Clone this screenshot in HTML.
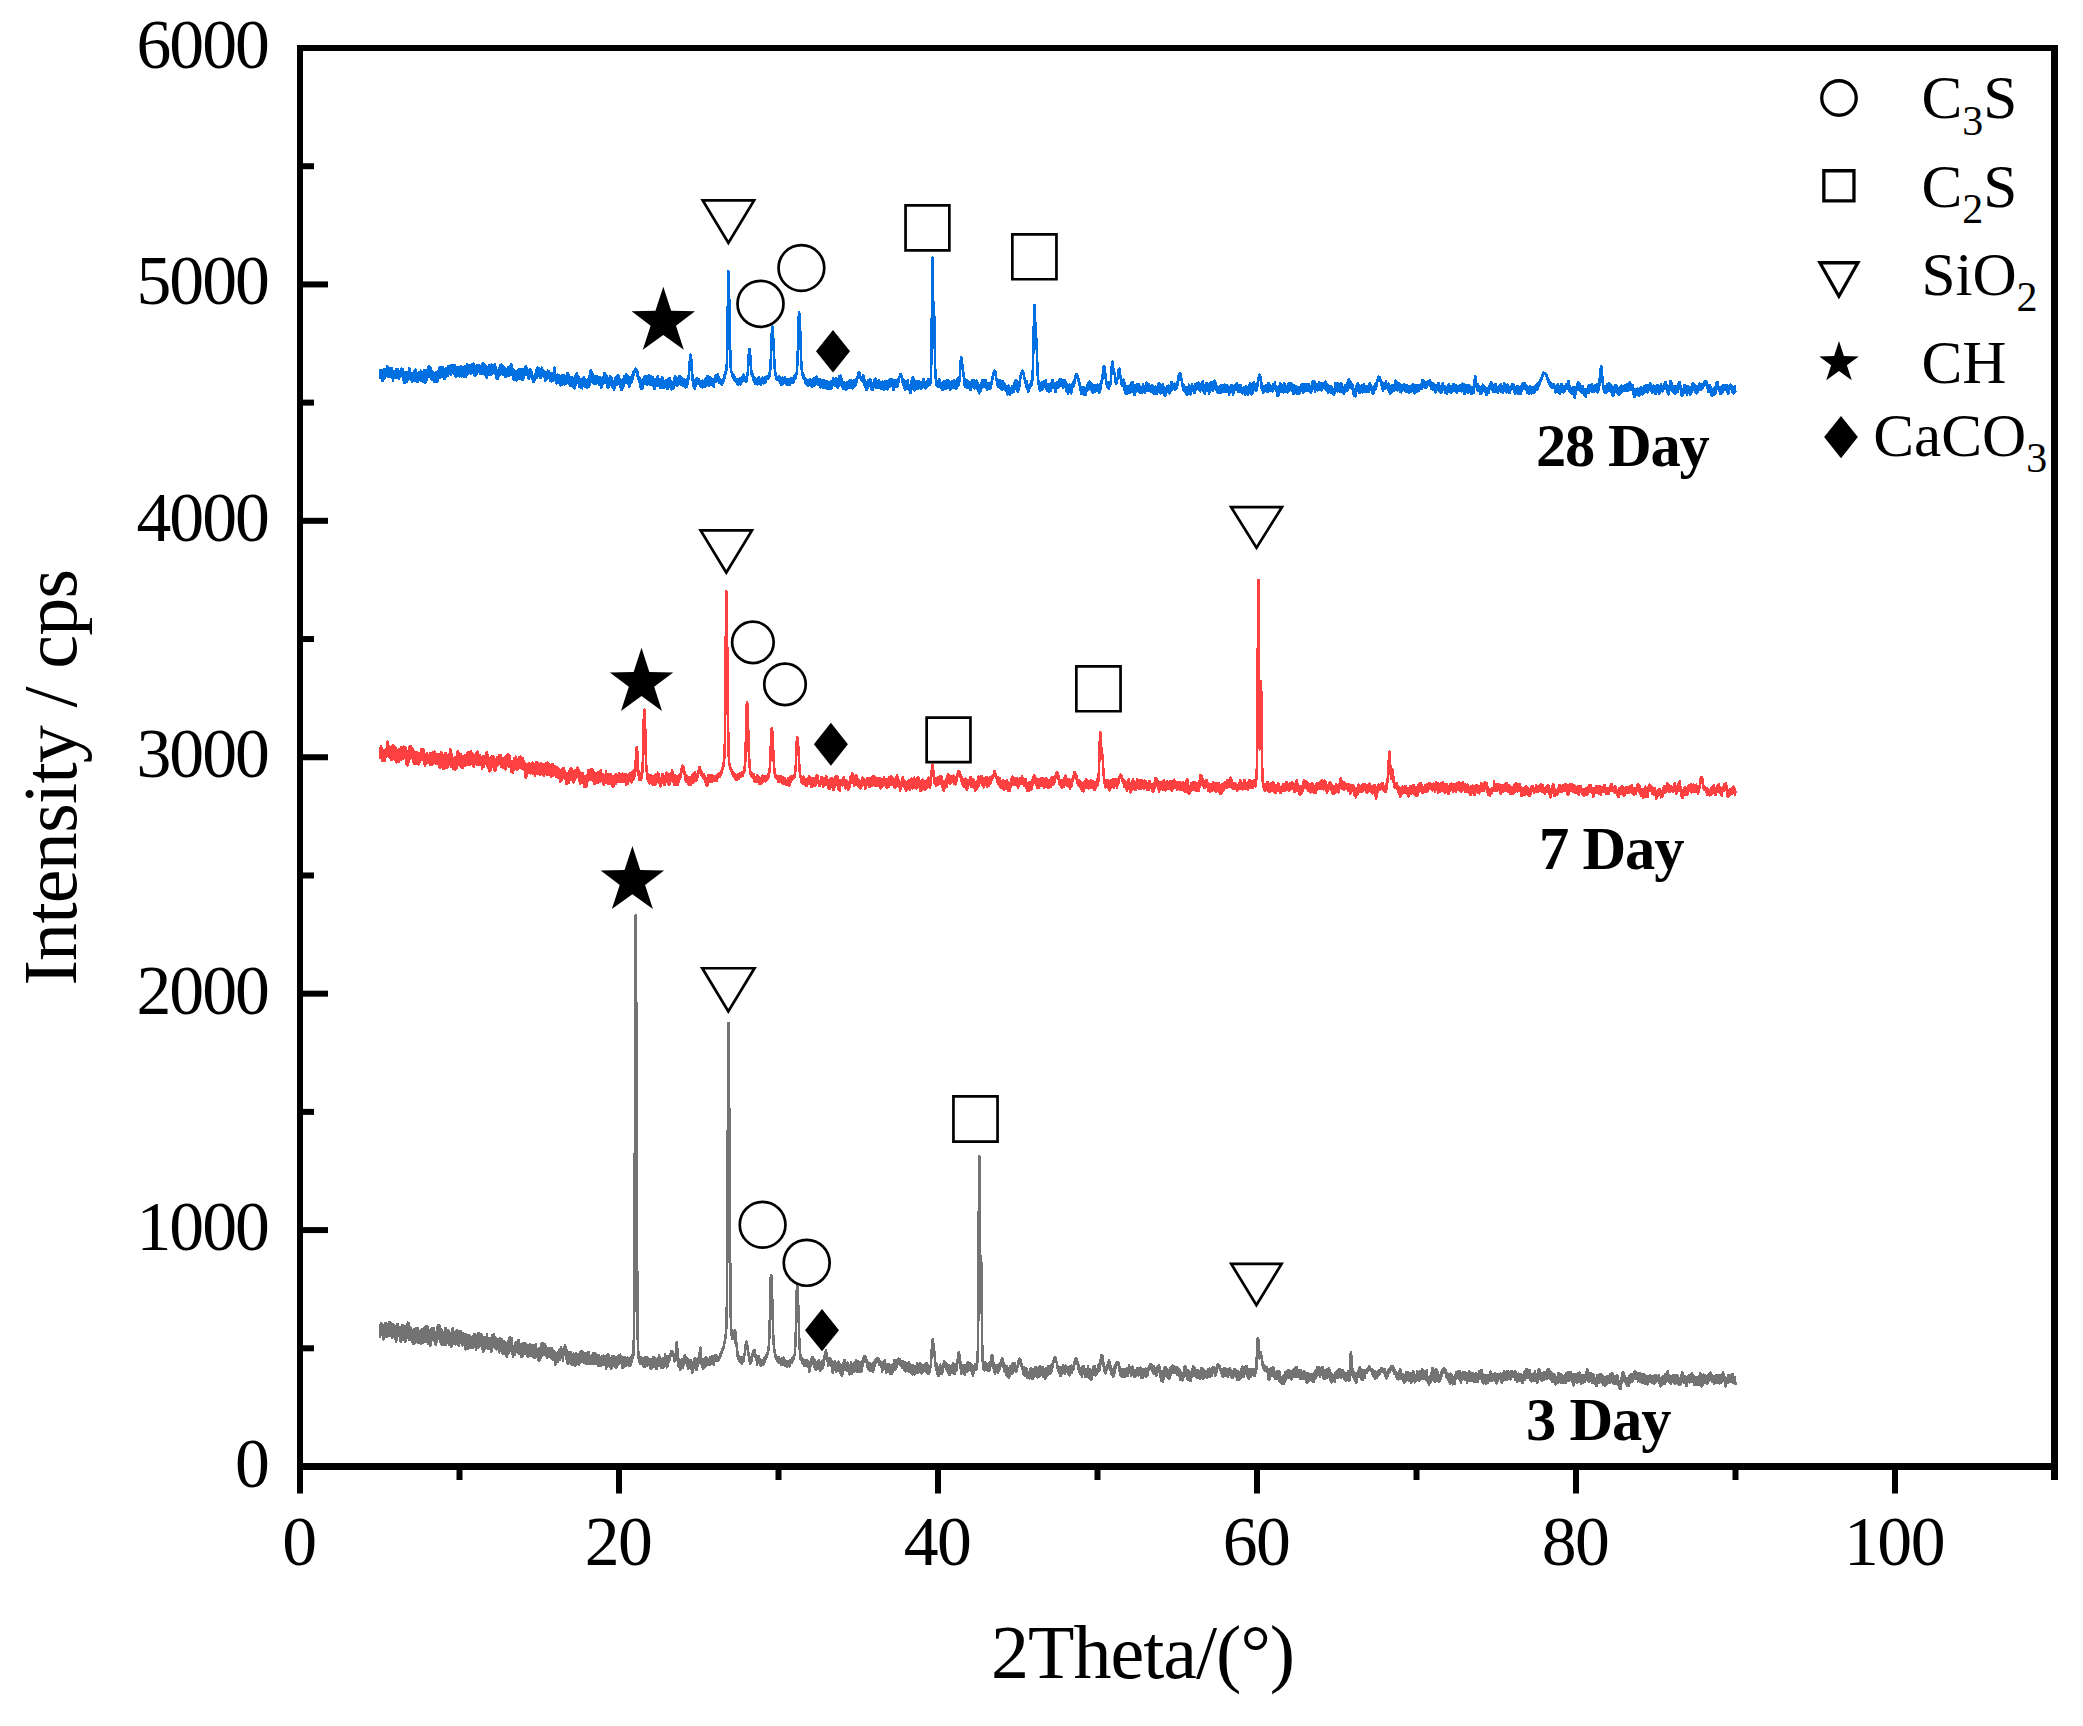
<!DOCTYPE html>
<html><head><meta charset="utf-8"><title>XRD patterns</title>
<style>html,body{margin:0;padding:0;background:#fff;}svg{display:block;}text{font-family:"Liberation Serif","Times New Roman",serif;fill:#000;}</style>
</head><body>
<svg width="2083" height="1726" viewBox="0 0 2083 1726">
<rect width="2083" height="1726" fill="#fff"/>
<g><path fill="none" stroke="#737373" stroke-width="2.6" stroke-linejoin="round" shape-rendering="crispEdges" d="M379.8 1330.4l.1 6.4.2-11.6.1 11.7.2-9.2.1 1.6.2 5.8.2-6.2.1 1.9.2-7.8.1 10.4.2-3.3.2-3.1.1 6.6.2-7 .1 2.3.2-4.3.2 4.3.1-2.5.2 1.4.1 7.5.2-6.4.2 3.2.1 7.4.2-.3.1-3.6.2-2.9.2-4.3.1-2.1.2 11.4.1-7.1.2-6.2.2 7.2.1 2.1.2-2.5.1 4.5.2-12.7.2 7.3.1-.8.2-5.6.1 8.7.2 3.4.1-3.7.2-4.7.2 8.7.1-4.7.2.1.1 3.7.2-8.9.2 9.9.1-2 .2 1.4.1-9 .2 8.8.2-9.3.1-1.9.2 11.3.1-.2.2 0 .2-6.2.1-3.1.2-4.1.1 9.3.2 1 .2 1.6.1-8.4.2-1.1.1 6.2.2 2.4.2 2.4.1-12 .2 5.2.1 6.5.2-6.6.2 3 .1-8 .2 10.2.1 4.1.2-1.1.2 1 .1-3.4.2-6.3.1 7.7.2-8.6.1 9.1.2-11.8.2 11.4.1-9.9.2 3.3.1-.6.2 5.9.2-7.3.1 3.8.2-5.4.1 4.4.2 2.9.2-4.3.1 8.4.2-3.4.1 5.6.2-.9.2-3.3.1 6.6.2-3.8.1 2.3.2-7.7.2 2.4.1-6 .2 11.4.1-12.1.2-.4.2-3.4.1 2.4.2 7.4.1-1.3.2-8.9.2 3.7.1.6.2 3.9.1-3.1.2 2.3.1 4.3.2-1.3.2-5 .1 1.9.2-.7.1-3.4.2 2 .2 1.6.1.8.2.2.1 4.2.2 6 .2-3.1.1 0 .2-.8.1-2.9.2 4.5.2-4 .1-3.4.2-7 .1 5.9.2-4.6.2-1.5.1 5.7.2 4.2.1-7.5.2 7.6.2-3.5.1-5.4.2 13.1.1-8.2.2-1.1.2 9.1.1-10.7.2 9.9.1-8.2.2 3.3.2-2.5.1 9.3.2-7.3.1 8.7.2-6 .1.4.2-3.2.2-3.9.1.9.2 8.1.1-11.9.2 12.1.2-3.7.1-6.4.2 4.4.1-4.1.2.1.2 1.9.1-7.6.2 7.5.1 7.6.2-10.7.2 7.3.1-4.7.2-3.6.1 11.2.2-13.8.2 4.8.1 11.3.2-11.3.1 9.8.2-3.4.2 3.8.1-2.2.2-3.6.1 6.9.2-11.1.2 7.1.1-.9.2 1.9.1-5.4.2 1.5.1 5.3.2-2.9.2 6.2.1-3.1.2 4 .1-2.2.2-2.1.2-5 .1 8 .2-8.4.1-2.7.2 14.3.2-6.7.1 3.7.2-4 .1 1.1.2-9.4.2 2.2.1 7.6.2-1.9.1-6.8.2 12.7.2-12.9.1 5.7.2-5.8.1 9.2.2-7.1.2-2.4.1-1.5.2 1.9.1.1.2 5.4.2-1.5.1 8.1.2 0 .1-2.4.2-1.8.2 3.1.1 2 .2-14.4.1 2.1.2 4.4.1-3.9.2 8.6.2-5.2.1.3.2.5.1-3 .2 10.4.2-1.5.1-.8.2-9.3.1 6.3.2 4.2.2-8.7.1 3.7.2-6 .1 1 .2 2.1.2 3.1.1.6.2 6.7.1-9.6.2-5.2.2 12.8.1-12.8.2.1.1 14 .2-3.7.2-7 .1-3.5.2 4.2.1-.8.2 8.9.2-7.4.1-5.5.2 14 .1-5 .2-8.3.2-.1.1 5.8.2-6.2.1 8.8.2-.3.1-9.7.2 12.7.2-.4.1 2.1.2-4.2.1.3.2-8.8.2-2.5.1.6.2 14.8.1-5.4.2 4.9.2-10 .1 6.6.2-11.5.1 1.8.2 1.9.2 4.8.1.4.2-.6.1-.8.2 3.1.2 7 .1-7.9.2 6.8.1-12.6.2 5.9.2 3.1.1 1.1.2-6.2.1 2.4.2 8.9.2-5.2.1-1.3.2-8.9.1-.4.2 2.5.1-1.3.2 14.2.2-16.6.1 6.1.2-5.3.1 9.5.2-10.2.2 0 .1-.2.2 2.8.1 4.8.2 3.6.2-9.3.1.1.2 9.2.1-1.2.2-10.3.2 11.7.1.7.2-10.7.1 7.9.2-7 .2 1.1.1 4.4.2.8.1-.6.2 1.3.2-5.4.1 9.8.2-8.4.1 11 .2-6.7.2-3.4.1-2.2.2 5.2.1-2.1.2 3.9.2-2.6.1-8.4.2 12.8.1-14.1.2 12.3.1-1.2.2 1 .2-5.2.1-9.3.2 4.2.1-.5.2 3 .2-4.3.1 5.1.2-7.6.1 3 .2 3.8.2-1.4.1-4.4.2 14.8.1-4 .2 3 .2-7.6.1 10.3.2-1.9.1 3 .2-12.9.2 4.8.1-1.4.2 4 .1-5.9.2-2.4.2 6.5.1 2.9.2-4.1.1 10.3.2-9.6.2-1.6.1 8.7.2-5.8.1-3.2.2.2.1 11 .2.2.2-5.4.1-6.4.2 7 .1-8.6.2 1.3.2 3.3.1-2.6.2-1.1.1 10.2.2-13.3.2 7.6.1-9.3.2 1.3.1 2.4.2 13.5.2-4 .1 2.7.2-13.4.1 10.6.2-4 .2-.6.1 4.7.2-6.9.1 3.1.2-4.5.2 1.9.1 2.1.2-6.4.1 2 .2 2.5.2 1.2.1 5.8.2-2.1.1-.7.2 5.7.2-10.4.1-.9.2 5.3.1-3.9.2 7.2.1.5.2-7.3.2 9.5.1-2.8.2-2.5.1 7.8.2-1.4.2-10.8.1-1.3.2 11.9.1-12.8.2 9.5.2-7.7.1.4.2 2.9.1 5.8.2-15.5.2 2.5.1 9 .2-5.4.1-1.8.2 11.1.2-11.5.1 7.5.2 4.2.1-3.1.2-.6.2.4.1 1.6.2-8.5.1 6 .2 3 .2 1.4.1.3.2-.2.1-13.2.2 4.4.2 1.3.1 7.1.2-7.6.1-2.4.2-3.7.1 4.7.2 8.3.2-12.2.1 2.6.2 2.5.1 3.7.2-2.7.2 8.4.1-11.1.2 5.7.1 3.5.2 2.4.2-.8.1-11.9.2 10.7.1-1.7.2-4.1.2-6.4.1 2.3.2 9.2.1-11 .2 3.4.2-1.3.1 7.7.2-6.5.1-4.5.2 4.5.2-.5.1 6.5.2-6.1.1 6.4.2-2.2.2 5.9.1-2.3.2-5.1.1 1.3.2-.3.1 6.4.2-12 .2 4.5.1 1.7.2-1.5.1 2.7.2-1.3.2-1.1.1 4.8.2-5.3.1 4.9.2 2.3.2-9.4.1 3.2.2 9.9.1.2.2.3.2-15.5.1 12.5.2 1.6.1-.6.2-3 .2-.6.1.8.2-2.1.1 3.6.2-4.4.2-4.2.1-1.9.2 13.3.1-2.2.2-9.1.2 10.5.1-8.3.2 5.4.1-4.5.2-2.4.2-.7.1-1.8.2-.1.1-.2.2.3.1 11.9.2-5.1.2-6.1.1 6.3.2.3.1-.8.2-4.7.2 3.4.1 6.8.2-7.9.1 1.7.2 6.7.2-11.1.1 7.9.2-3.8.1 5 .2-6.7.2 2.9.1-2.8.2 7.7.1.5.2-4.8.2 5.2.1-4.3.2 1.2.1.6.2-10 .2 11.1.1-9.5.2 1.8.1-4.9.2 10.4.2-7.3.1 5.9.2-7 .1 2.5.2 1 .1-2 .2-2.9.2 11.7.1 3 .2-11.4.1-1 .2 2.8.2-4.3.1 8.8.2-4.7.1 2.9.2 5.1.2-.9.1.8.2 0 .1-5.5.2-1.4.2-7.2.1 1.1.2 6.7.1 5.3.2-6.4.2-6.6.1 3.3.2 8.6.1-9.4.2.6.2 1.2.1 5 .2 3.4.1-9.8.2 5.8.2-1.2.1-1.4.2 2 .1 3.6.2-9.2.2 4.4.1-6.1.2 6.5.1 4.5.2 3.4.1-8 .2-2.5.2 4.7.1-2.8.2-3.6.1 6.8.2 4.7.2 1.9.1 1.7.2-9.1.1-1.7.2-2.1.2 4.8.1 5.4.2-9.1.1 9.1.2-2.5.2-8.1.1 6.3.2 2.7.1 1.6.2-12 .2 9.9.1-.9.2-8.4.1.5.2 9.7.2-9.4.1-1.3.2 6.4.1-9 .2 5.4.2-1.7.1 3.1.2 1.3.1.9.2-2.8.2 7.2.1-.6.2 1.5.1-7.4.2 4.3.1-4.7.2-2.4.2 5.6.1 4.4.2-2 .1-7.7.2-.6.2 8.5.1-.7.2 2.7.1-10.4.2 11 .2-6.2.1-2.2.2 1.1.1 9.7.2-.7.2-13.4.1 3.2.2 5.6.1-10.7.2-.5.2-.4.1 11.9.2-8.5.1-.6.2 6.8.2-7.4.1 6.1.2-5.6.1-1 .2 1.5.2-3 .1-1.1.2 12.3.1.4.2-5.6.1 3.8.2 3 .2-6.7.1 5 .2.9.1-9.8.2 1.1.2 9.2.1-.5.2-7.5.1 9.7.2-.1.2-6.7.1.2.2-3.2.1 5 .2-4.9.2 6.4.1 1.2.2-.7.1-7.6.2 8 .2 1.9.1-8.9.2 6.7.1 3.3.2-9 .2 10.6.1.9.2-3.7.1 2.3.2-8.9.2 5.6.1 3.6.2-13 .1 11.1.2-8.6.2 8.2.1-2.3.2 2.4.1-5.7.2.9.1 7 .2-12.2.2 1.5.1 12 .2-.6.1-10.8.2 12.3.2-9.9.1 9.5.2.4.1-12.5.2-.1.2 4.6.1 8.6.2-2.2.1-6.2.2 6.5.2-8.2.1.3.2-2.5.1 11 .2-2.1.2-4.7.1-2.6.2 10.5.1-7.7.2-2.3.2 3.6.1 4.6.2 1.1.1-9.2.2 12.2.2-3.6.1-8.6.2 11.1.1 1.8.2-2 .1-12 .2 6.3.2 1.3.1 3.8.2-6 .1-6.5.2 11.6.2-.2.1-7 .2-6.5.1 10.8.2-1.6.2 3.1.1-13.8.2 5.9.1-2.3.2-2.7.2 8.6.1-5.8.2-4.5.1 1.1.2 9.3.2-2.9.1-5.6.2 6.8.1-7.7.2 7.9.2.1.1-8.5.2 7.7.1 3.8.2 1.4.2.2.1 3.5.2-.8.1 3.2.2-6.3.2-4.7.1 2.4.2 1.8.1-3.4.2.8.1 5.4.2-4.2.2-.1.1 5.7.2.9.1-.6.2-7.4.2 4.1.1 1.6.2-10 .1.6.2 6.2.2-5.1.1-.8.2 2.7.1-4.6.2 5.9.2-5.3.1 2.7.2-.6.1 1.3.2-3.1.2 4.4.1 2.6.2-5 .1 7.8.2-1.1.2-7.7.1-3.7.2 10 .1-7.2.2 1.4.2 3.5.1 5.9.2-9.4.1 2.6.2 2.4.2 1.1.1-6.1.2 5.5.1-.5.2 1.8.1-7.1.2.4.2 11.7.1-1.8.2.4.1 1.8.2.7.2-7.3.1 5.2.2-1.4.1-1 .2 1.5.2-5.1.1 6.9.2-6.6.1-4 .2-2.4.2 7.9.1-6 .2 9.3.1-10.5.2 1.4.2 8.9.1-6.2.2 5.4.1-1.7.2-8.6.2 1.5.1 2.5.2 6.8.1-7.1.2 1.9.2.5.1-1.8.2 6.4.1-9.6.2 2.5.1 8.1.2-2.7.2-1.3.1-1.9.2-3.3.1 4.3.2 6.9.2-5.3.1-.3.2 5.5.1-1.4.2 1.5.2-.6.1-3.8.2-4.8.1 4.3.2-3.8.2 6.1.1-8.9.2 4.2.1 5 .2-5.2.2 1.9.1-6.7.2 2.5.1 8.9.2-3.9.2-3.8.1 2.2.2 3.5.1.2.2.5.2-7.1.1-.8.2 5.2.1-1.6.2.4.2-4.7.1 1.5.2 5.8.1-4.9.2 5.6.1-9 .2 12.2.2-9.5.1 3.8.2 5.9.1-8.8.2-.4.2 9.8.1-1.3.2-5.1.1-6.4.2 7 .2-4.8.1-.6.2 9.4.1-4.2.2-2.3.2-4.9.1 4.2.2 6.6.1-7 .2.7.2 4.2.1-4.1.2 4.6.1 3.3.2-5.9.2 2.8.1 1.5.2-2.7.1-1.8.2-1.6.2 5.8.1 4.8.2-12.1.1 11.2.2 1.3.1-5.3.2 5.8.2-3.2.1-1.9.2-1 .1 0 .2 2.6.2-6.2.1 5.8.2-3.6.1 1.7.2 2.7.2-10 .1 1.5.2-2.2.1-3.4.2 7.2.2-.1.1 4.8.2-5.1.1-2.5.2 6.8.2-11.3.1 4 .2 6.1.1-7.5.2 2.7.2 6.4.1-6.7.2-1.5.1 8.2.2-10.9.2 9.6.1-7.5.2-1.9.1 3.1.2-.4.2 6 .1-2.8.2-3.6.1 1.7.2-2.7.1 9.3.2-7.1.2 7.1.1-2.4.2 3.8.1-6.9.2 1 .2-.6.1 6 .2 1.6.1-1.7.2-4.9.2 4.9.1-1.2.2-2.7.1-4.2.2.9.2 6.2.1-6.3.2 4.9.1 3.5.2-1.7.2-.2.1-4.3.2-1.4.1-.8.2.4.2 2.6.1 4.2.2-1.7.1-2.8.2 1.1.2 1.8.1 4.2.2-2.1.1-8.1.2 5.5.2-4 .1 8.5.2.3.1-4.3.2 2.4.1-.7.2 1.8.2-6.8.1-.5.2 6.8.1 3 .2-9.1.2 4.7.1.1.2-1.7.1 5.3.2-7.5.2 3.6.1 1.1.2 7.1.1-3.2.2.6.2 3.7.1-9.8.2 4.7.1-6.5.2.5.2 6.5.1 1.4.2-2.8.1-1 .2 2.4.2 1.8.1-.7.2-1.7.1-5 .2 4.1.2-6.8.1 8.5.2-7.9.1 9 .2-8.5.1-.4.2.9.2 1.8.1-3.8.2.6.1 7.5.2.1.2-10.3.1 3 .2-.8.1 4.6.2-2.6.2-3.5.1 4.6.2-2.4.1-4.9.2 7.6.2-3.6.1 5.8.2-2.2.1-5.9.2 8.2.2-1.7.1 0 .2-1.2.1 3.3.2-7.3.2 5.5.1 5.2.2-9.1.1-.9.2 3 .2.9.1-2 .2.5.1.5.2-.9.2-6 .1-.2.2-.8.1-.9.2.9.1.3.2 1.3.2 1.8.1-.4.2.1.1 6.1.2 3.4.2-.7.1-8.5.2.5.1 6 .2 1.2.2.8.1 3.6.2.6.1 1.3.2-7.9.2 1.7.1 6.6.2-3.6.1-7.9.2 10.6.2-3.6.1-5.3.2 1.8.1 2.8.2.7.2-3.2.1 3.9.2-2.8.1 5.3.2-1.5.2-8.7.1-.4.2 9.6.1-2.6.2 5 .1-6.3.2-2.7.2-1.5.1 9.4.2-8.5.1 7 .2-1.1.2 2 .1 2.3.2-9 .1 2.9.2 3.2.2-6.8.1-1.3.2.7.1 10.1.2-1.5.2-7 .1-2 .2 8 .1-3.7.2-1 .2-.3.1 3.5.2-1.7.1 7.4.2-4.8.2 4 .1.1.2-.5.1-5.2.2.8.2-.9.1-6.6.2 11.3.1-10.1.2 4.8.2 1.5.1 1.1.2-3 .1 1.2.2 2.5.1-2.1.2.6.2 2.6.1-9.3.2 5.8.1-5.8.2 1.7.2-1.4.1 10.2.2-6.9.1 1.9.2 2.7.2-1.8.1 2.3.2-5.9.1 2.1.2 1.7.2-9.6.1 4.5.2-4.6.1 5.9.2-2.7.2 6.7.1-4.4.2-3.6.1 8.8.2-5.4.2-5 .1 3.1.2 1.4.1-4.3.2 1.5.2 2.1.1.7.2 1.5.1-1.5.2.6.2 1.9.1-1.2.2 5 .1.3.2-9.5.1 1.6.2-.9.2 2.8.1-.2.2 4.6.1-.3.2 1.8.2-2.3.1-1 .2 5.1.1-4.1.2-3 .2-.9.1-3.3.2 11.1.1-2.5.2-4.7.2 5.9.1-1.6.2-3.8.1 5.8.2-.9.2-5.5.1-.4.2-3.4.1-.6.2 3.2.2-1.7.1-1.6.2 8.3.1 3 .2-3 .2 3 .1-.1.2-2.5.1-1.1.2-1.7.1 1.9.2-1.9.2-1.5.1 4.1.2 2.2.1-.7.2 2 .2-4.8.1-4.1.2 2.6.1.8.2 3 .2-2.2.1 2.9.2-5.7.1 2.5.2-6 .2 7.9.1 1.8.2-.4.1 0 .2-8.4.2 9.5.1-5.1.2-4.2.1-.9.2 0 .2 7.2.1.3.2 2.2.1-1.3.2-1.5.2-4.3.1 6.9.2-9 .1 7.7.2-6.2.2-.3.1 8.9.2.1.1-2.5.2-5.8.1 3.1.2-1.3.2-2.5.1 1.8.2-1.9.1 11.2.2-8.7.2 2 .1-1.6.2 4.9.1-1 .2 2.6.2-9 .1 2.4.2 4.9.1-.1.2 3.2.2-8.8.1 3.7.2.5.1 1.5.2-1.8.2 4.7.1-7.6.2-.5.1 3.1.2-2.7.2 3.5.1 2.2.2-6 .1 4.3.2 1 .2-.1.1-6.6.2 8.5.1-1 .2-5.5.1 1.5.2 2.7.2.6.1-7.5.2 5.9.1-4.4.2 6.2.2-.9.1-6 .2.3.1 2 .2 6.2.2-9.1.1 5.4.2 1.8.1 1.5.2-7.3.2 6.7.1-1.5.2-1.3.1 7.5.2-10.5.2 6.8.1-6.5.2 8.3.1-5.9.2-1 .2-2.9.1 3 .2 3.7.1-9.5.2 7 .2-5.9.1 1.1.2 7.8.1-8.9.2 8.1.2-7.6.1 5.7.2 1.7.1-5.2.2 8.1.1-6.6.2 3.4.2-2.5.1 6.5.2-5.8.1.3.2-2.8.2 10.6.1-10.2.2 3.3.1 3.7.2-3.9.2 2.9.1-3.1.2 5.7.1-8.9.2-2 .2.5.1 4.6.2.5.1 2.6.2 1.2.2-6.6.1 4.9.2-4.9.1-.4.2-2.8.2 8.7.1-6.2.2 3.7.1-1.4.2 5.7.2-8.5.1 3.6.2 3 .1-6.7.2 7.6.2-2.9.1-5.1.2 10.2.1-6.5.2.7.1 3.3.2 1.8.2-8.7.1-1.7.2 6.5.1-1.2.2-3 .2 2.1.1 3.2.2-1.2.1-3.1.2 4 .2.2.1-1.5.2-7.4.1 5.2.2.6.2 3.1.1-4.2.2 1 .1 1.2.2-7.2.2-.2.1-.1.2 1.1.1 2 .2-2 .2 6.6.1.2.2-1 .1-4.7.2 6.1.2-4.2.1-1.3.2 9 .1 1.2.2-9.5.1 6.5.2-6.8.2 5.9.1.4.2-.4.1 4.5.2-4.3.2-5.1.1 8.4.2-7.2.1 2.4.2-1.4.2 3.9.1-8.2.2 2.9.1.8.2 1.6.2 3.5.1-6.5.2.7.1 3.8.2-4.6.2 3.6.1-1.7.2 3.6.1-.2.2 1.2.2-2.6.1-2.1.2-2.4.1 5.9.2-4.2.2-2.6.1 3.5.2-1.3.1 3.9.2-4.1.2.6.1 3.4.2-.6.1-5 .2 4.2.1 3.4.2-.2.2-.5.1-5.2.2 6.5.1-6.9.2 1.8.2-2.6.1 3.9.2 1.1.1-.6.2-6 .2 7.6.1-5.8.2 2.9.1.9.2-1.6.2-2.3.1-.3.2-3 .1 1.2.2 2.3.2-1.3.1-.6.2-.6.1-2.3.2 1.6.2-3.9.1-2.6.2-2.3.1-6.8.2-8.7.2-15.6.1-23.2.2-32.8.1-43.5.2-53.7.1-61 .2-63 .2-57.2.1-43.1.2-22.4.1-.5.2 17.2.2 30.1.1 39.3.2 45.8.1 50 .2 50.3.2 47.3.1 41.4.2 34.3.1 26.6.2 19.7.2 13.8.1 8.9.2 6.4.1 2.7.2 2.7.2 1.1.1 2.9.2 3.3.1-3.2.2 4.7.2-2.7.1 3.1.2 1 .1-1.2.2 1 .2-.5.1 2.3.2-1.1.1-2.9.2-1.1.2-1.3.1 2.9.2-2.5.1.1.2 5.8.1-1.5.2-1.2.2 3.1.1-2.7.2-.9.1 3 .2-.5.2-3.7.1 1.2.2 2.5.1-3.3.2 7 .2-8.6.1 8.4.2 1 .1-3.7.2-4.1.2 6 .1-3.9.2 2.7.1-4.2.2-1.1.2 7.5.1-9.2.2-.2.1 7.6.2-.1.2-4.8.1.6.2 3.3.1-1 .2.5.2-2.4.1 5.6.2-9 .1 5 .2-4.7.2 1.3.1-.4.2 5.8.1-2.4.2-2.4.1 2.7.2-.4.2 1.4.1-2.8.2 1.9.1 1.3.2-3.9.2-.5.1 6.5.2-4.1.1 6.6.2-8.6.2 2.2.1 4.3.2-5.6.1 3 .2-1.5.2-.6.1-.5.2 8 .1-7.4.2-2.4.2 8.7.1-8.5.2 6.3.1-1 .2.5.2.5.1-6.8.2-1.7.1 4.2.2 0 .2-2.3.1 6.4.2-7.7.1 4.6.2.6.1-5.5.2 9.2.2-4.7.1 1.3.2-3 .1 2.8.2.6.2 1.7.1-6.3.2 4.3.1.6.2 5.1.2-4.1.1.9.2-2.9.1.4.2 5.3.2-6.6.1 6.2.2-4.6.1 3 .2-4.1.2 2.3.1-.4.2-5.2.1-1 .2 6.5.2-7.1.1 4.9.2-6.9.1 3.5.2-1.2.2-.9.1-.2.2 8.4.1-2.8.2-1.8.2 1.7.1 3.6.2-1.4.1-5.6.2 1.2.1 7.8.2-3.5.2.4.1-4.8.2-.4.1.8.2 1.1.2 2.4.1-2.2.2 3.3.1-2.8.2.9.2 4.8.1-10 .2 6.5.1 1 .2-6.2.2 7.3.1-8.3.2 7.2.1-7.1.2 2.1.2-.8.1 1.5.2.2.1-6.8.2 8.1.2-3.2.1 4.1.2-7.9.1 3.1.2 5.8.2-3 .1-1 .2.1.1 5.2.2-9.1.1 10.7.2-5.2.2 3.8.1-3.4.2 3.3.1-7.4.2 2.8.2 2.9.1 1.5.2-5 .1-4.2.2 5.2.2-1.2.1-4.2.2.3.1 1.8.2-2.4.2 4.3.1 0 .2-1.9.1-.1.2-2.9.2-1.5.1 2.1.2-.4.1-.9.2-2.3.2-.9.1 1.3.2-1.6.1.2.2.3.2-.4.1 1.6.2-1.7.1.9.2 1.5.2-.5.1-.5.2 1.8.1-1.4.2.3.1.3.2 3.3.2.7.1.7.2.7.1 0 .2 2.6.2-2.5.1-2 .2.9.1 1.2.2 1.3.2-2.1.1-.1.2-2 .1.1.2-2.6.2-4.7.1-2.4.2-3.8.1-.2.2-.7.2 2.5.1 3.2.2 2.3.1 4.9.2.5.2 4.4.1 2 .2 4.5.1-6 .2-1 .2 5.8.1-2.8.2 2.7.1-2.7.2 4.7.2-5.5.1 4.1.2 2.8.1 1.3.2-6 .1 2.1.2 4 .2-8.8.1 6.9.2-1.3.1 2.2.2-5.2.2-.5.1.9.2-2 .1-3.2.2 5.5.2-1.9.1 1.3.2 2 .1-3.4.2-2.6.2 6.9.1 1 .2-7.8.1 3.7.2-2.9.2 3.1.1-7.3.2 8.8.1-1.2.2-8 .2 4.9.1-3.7.2-1.6.1 6.5.2-1.1.2-1.8.1.6.2 2.9.1-5.2.2 2 .1-2.3.2 2.9.2-2.5.1 2.4.2 3.6.1-3.4.2 4.4.2 1.8.1-1.5.2-1.4.1-.7.2-3.3.2 7.4.1 2 .2-7.6.1 4.8.2-1 .2 2.3.1-1.4.2-5 .1-.6.2 2.2.2-1.5.1 4.5.2-5.3.1 6.2.2 1.2.2-7.7.1 8.9.2-.5.1-7.9.2 5.4.2-5 .1 5 .2-3.7.1 5.6.2-4.7.2.6.1 9.3.2-1.5.1-1.4.2 1 .1-6.3.2-1.7.2 1.6.1 3.8.2-.8.1-1.1.2-3.7.2.3.1 1.9.2-1.9.1-3.9.2 2.4.2 4.7.1.4.2-8.6.1.8.2-.1.2 5 .1 4.5.2-3.3.1-1.4.2 5.8.2-6.2.1 3.1.2 3.2.1-.3.2-7.7.2 1.3.1.5.2 3 .1-1.4.2-2 .2-2 .1-1.4.2 2.5.1 1.7.2-4.6.1-.8.2-2.6.2.7.1-.2.2.9.1-.1.2-3.8.2-3.1.1-2.1.2.2.1.1.2-.7.2 3.4.1 3.1.2 1.4.1 1.8.2 1.3.2 1.2.1 4.8.2-.4.1 2.4.2-7.3.2 1.2.1 3.9.2.8.1-1.3.2.9.2 3.5.1-3.1.2-2.9.1 2 .2-2.1.2 2.8.1-.6.2.9.1 2.2.2-4.5.2-4.4.1 4 .2 0 .1 2.4.2 1.1.1-7 .2 6.5.2-6.5.1 3.7.2-5.3.1 7.4.2-4 .2-1.9.1 6.3.2-7.7.1 2.2.2.9.2-1.8.1.8.2 4.3.1-5.4.2 3.4.2-2.7.1 3.7.2-2.9.1.8.2 1.9.2-2.3.1 3.9.2-4.4.1 4.9.2-1.4.2-5 .1 2.9.2-4 .1.6.2.9.2 2.9.1-.9.2-.8.1-2.8.2.9.2 3 .1-1.5.2-1.3.1-1.8.2-.1.1 6.9.2-3.7.2 3.8.1-4.6.2 2.8.1-2.3.2 4.8.2-4.7.1 2.3.2 2.8.1-1.9.2-1.6.2-1.7.1.7.2-4 .1.5.2.7.2-1.8.1 1.1.2 1 .1 2.8.2.3.2-5.7.1 2.8.2 1.4.1.4.2-3.5.2-.8.1 1.5.2.5.1-.7.2.3.2 2.6.1-2.4.2-.2.1.5.2 1 .1-1.4.2 1.5.2 2.1.1-.7.2-.5.1.7.2-.3.2-2 .1.3.2-1.8.1.5.2 1.2.2-2.1.1-.7.2.6.1-1 .2-1.7.2.8.1-1.1.2 2.5.1-.9.2-1.3.2-1.5.1-.2.2.1.1.4.2-1.6.2.2.1-.9.2-.6.1-.5.2-.4.2 1.1.1-2 .2-.6.1.8.2-.4.2-1 .1-1.9.2-.6.1-.7.2-.9.1-.3.2-1.4.2-.1.1-1.5.2-1.4.1-1.3.2-1 .2-1.4.1-2.1.2-2.5.1-2.6.2-4.2.2-5.9.1-8.5.2-12.9.1-18.3.2-24.9.2-32.3.1-39 .2-43.4.1-43.8.2-37.9.2-25 .1-7.3.2 7.3.1 17.1.2 20.3.2 20.2.1 19.9.2 21.8.1 25.3.2 28.3.2 28.8.1 27 .2 23.8.1 19.5.2 15.4.1 11.4.2 8.5.2 5.6.1 4 .2 2.7.1 2.7.2 1.1.2 1.9.1.7.2 1.3.1 1 .2-.3.2.5.1.1.2-.6.1.2.2-.5.2-.7.1-1.4.2-1 .1-.7.2-1.2.2-.8.1-1 .2-.4.1-.5.2-.2.2 13.2.1-12.7.2 1.1.1 1.4.2 1.1.2 1.9.1 2 .2 1.5.1 2.4.2 1.7.2 1.5.1.8.2 2.3.1.5.2 3.5.1-1.1.2 1.5.2.8.1 3 .2 1 .1 0 .2 1.1.2-2 .1 3 .2-3.2.1 1.1.2 2.6.2-.6.1 1.3.2-.2.1-3 .2 1.1.2 3 .1-1.4.2.6.1-3.6.2 4.7.2-2.1.1-2 .2 2.5.1 2 .2-1.8.2 2.7.1-.1.2-2.3.1 2.8.2-1.1.2-3 .1-1.1.2-.6.1 2.5.2 1 .2-3.9.1 0 .2 3.6.1-1.4.2-2.9.1 2.2.2-2.7.2-1.6.1-.5.2-1.2.1 0 .2-2.1.2-.9.1-1.4.2-1.7.1-1.4.2-1.5.2-1.2.1-1.1.2.3.1 2.6.2-2.8.2.5.1.8.2.7.1 1.7.2.5.2 1.5.1 1.1.2.7.1 2.3.2 1.4.2.9.1-.6.2 1.1.1 1.1.2 1.3.2-.5.1 1.3.2 0 .1-.7.2 5.2.1-1.4.2 2.8.2-2.3.1.3.2-1.6.1 2.9.2-2.3.2 2.2.1-2.4.2 1.3.1-.9.2-2 .2-2.1.1.1.2.2.1-.6.2-1.9.2-.7.1-.7.2-.2.1-2.1.2.2.2 0 .1-.1.2-1 .1 3 .2-2.4.2.5.1-1 .2 1.6.1-.4.2 2.6.2 0 .1 2.7.2-1.6.1.6.2 2.1.2-.4.1 2.5.2.1.1-1.8.2 1.5.1-.3.2.3.2 5.3.1-2.7.2 1.3.1-2.9.2-1.7.2.8.1 2.2.2-2.3.1-3.1.2 3.7.2-.5.1 1.2.2-4.7.1 6.2.2-2.8.2-.5.1-.2.2 4.4.1-3.6.2.7.2 4.6.1-2.5.2-2.6.1.8.2 4.5.2-2.9.1-.3.2-.2.1 4.2.2-3.5.2 2.4.1-.8.2-.2.1-.1.2-2.9.1 3.2.2-1.9.2-1.8.1.5.2 1.6.1-.3.2 2.7.2-2.3.1-.3.2-3.4.1-.1.2.9.2.4.1 2.1.2-4.7.1 2.9.2-.8.2-2.1.1 2.6.2-2.7.1 1.6.2-2.7.2.8.1.5.2 0 .1-2.2.2-.8.2 1.2.1-.5.2-2.2.1 1.2.2.5.2-2.5.1.4.2 0 .1-2 .2.1.2-.9.1-2.9.2-1 .1-2 .2-1.5.1-3.6.2-4.4.2-4.5.1-5.7.2-6.2.1-7.3.2-7.7.2-8 .1-7.2.2-6.2.1-4.5.2-2.3.2.3.1.7.2 2.6.1 3.5.2 4.1.2 4.9.1 5.3.2 5.6.1 6.3.2 5.9.2 6 .1 5.8.2 4.6.1 4.3.2 3.7.2 3.4.1 2.5.2 1.9.1 2.6.2.6.2 2 .1 0 .2.7.1.2.2.4.2 2 .1 0 .2-.1.1 1.8.2 1.2.1.2.2-1.8.2 1.7.1 1.5.2-.8.1.4.2 1.7.2-2.6.1.2.2 2.8.1.8.2-3.6.2-.6.1 3.8.2-1.3.1-1.8.2-1.1.2 2.7.1-2.1.2 4.3.1.2.2-.7.2 1.7.1-3.7.2-.8.1 3.4.2-2.2.2 3 .1-3.7.2 1.7.1 2.1.2 1.9.2-5.5.1 2.4.2 3.3.1-6 .2 2.6.1 1.9.2-1.9.2 2.4.1-3.2.2-.8.1-2 .2 3.2.2 3.3.1-.5.2-6.4.1.3.2.2.2 5.8.1-3.4.2-.6.1 3.5.2-2.7.2.5.1 2.4.2 1.6.1-5 .2.3.2.1.1 5.5.2-2.8.1 2 .2-4.6.2 4.9.1-4.1.2 2.3.1-2.8.2 2.1.2 1.8.1-4 .2 5.7.1-.7.2-.9.2.4.1-3.2.2-1.2.1 1.6.2-1.3.1 1.4.2 3 .2-4.1.1-.7.2 4.8.1.7.2-3.7.2-1.4.1 4 .2-5.5.1 1.5.2 2.6.2-.7.1-.1.2-1.9.1 1.2.2-2.5.2 3.1.1-.7.2.7.1-1.2.2-.3.2-3 .1 1.8.2-2.6.1 4 .2-.8.2-1.4.1 1.1.2-.1.1-2.5.2 1 .2-2.5.1-.7.2 2.2.1-2.5.2 0 .1-.5.2.4.2-1.6.1-2.1.2-1.4.1-3.4.2-3.3.2-3.6.1-4.4.2-5.8.1-5.9.2-7.2.2-7.2.1-7.1.2-6.5.1-5.2.2-3.4.2-.7.1-.3.2 1.9.1 2.8.2 3.5.2 3.8.1 4.1.2 4.7.1 5 .2 5.4.2 5.6.1 5.2.2 5.1.1 4.2.2 4.5.2 3.4.1 3.5.2 2.3.1.5.2 2.6.2.7.1 0 .2 2.4.1 2.1.2-2.5.1-.2.2 1 .2 1.3.1-.5.2 2.2.1-1.7.2 3.1.2-3.4.1.3.2 4.5.1-4.5.2 3.9.2-3.6.1.6.2 2.8.1 1.3.2-1.1.2 2.4.1 0 .2-5.3.1 2.1.2 0 .2-1.8.1 3.3.2 1.6.1-.8.2.5.2-3.7.1 2.2.2-2.9.1 4.3.2 1.2.2-3.3.1.1.2 1.7.1 1.2.2-6.2.2 5.2.1 1.3.2-5.3.1.9.2 1.7.1 1.4.2-.7.2 1.4.1-1 .2.7.1-.5.2 3.3.2 2.7.1.6.2-5 .1-2.8.2 4.9.2 2.7.1-.3.2-2.6.1-3.1.2-3 .2 2.8.1 1.2.2.1.1-1.1.2.6.2-6.4.1 3.3.2-.9.1.2.2-.4.2 1.1.1-4.5.2-1 .1 3.8.2 1.3.2-1.5.1.8.2-1 .1 3.9.2.2.1-5.8.2 4.8.2-.5.1-3.8.2.7.1 7.2.2-.5.2-4.9.1 4.3.2 3.1.1-3.4.2.8.2.8.1-1.3.2 3.3.1-5.8.2-.3.2-1.1.1 3.2.2-1.1.1 1.6.2-3.2.2 2.8.1-.1.2-1.9.1 4.5.2-3 .2.8.1 3.3.2-.7.1-2.1.2-6 .2 6.3.1-3.1.2-.3.1 3.6.2-3.9.2 5.5.1.5.2-5.9.1.3.2 7.4.1-8.4.2 7.2.2-.5.1-.6.2-6.4.1 8.2.2-7.1.2 6 .1-3.6.2-1.8.1-1.4.2-1.6.2 1.9.1-1.1.2-1 .1 5 .2 1.9.2-3.9.1 1.5.2.2.1-5.9.2 1.3.2-.8.1-1.6.2.9.1-1.6.2-2.2.2 1.2.1-3.3.2-1 .1.8.2-1.4.2.1.1 0 .2-1.4.1.8.2.6.1 1.2.2.4.2.7.1 3.2.2-1.6.1 2.3.2-.2.2 3.5.1-.1.2.7.1-.6.2.4.2 4.1.1-4 .2 1.9.1-4.6.2 3.6.2 2.1.1-2.6.2 2.4.1-.5.2-5.1.2 3.5.1-4.1.2.7.1 5.8.2-4.2.2-1.4.1 4.3.2 2.6.1-3.8.2-.5.2.8.1-1.6.2.7.1 4.7.2-2 .2 2.5.1 5.2.2-.9.1.4.2.9.1-2.8.2-2.6.2-4 .1 6 .2-6.5.1 1.5.2-.5.2 6.3.1-.9.2-6.2.1 1.2.2 1.2.2-4.2.1 0 .2 5.8.1-.3.2 1.6.2 2.8.1-7.2.2 7.8.1-6.9.2 7.2.2-7.8.1 2.3.2 3.2.1-5.6.2-1.1.2 1.4.1.5.2 5.5.1-6.5.2 4.4.2 1.6.1-8.2.2 2.8.1 6.5.2-3.1.2-4.1.1 3.4.2-.8.1 4.6.2-.3.1-4.6.2 6.9.2-9.2.1 9 .2-7.8.1 5 .2-.9.2 4.7.1-3 .2-1.5.1 4.8.2-3 .2.6.1 4.1.2-4.7.1 1.5.2 2.5.2-.4.1-2.1.2-.5.1-7 .2 3.7.2-.2.1-5.4.2 6.9.1-2.8.2-6.3.2-.2.1-.5.2.3.1 4.5.2-5 .2 3.3.1-.9.2 4 .1.9.2-.3.1 0 .2 0 .2 2.5.1-2.4.2-2.6.1-1 .2 5.1.2 2.1.1-.9.2-.2.1.6.2-7.1.2 7.9.1-8.3.2 5.7.1-1.2.2-2.5.2 4.9.1-4.3.2-.3.1 7 .2 2.1.2-4.6.1 3.7.2 1.2.1-2.6.2-3.5.2 4.8.1-7.6.2-.5.1 4 .2 1.3.2-5.8.1.6.2-2.7.1 1 .2 2.8.2-1.9.1-.2.2 8.1.1 1.5.2-7.3.1 2.2.2-3.3.2 4 .1-3.3.2 4.3.1.7.2 0 .2-6.7.1 6.7.2 0 .1-6.1.2 6.7.2-6.7.1-1.1.2-1.3.1 7.9.2 0 .2-2.2.1-5 .2-1.3.1 6.4.2.1.2-1.2.1-6.6.2 1 .1 5.2.2-5 .2 8.2.1 1.9.2.2.1-1.4.2-7.9.2.7.1 8.4.2-4.6.1-4.7.2-1.4.1.8.2 7.3.2-6 .1 4.3.2 1.8.1-5.8.2 5.8.2-.4.1-7.2.2.3.1 7.9.2-.3.2.3.1-1.2.2 3 .1-4.8.2 3.8.2-.4.1-3 .2-1.4.1-1.8.2 6.5.2-1.7.1-1.3.2-4.3.1 3.3.2-5 .2 2.1.1-3.5.2 1.1.1.2.2 0 .2.4.1-.4.2-1.4.1-3.3.2 1 .2 1 .1.2.2-3.2.1 1.2.2 1.7.1-.5.2.5.2-2.2.1.8.2 2.4.1.5.2.7.2-.5.1.7.2-1.4.1 2.6.2-1.5.2 3.5.1-.6.2-1.3.1-.4.2.1.2.4.1 5.5.2-3.7.1 1.6.2-3.2.2 6 .1.9.2-3.9.1 3.8.2.3.2-2.4.1-4.7.2 5 .1-4.1.2 7 .2.4.1-6.4.2 1.8.1 3.3.2-4.2.2 5.7.1-3.4.2 1.2.1-2.1.2 3.2.1-.4.2.1.2-4.2.1 0 .2-.9.1 6.2.2-7 .2 2.3.1-2.8.2 5.5.1 2.5.2-3.8.2-4.2.1 2.3.2 2.1.1-4 .2 2.2.2-1.5.1-2.2.2 4.1.1-3.3.2-1 .2 1.9.1-1.6.2-1 .1-1.5.2 3.1.2-2 .1-1 .2.1.1-.8.2.9.2 0 .1-1.9.2-.1.1.1.2 1.2.1 1.2.2-.7.2-2 .1 2.3.2 1.2.1-3 .2.9.2 1.3.1.2.2 3.4.1-4.4.2.7.2 3.1.1-3.1.2 3.5.1.3.2-.4.2-.9.1.5.2-.7.1.3.2-.1.2 0 .1-.7.2 4 .1 1 .2-.1.2.1.1 3.3.2 1.2.1-8.1.2 3.4.2.5.1-3.9.2 2 .1.5.2-4.1.2 3.4.1-3.7.2 2.7.1-2.4.2-1.1.1-.5.2 4.5.2-4.9.1 4.2.2-3 .1 6.7.2 0 .2-4.5.1 2.4.2 3.9.1-5.8.2 7 .2-1.4.1 2.8.2-3.3.1-5.5.2 3.7.2 2.8.1-2.2.2-.9.1-1.3.2 4.4.2-5.5.1 5.9.2-4.9.1 2.9.2 3.4.2-3.3.1 2.9.2-7.6.1 4.4.2 1.7.2-4.6.1 5.6.2-.1.1-1.9.2 3.5.1-7.9.2 9.3.2-8.4.1 6.8.2-6.1.1-1.4.2 5.9.2-.4.1 2 .2 1.2.1-3.8.2.5.2.6.1-2.7.2 4.3.1-.8.2-6.4.2 4.8.1-5.2.2.1.1 2.3.2-1.9.2.9.1-3.8.2 4.7.1-6.4.2-1.1.2 1.9.1 2.9.2 3.4.1-4.3.2-1.9.2 8.2.1-2.3.2-3.1.1-.3.2-.5.2-.2.1 4.3.2-4.6.1 3.4.2-2.3.1.9.2-2.1.2-1.8.1-1 .2 3.7.1-.5.2-3.6.2.4.1.5.2 1.7.1-2.4.2.6.2-2.2.1 1.7.2 1.1.1-.8.2-1.6.2 2.7.1-1.8.2 3.1.1.8.2.3.2-3.1.1 2.4.2 2 .1-.8.2-2.7.2 1.4.1 2.8.2-1.6.1-1.5.2 2.9.2 2.1.1-1.4.2-3.5.1-.9.2-.9.2 1.2.1 2.7.2 2.8.1-5.9.2 4.4.1 2 .2-5.3.2 4 .1 2.3.2-7 .1 3.2.2 3.4.2-6.9.1-.3.2 5.8.1-.2.2 3.4.2-2.2.1 2.7.2-3.6.1 1.1.2 2 .2-4 .1 0 .2 2.9.1-6.4.2 4 .2-3.1.1 3.2.2-4.4.1.4.2 4.9.2-2.3.1 4 .2-1.6.1-.8.2 3.5.2-8.3.1 8.6.2-8.7.1-.5.2 8.9.1-8.1.2 3 .2-1 .1-.9.2 2.5.1 3.8.2-4.5.2 2.2.1 3.5.2-4.9.1-1 .2 1.8.2 3.4.1-.8.2 3 .1-5.9.2 6.2.2-5.3.1-3.4.2 6.4.1 3.1.2-6.9.2 6.7.1-.5.2-5.1.1 4.7.2-4.5.2 3.1.1-1.2.2-2.9.1 2.3.2-.3.2-3.3.1 7.9.2-6 .1 0 .2 6 .2-5.9.1-.4.2 4.1.1-5.3.2 5.8.1-5 .2-1.1.2-.7.1-.1.2 6.7.1-4.8.2-4.2.2.2.1 7.1.2 1.3.1.7.2-8.9.2 1.8.1 5.7.2-.1.1-.1.2-6.7.2 5.8.1-.4.2 1.6.1-4.6.2 2.1.2-4.4.1 5.7.2-7 .1 8.6.2-1.5.2-3.4.1-1 .2 2.8.1 2.7.2 1.7.2.2.1-4.4.2-2.5.1-1.8.2 6 .1-1.2.2-3.5.2 3.3.1-1.1.2 4.2.1-6.8.2 1.2.2 0 .1 2.9.2-1.5.1 2.4.2-1.2.2-1.7.1 3.1.2-1.4.1-4.7.2 2.2.2 2 .1 0 .2-1.7.1-2.7.2 6.3.2-2.9.1 1.2.2 2.3.1-7.9.2.9.2 6 .1-6 .2-.9.1 9.5.2-9 .2 8 .1 1.2.2-5.6.1 2.3.2-4.7.2 8.5.1-.8.2-5.6.1-2 .2 6.7.1 2.2.2-7.8.2 7.1.1-.2.2-5.8.1-.3.2.1.2.5.1.7.2-2.4.1.1.2.7.2-1.3.1.5.2-5.9.1 1 .2-4.4.2-2.5.1-1.4.2-3.5.1-2.8.2-2.4.2-2.4.1-1.4.2-.7.1-.2.2.9.2 1.2.1 1.2.2 2.1.1 1.5.2 1.5.2 1 .1 1 .2 1.1.1 1.5.2 2.4.2 1.6.1 0 .2 3 .1 2.7.2 1.3.1-1.1.2 3.4.2 1 .1-.8.2 2.5.1-5.3.2 7 .2-.2.1-3.3.2 4.1.1-2.1.2 3.3.2-3.8.1 3.6.2-5.1.1 8.8.2-2.3.2 1.9.1-2.4.2.2.1 1.9.2.8.2-6.2.1-.9.2 4.1.1-2.8.2 4.7.2-4.4.1-4.5.2-.8.1 6.7.2-3.9.2-.7.1 3.9.2-4.1.1 1.4.2.1.1 3.9.2-.5.2 1.9.1-6 .2 6.4.1-4.3.2-1.8.2 4.7.1-6.8.2 5.9.1-7.8.2.6.2 2.3.1-2.2.2 2.5.1-1.3.2-2.3.2.8.1-2.6.2 4.2.1-4.4.2 1.2.2 2.6.1-1.8.2.3.1.8.2.5.2-1.4.1-.8.2 3.1.1-.5.2 1.1.2 2.5.1-2.3.2-2.5.1 1.1.2 4.3.2-4.7.1.6.2 5.7.1-3.6.2 2.3.1 2.7.2-.2.2-7.4.1 4.7.2 1.9.1-5 .2.4.2 5.8.1-.4.2 2.4.1-8.9.2-.1.2 9 .1-2.9.2-6 .1 5.2.2-.3.2.1.1 1.2.2-1.1.1-1.9.2-1.8.2-1.8.1 7.5.2-5.3.1-1.8.2 3.5.2 0 .1-1 .2 2.6.1-2.8.2-2.3.2-2.7.1.3.2 3.8.1-2 .2-.8.1 7 .2-3.2.2 3 .1 1.5.2-7.2.1 8.7.2-3.6.2-2.1.1 1.5.2-2.5.1.8.2 2.3.2-3.9.1 2 .2-1.7.1 3.4.2-4.6.2 2.8.1-5.3.2 1.8.1-.8.2-1.5.2-.8.1-.3.2-2.5.1-.8.2-1.6.2-2.5.1-.8.2-1 .1.5.2-1 .2 1.8.1.2.2.7.1 1.5.2 1.3.2 1.7.1 1.2.2.6.1 3.9.2.2.1 3.5.2-3.9.2 6.3.1-1.1.2 1.1.1 2.8.2-7 .2 1.2.1 3.4.2-2.5.1-2.7.2 2.3.2 3.4.1-.3.2-6.4.1 2.5.2 4.8.2-2.1.1-.4.2 3.4.1-5.9.2-2.1.2 5.3.1.5.2-.6.1 4.1.2-2.4.2-5.8.1 5.5.2-5.6.1 4.5.2-.9.2-5.1.1 1.4.2 1.7.1-1.3.2-2.1.2 4.3.1 2.9.2-8.9.1 6.8.2-4.1.1-.9.2 4.9.2 1.2.1.5.2-.5.1-7.7.2-1 .2 7 .1.2.2-5.7.1 4.2.2.8.2-2.3.1-1.8.2 1.7.1-.4.2-2.5.2 2.6.1-.3.2 3.9.1-.5.2.2.2-3.7.1 2.7.2-4.4.1 6 .2 1.7.2-1.2.1.1.2-.9.1 2.4.2-2 .2-1.2.1 5.2.2-1.9.1 3.8.2-2.9.1-.6.2-4.6.2 1.2.1 3.8.2-2.9.1 3.5.2-3.2.2-3.4.1-.7.2 0 .1-.9.2 2.3.2-3.6.1 3.8.2-1.1.1 3.4.2.1.2-4.2.1-.7.2 1.5.1.3.2.8.2.9.1-1.2.2-3.5.1-.4.2-1.6.2-1.7.1-6.1.2-5.4.1-11.1.2-15.4.2-20.7.1-26.5.2-30.5.1-31.7.2-28.5.2-20.3.1-7.6.2 6.3.1 17.8.2 23.8.1 24.1.2 19.7.2 12.8.1 5.2.2-1.2.1-4.4.2-4 .2-.1.1 5.7.2 11.4.1 15 .2 16.3.2 15.7.1 13.4.2 10.9.1 8.5.2 5.6.2 1.7.1 1.6.2 5.6.1-2.6.2 3.9.2-4 .1 4.6.2-2.9.1-3 .2 6.6.2-6.5.1-.9.2 5.6.1-3.8.2-2.5.2-.4.1 3 .2-2.5.1 1.9.2 2.7.1 2.3.2-5.4.2 2.6.1 1.3.2 1.1.1-2.3.2 2.8.2-2.5.1 2.6.2-.8.1-1.3.2 3.4.2-4.8.1.4.2.9.1-3.5.2 4.4.2-4.6.1 7 .2-4 .1 4.2.2-5.4.2 4.1.1-1.1.2-.4.1 1.5.2-5 .2 3.3.1-3.8.2-1 .1.5.2-2.1.2-1.9.1.1.2-.2.1-3 .2.2.2-1 .1.8.2-.6.1-.4.2 2 .1-.4.2 1.9.2-.5.1 2.1.2 1.9.1.8.2 2.1.2 1.8.1 2 .2-.1.1-1.7.2 4.3.2-1.6.1 2.3.2.3.1 1.6.2-2.3.2-3.1.1 1.1.2 1.5.1-.8.2-3.8.2 5.1.1-2.5.2-.4.1-3.6.2 2.5.2-2.1.1.7.2.1.1 2.6.2-1.9.2 5 .1-1.2.2 2.1.1-3.4.2-1.7.2-.4.1-3.3.2 5.5.1-3.5.2-2.5.1 6.9.2-5.4.2-1.1.1 4.2.2-.2.1-.5.2-1.4.2-3.6.1 1.9.2 1.1.1-2.8.2-1.4.2.2.1-.5.2-1.6.1.8.2-.2.2-1 .1-1.3.2 1.3.1-1 .2.8.2 2.8.1 1.2.2.3.1-1.8.2 3.4.2-.1.1 2.9.2-3.1.1 4.4.2-5 .2 1.8.1 5.4.2-2.4.1-2 .2 4.4.1-2.8.2 2.6.2-1.3.1-2.8.2-.1.1 7.8.2-.4.2-3.7.1-2.1.2-1 .1 7.7.2-3.9.2-4.9.1 5.9.2 1.4.1-4 .2 6.6.2-8.4.1.9.2 5 .1-.9.2-.5.2 3.4.1 2.4.2-.5.1-1.4.2-4.3.2-.3.1-1.7.2 6.1.1-2.5.2-1.6.2-5.5.1 7 .2-7.2.1 3.2.2 3.9.2-5.5.1.9.2 4.7.1-6.2.2 1.5.1-.7.2.2.2 0 .1 5.1.2-2.1.1-7.6.2 5 .2-6 .1.3.2 4.5.1.2.2-4.4.2 2.1.1-.3.2 3.3.1-2.6.2-.1.2 4.2.1-1.3.2-5 .1 4.2.2-2.7.2.7.1 3.4.2 2.5.1-4.1.2 1.6.2-3.4.1 5.7.2-4.7.1 1.6.2-1.1.2 1.4.1-1.8.2.6.1-.7.2.4.1-.3.2-1.5.2.3.1-.1.2-2.5.1-2.3.2 2.1.2-1.7.1.5.2-.3.1-2.8.2.6.2.7.1-.9.2.8.1-.6.2 1.8.2-1.7.1.3.2 2.5.1 1.1.2-1.8.2 2.8.1 1.8.2.5.1-1.6.2.8.2 1.9.1.2.2-.7.1 2.4.2-1.7.2-.5.1 2.9.2 3.4.1-5.6.2.4.2 2.5.1 3.6.2-4 .1-2 .2 3.2.1-2.2.2-1.8.2 4.6.1-1.7.2 4.8.1-5.3.2-2.1.2 1.6.1 1.5.2-1.7.1 1.4.2 2.8.2.7.1-1.5.2-.8.1-3.3.2 5.5.2-3.8.1 5.1.2 2.5.1-.6.2-5.2.2 2.1.1.1.2 3.3.1-3.3.2-.7.2 2.2.1-.4.2 2.3.1.5.2-1.1.2.8.1-4.4.2-2 .1 2.5.2 1.3.2-1.7.1-1.4.2-3.9.1 5.5.2 2 .1-4.1.2 4.3.2-2.4.1-2.9.2 7.2.1-2.1.2 2.5.2-3.5.1 1.4.2-4.5.1 2.6.2-1.4.2 3 .1 2.5.2-3.7.1-5.4.2 2.9.2 2 .1 2.3.2-2.3.1-4 .2 3.7.2 2.3.1-3.7.2 2.8.1-3.2.2-4.8.2 8.6.1-9.2.2 2.2.1 3.6.2 1.6.2-5.7.1 6.5.2-1.4.1-5.7.2 3.7.1 4.7.2-4 .2 4.4.1-6.1.2 6.7.1-1.5.2-6.4.2.7.1 6.1.2.7.1-4.8.2-1.4.2 6.4.1-1.7.2.9.1-8.4.2 2.8.2-4.3.1 5.4.2-2.7.1-3.1.2.7.2 7.5.1-.1.2.9.1-.3.2-3.3.2 0 .1.8.2 1.7.1-5.5.2 2.4.2-.5.1 3.8.2-7.1.1 5.8.2-5.1.2 4.5.1-2.9.2 7.5.1-7.9.2 2 .1-.8.2.7.2 4.2.1-5.6.2 5.5.1-.7.2-4.3.2 8.9.1-4.2.2-3.9.1 4.8.2-1.5.2-2.7.1 6.3.2.7.1-2.2.2-2.8.2 3 .1-8.3.2 1.3.1 2.9.2-4.1.2 4.1.1-1.9.2 3 .1 1.5.2-8.7.2 6.5.1-6.3.2 4.5.1-1.6.2 1.1.2 2.4.1-6.9.2 5.7.1 2.1.2 0 .1-3.6.2 1.2.2-4.5.1.4.2 6.8.1-8.3.2 7.5.2-5.5.1 2 .2-2.5.1-1.2.2 5.6.2-2.1.1 1.2.2-2.1.1 0 .2-4 .2-.9.1.1.2 3.1.1-4.2.2-.1.2-.5.1-.6.2.3.1.2.2.2.2-2.7.1-.8.2 1.7.1-2.4.2 1 .2.1.1-1.3.2.1.1-.1.2-.1.2 2 .1 0 .2-.3.1-.1.2 1.3.1 1.6.2.5.2-.4.1 1 .2.2.1-.6.2 2.9.2 0 .1 2.3.2.2.1-1.9.2 2.8.2-.5.1 2.6.2-4.6.1.9.2 1.7.2-2.5.1 3.9.2-1.3.1 3.2.2.8.2-6 .1 8.2.2-1.6.1-.1.2-4.4.2.3.1 5.9.2-7.5.1.7.2 4.4.2-3.6.1 2.4.2-.2.1-1.7.2 3.3.2-6 .1 4.7.2-3.6.1 4.2.2-7.3.1.4.2.8.2-1.3.1.9.2.7.1 3.8.2-.6.2 1.1.1-2 .2-2.1.1-1.1.2 7.9.2-2.8.1-3.7.2 1 .1 2.5.2-1.1.2-4.1.1 2.2.2 2.3.1 2 .2-6 .2.3.1 1.7.2-1.2.1 5.3.2-2.4.2-2.9.1 2.9.2.6.1-2.1.2 3.4.2 1.9.1-5 .2.9.1-1.2.2 1.6.1 4.3.2-.5.2 1.5.1-5.2.2-2.9.1.3.2 2.9.2-4 .1 5.2.2-3.8.1 1.5.2-.5.2-.3.1 4.2.2-7 .1 7.4.2-6.8.2.3.1.5.2 5.2.1.6.2-6.4.2 2.8.1.2.2-2.7.1 3.3.2-1.7.2-1.3.1-.1.2 1.6.1-3.2.2 2.9.2-.9.1-1.7.2-2.6.1 1.3.2-1.9.2-1.6.1-.2.2-.5.1-1.3.2 1.3.1-1.6.2.6.2-1.3.1.2.2.4.1.3.2.1.2-.2.1 2.3.2-.3.1.7.2.5.2.6.1 2.3.2.8.1.1.2-2.3.2 2.1.1 2.1.2 0 .1 2.1.2-2.5.2 4.2.1-3.1.2 1.6.1-1.1.2 4 .2-4.2.1 5.4.2-.6.1-4 .2 5 .2-5.8.1 3.2.2 3.5.1-4.9.2 3.2.1-1 .2-4.5.2 3.8.1 5.1.2-8.8.1.8.2-1.8.2 4.3.1-2.8.2-2.5.1.1.2-.5.2 5.4.1-5.2.2 7.8.1-4.1.2-1.6.2 5.9.1-.8.2-3.7.1 2.6.2.7.2 3.2.1.5.2-1.9.1-5.1.2 4.3.2-4.6.1 3.5.2 3.2.1.7.2-4.4.2-.8.1 4 .2 1.5.1-1.1.2-1.7.2-3.4.1-.8.2 3.7.1-1.2.2-6.3.1 4.6.2 4.4.2-6.4.1 6.6.2-1.1.1-2 .2-3.2.2 3.8.1 5 .2-8.4.1 3.9.2.4.2 4.7.1-7 .2 2 .1 6.2.2-1.5.2-4.7.1 4.5.2 1.2.1.3.2-.1.2-4.2.1-4.2.2 3.8.1-3.6.2 3.4.2-4.8.1 5.5.2-6.6.1 1.5.2 4.9.2-7.6.1.6.2 1.1.1-.4.2 4.3.2-7 .1 3.3.2 3.8.1-.1.2 1.3.1-8.1.2 9 .2-5.4.1 4.6.2.8.1-5.2.2.7.2-.4.1 5 .2-4.5.1 1.7.2-2.1.2 2.8.1-.2.2.2.1-1.6.2-1.3.2-1.7.1 1.6.2-.5.1.2.2-5.2.2.2.1 5.2.2-.2.1-4.9.2 4.7.2 1 .1-.5.2-2.9.1-2.8.2 2.8.2-2.1.1.7.2-2.5.1-2.1.2-1.3.1-1.3.2 1.1.2-1.1.1-2.7.2.4.1-1.3.2.7.2-.1.1-.6.2.4.1 1.6.2-.2.2 2.4.1 1.4.2-.5.1 1.7.2 2.4.2-.5.1 2.7.2-.2.1 3.4.2.2.2 1.2.1-1.7.2 1.4.1-3.1.2 3.4.2-4.1.1 1.4.2 3.1.1 1.8.2-5.3.2.8.1-1.2.2-.5.1 1.8.2 1 .2-2.9.1.2.2 2.6.1.2.2-5 .1 2.7.2-2.8.2-.4.1 1.3.2-2.9.1-1.1.2 1.4.2-2.2.1.9.2.4.1-1.7.2 2.1.2.1.1-1.2.2 2.8.1-.4.2.7.2 2.6.1-2.2.2 4.4.1-.1.2 1.6.2 1.1.1 1.3.2.5.1-3.7.2 2.3.2 0 .1 1.7.2.9.1-3.7.2 1.7.2.5.1-3.9.2 6.7.1-2.7.2-3.7.1 1.1.2-1.8.2 2.3.1-1.5.2 5.5.1-1 .2-4.9.2 1.7.1-3.3.2-2.9.1 2.2.2 1.5.2-1.4.1-.7.2-1.4.1 2 .2.7.2-5.3.1.1.2 2.8.1-.1.2-1.6.2-1.7.1.4.2.2.1.2.2-1.1.2.3.1.7.2-.7.1-.2.2.2.2 1.6.1 1.6.2 1.1.1-2.3.2 3.1.2-1.3.1.7.2 2 .1 3 .2-3 .1-.5.2 1.9.2.4.1 4.8.2-1.3.1.8.2-2.2.2 1.2.1 1.7.2-6.2.1 7.1.2-1.2.2-6.2.1 5.8.2-3.2.1-2.8.2 5.7.2-.2.1-.8.2-2.9.1-1.8.2.7.2 1.9.1-1 .2 1 .1-.5.2 5.9.2-3.9.1 3.6.2-7.2.1 6.4.2-.3.2-1.5.1-2.2.2 4.1.1-2.1.2-2.5.2 4 .1.8.2-3.1.1-3.1.2-1.9.1 1.8.2 5.9.2-3.6.1-2.3.2 4.7.1-4.1.2 2.5.2 2.6.1-3.4.2.3.1-4.5.2 5 .2-4.9.1 3 .2-6.3.1 3.5.2 3 .2-4.4.1 3.5.2.9.1 1.6.2-.5.2-.5.1-.8.2 2.3.1-4 .2 1.4.2 5.6.1-7.7.2 3 .1 3.3.2-1.3.2-5.7.1 1.2.2-1.5.1-.9.2.6.1 5.4.2-.5.2-2.6.1.3.2-.6.1 2.7.2 1.5.2-2.7.1 3.8.2 2.4.1-2.1.2 1.4.2-6 .1 1.8.2.7.1.3.2 3.3.2-5.9.1.2.2 1.7.1 2.9.2-4 .2 2.8.1-4.4.2.6.1.7.2-2.9.2 1.7.1.1.2 2.4.1-4.1.2 6 .2 0 .1-.6.2-3.5.1 5.3.2-4.8.2.1.1-1.4.2-1.1.1 5.8.2-1.6.1-2.3.2 1.4.2.6.1-1.9.2-.1.1-1.7.2 1.1.2-1.7.1 3.5.2-1.7.1 3.4.2 4.5.2-4.1.1-.4.2 5 .1-3.2.2-.1.2-3 .1 5.5.2.9.1-8.9.2 2.1.2 4.7.1-6.4.2 5.3.1.1.2-.6.2-2.6.1 3.2.2-.2.1 1 .2-3.1.2 2 .1-5.9.2.3.1 1.1.2-1.2.1 3.7.2 2.1.2-6.1.1 5.1.2 2.2.1-2.6.2 2 .2 1.2.1-3.7.2-2.8.1 1.1.2-1.5.2 1.6.1 3.8.2-1.9.1.5.2-.4.2-1.3.1-2.7.2.2.1-1 .2-1.1.2 2.2.1-3.3.2 2.6.1-.8.2.8.2-2.6.1 1.9.2-.9.1-1 .2.8.2-1.4.1-1.5.2 2.7.1-1.2.2 2.6.2-3.7.1.8.2 1.1.1 1.1.2 2.2.1 1.4.2-2.7.2 2.8.1-.9.2-3.7.1.2.2 1.2.2 5 .1-7 .2.1.1 7.4.2-.7.2.9.1-1.1.2.9.1-6.3.2 4.3.2-2 .1 1.8.2-1.9.1-.7.2-.1.2-.4.1 2.8.2 4.4.1-2.3.2-2.7.2 5.5.1-5.4.2.2.1 2.6.2-4 .2-2 .1.9.2 1 .1 3.2.2-1.6.2 1.2.1-3.5.2-.3.1-.5.2-2.2.1 6.3.2-6.7.2 1.9.1-.5.2 3.5.1.6.2-2.7.2-.4.1 1.1.2 1.5.1 1.3.2 4.5.2 1.8.1-1.6.2-4.9.1 4.5.2.6.2 4.4.1-5 .2 4 .1.8.2-2.6.2-.3.1-3.7.2-.8.1 8.3.2-4.2.2-3.2.1 4.6.2-7.5.1 8 .2-7.8.2 7.3.1-7 .2 5.3.1-8.6.2.5.1-1.4.2 2.1.2 4.1.1-5.9.2-.3.1 5.4.2-1.4.2-4.7.1 2.3.2 4.6.1-1.8.2 4.1.2-1.3.1 0 .2 1 .1-6.5.2 2.9.2 4.6.1-4.6.2 1.6.1 1.8.2-4.8.2 5.6.1-2.9.2 4.6.1-3.6.2-4.2.2 6.9.1-.5.2 2.4.1-1.3.2-2.4.2 1.8.1-5.8.2 6.3.1-1.8.2-3.1.2-4.9.1 2.9.2-1.1.1 2.4.2 2.7.1-6.7.2 5.7.2-2.5.1-5.1.2 4.8.1-1.2.2-2.6.2-1.4.1.3.2 6.6.1-3.8.2.8.2 1.6.1-4.9.2.4.1 5 .2-4.3.2-1.3.1 6.4.2-4.5.1-1.4.2 5.1.2-3.2.1-.7.2 1.3.1 3.8.2-3 .2-1.8.1 3.9.2-2 .1-1.3.2 3.1.2-1.7.1 2 .2 1.4.1-2.7.2 3.7.1-7.7.2 6.6.2-5.9.1.4.2 5.2.1 2.1.2-5.4.2 2.4.1 2.6.2-5.5.1 2.2.2 1.8.2 1.9.1-1.8.2-3.9.1 6.7.2.1.2-.4.1.4.2-2.2.1 2.2.2 3.7.2.1.1-7.2.2 4.4.1 2.4.2-7.6.2 4.9.1-4.4.2.6.1 1.6.2 1.8.2-.1.1-.4.2 4.2.1-4.3.2 1.9.2-3.9.1 3.5.2-.3.1-1.3.2.3.1-2.4.2 2 .2-.9.1-7.5.2 2.7.1-3.5.2 7.5.2-5 .1-2.1.2 6 .1-6.8.2 1.1.2 5.4.1-1 .2-1.5.1 3.6.2-2.8.2 1.5.1 3.4.2 2.9.1-1.4.2-.4.2 1 .1-3.6.2 5.5.1-3.7.2-3.5.2-2.3.1.6.2.8.1 5.1.2.9.2 1.3.1-2.3.2-2.8.1 5.5.2 1.4.2-2 .1-5.7.2 3.3.1-1.6.2 6.2.1-1.5.2-7.5.2 4.6.1 2.9.2-4.9.1 2.9.2-1.3.2-3.6.1-.6.2-2.9.1 1.6.2-1.8.2 6 .1-2.5.2 2.9.1-5.1.2 2.6.2 1.2.1-7.7.2 3 .1 1.1.2 4.8.2-.4.1-7.2.2 8.4.1-2.9.2-4.9.2 6 .1 1.8.2-5.5.1.8.2-.4.2 3.9.1.1.2.5.1 1.3.2-7 .1 5 .2-.5.2-3.5.1 6.8.2-4.6.1 4.4.2.2.2-.8.1-4.2.2-1.9.1 2.8.2-1.3.2.3.1-1.8.2 5.9.1-.7.2 1.7.2-2.8.1-3.8.2 7.3.1-7.5.2.6.2 7 .1-4 .2.6.1.9.2-1.8.2-2.4.1.8.2-1.3.1 1.8.2-5 .2 5.1.1-4 .2 1.3.1 7.3.2-1.3.2-4.2.1 5.5.2-2.5.1-3.3.2 7.3.1-7.8.2-1.1.2 1.9.1-1.8.2-.8.1 5.7.2-5 .2 3.9.1-3.1.2 6.4.1-6.8.2 2.8.2 2 .1-3.9.2 5 .1-4.6.2 1 .2.6.1.2.2 1.9.1-3.5.2.9.2-1 .1.2.2 4.2.1-1.5.2 2.7.2-.4.1-7.1.2-.1.1 6.3.2-7.1.2 5.7.1-5.2.2-.5.1 2.7.2 2.1.1 1.4.2-5.9.2-1 .1 6.3.2-3.1.1 1.5.2-.1.2 1.7.1 2.1.2-3 .1-2.6.2-1.7.2-.7.1 5.2.2-4.1.1.1.2 1.3.2.6.1-1.1.2 4.7.1-6 .2 2.6.2-5.2.1.4.2 1.2.1.8.2 1.5.2.9.1-3.5.2 3.3.1-4.2.2 2.6.2 3.2.1-2.5.2 1.6.1-3.1.2 3.9.2 2.2.1-2.2.2 2.4.1-1 .2-.5.1-2 .2.3.2-2.2.1 2.9.2-5 .1 3.3.2-.1.2-3.4.1 1.4.2-2.1.1 1.2.2-1.3.2-2.5.1.8.2-1.4.1 2.2.2.3.2.4.1-1.5.2-.3.1.2.2.4.2-.2.1 2.4.2-1.3.1 2.1.2-.7.2 1.5.1-.2.2-.3.1 1.4.2.5.2 1.1.1-1.3.2.7.1 1.6.2-.8.2.9.1-1.8.2 4.6.1-1.8.2.3.1.8.2.3.2-4.8.1 1.8.2 1.5.1 2.8.2-3.9.2-4.3.1 7.5.2-3.5.1-4.1.2 2.2.2 5.2.1-5.2.2 2 .1-1.9.2 2.5.2-1 .1-1.5.2-2.2.1 1.5.2 2.8.2-1.2.1-.9.2.9.1-1.9.2 1.2.2.6.1 1.4.2 2.5.1-6.4.2 7.1.2.4.1-1.4.2-.6.1-5.7.2 6.6.1-1.5.2-3.3.2-.1.1.7.2-.2.1.5.2 1.1.2 2.2.1-3.6.2-3.4.1 6 .2-6.2.2 4.4.1 1.8.2-.2.1 2.1.2 1.4.2-5.4.1 3.8.2 1.6.1 0 .2-.3.2-2.3.1 2.5.2-5 .1 2.6.2.2.2-3.7.1 6.6.2-3.9.1-.5.2 1.7.2 0 .1-2.3.2 3.1.1-3.8.2 2 .2-5.1.1.1.2-.2.1 4.6.2-1.2.1-1.6.2 0 .2 4.8.1-1.4.2-4 .1 1 .2 5.8.2-4.9.1 1.5.2 2.4.1-4.4.2 4.1.2-3.5.1 5.9.2-3.8.1 5.4.2-8.2.2 4.6.1-.5.2-1.2.1-1.3.2-.2.2 6.9.1-5.8.2-1.3.1 4.8.2-3.2.2 1.2.1 3.9.2-2.1.1-4.3.2-.4.2 4.2.1 2.1.2-3.6.1 1.6.2.8.1-6.2.2 4 .2 2.4.1-3.3.2-.4.1-6 .2 3.8.2-4.2.1 4.9.2-2.2.1-3.8.2 1.7.2 1.8.1-1.9.2 2 .1 6.4.2-6.9.2 3.5.1-5.1.2 8.7.1-.9.2-7.1.2.6.1 3.6.2-4.2.1 1.1.2 3.9.2-1.2.1-.8.2-5.7.1 1.3.2-.9.2 3.9.1 1.7.2-2.4.1 3.1.2-6.5.2.9.1-.4.2 3.4.1-1.4.2 7 .1-6.5.2 6.4.2-6.2.1 2 .2 1.3.1 5.4.2.6.2-2.8.1-2.6.2 4.1.1-3.2.2-4.5.2 2.1.1-2.3.2 5.7.1-5.4.2 1 .2 2.6.1-.7.2 2 .1-.1.2 1.7.2-3.4.1-1.2.2-2.7.1.8.2.8.2-.7.1-.6.2 4 .1-2.5.2 2 .2.1.1 1 .2 1.1.1-1.9.2-.9.2 3.5.1-4.9.2 1.8.1-1.8.2-1.3.1 6.4.2-.8.2.7.1-2 .2 1.2.1-3.3.2.1.2-.4.1-3.2.2 4.2.1-1.1.2-.9.2-2.5.1-2 .2-2.7.1-4.4.2-4 .2-3.1.1-3.8.2-3.6.1-3.7.2-2.2.2-.7.1 0 .2 1.1.1 2.9.2 2.4.2 3.3.1 3.2.2 2.7.1 2.2.2 1.8.2 1 .1-.9.2-1 .1-.8.2-1.7.1-.3.2-1.5.2-.2.1.5.2.2.1 1 .2 1.4.2 1.7.1.1.2 2.1.1.4.2.4.2 2.2.1 2.7.2-3.1.1 1.4.2 1.9.2-.1.1-.2.2-.1.1 3.2.2-.7.2-.3.1-.3.2 3.6.1-1 .2-3.2.2 3.9.1 1.2.2-1.4.1-2.3.2 2 .2 1.1.1.6.2-3.3.1 1.9.2 1.2.2-2.1.1-1.5.2.2.1 3.7.2-4.1.1 1.2.2 1.7.2 1.1.1.8.2.2.1-2.5.2 7.8.2.1.1-3.5.2 4.8.1.2.2.3.2-5.4.1 2.3.2 4 .1-4.2.2 2.4.2-3 .1 2.7.2-3.8.1 1.9.2-6.3.2 4 .1-5.3.2 5.1.1.1.2 2.6.2-6.9.1 6.8.2-.5.1-3.1.2-4.6.2 7.4.1-3.6.2-2.9.1 2.5.2-.9.1-3.3.2 3.6.2-3.9.1.6.2 6.5.1-2.7.2 5.2.2-1.4.1-4.8.2 4.1.1 2.7.2-4.9.2 2.5.1 4.6.2-4.9.1.1.2-.7.2 4.3.1-2.4.2-1.5.1 4.9.2-.1.2-2.4.1-5 .2 3.5.1-3.5.2 4.1.2-1.4.1 1.2.2-1.6.1 1.1.2 2.5.2-4.1.1 4.3.2-4.8.1-1.1.2 7.6.2-2.6.1-5.1.2 7.7.1-1.2.2-6.1.1 4.8.2 4.9.2-5.1.1 5.3.2-4.2.1 3.6.2.9.2-2.2.1-.5.2 2.6.1-3.9.2 1.4.2-.1.1 3.7.2.7.1-6.6.2 6.3.2-4.5.1.9.2-3.4.1 6.2.2-1.5.2-2 .1.6.2 4.2.1-6.7.2 2 .2.4.1 2.7.2.4.1-6.5.2-1.9.2.5.1-1.5.2 2.5.1-1.6.2-2.6.2 7.5.1-.2.2-6.9.1.8.2 6.4.1-1.9.2-2.4.2-1.8.1 1.9.2 1.8.1-5.9.2 0 .2-.5.1 1.7.2 5.9.1-7.8.2 4.6.2 1.8.1-3.8.2 4.9.1-4.9.2 3.6.2-6.5.1 5.1.2-4.4.1 1.8.2 1.4.2-.2.1 4.3.2-1.2.1-6 .2 6 .2-4.6.1 1.9.2-3 .1.9.2 5.4.2-3.5.1 5.4.2-4.2.1 2.3.2 1.2.1-.4.2-4.7.2.7.1-4.1.2 4.6.1-2.6.2 3.9.2-1.9.1-.2.2 2.1.1.4.2-1.9.2-5 .1 3.4.2 3.4.1-1.5.2-1.5.2-5 .1 8.1.2-8.8.1.8.2-.8.2 4.8.1-1.4.2 4 .1-2.9.2-.6.2-4.8.1 8.7.2-4.2.1-1.3.2 2.6.2 4.6.1-1.3.2-5.7.1 4.4.2-1 .2-2.4.1 4.6.2-4.7.1 4.9.2-.9.1-3.4.2-1.5.2 5.2.1.1.2-2.4.1-.4.2 4.6.2-1.6.1-.9.2 0 .1 4.3.2-8.4.2 7.8.1-4.3.2-3.8.1 5.9.2-5.1.2 2.8.1-.5.2 4.6.1-2.2.2 2 .2 0 .1-1.7.2 2.1.1-6.3.2 5.3.2-1.2.1 2.6.2-2.7.1.2.2-1.6.2 1.2.1-.8.2-3.5.1-.2.2 4 .1.5.2 2.7.2.1.1.3.2-.8.1-2.3.2-2.8.2 8.5.1-1.3.2 2.2.1-1.9.2-6.3.2.9.1.5.2 1.3.1 1.2.2-2.7.2 6.8.1-9 .2 3.7.1-.3.2 3.4.2-2.7.1-3.2.2 2.3.1 3 .2 1.5.2.1.1-6.1.2 5.4.1 0 .2-4.6.2-.5.1-.7.2 2.5.1 2.8.2-2.4.2-1.8.1-1.8.2 6 .1-2.9.2 2.3.1-2.7.2-2.4.2 5 .1 1.7.2-5.4.1 4.1.2-3.4.2 4.1.1-5.3.2 5 .1 1.9.2-5.5.2-2.7.1 8.2.2-3.7.1-3.1.2-2.1.2 2.6.1 1.9.2-.6.1-2.1.2 2.6.2 1.1.1-3.8.2 2.5.1 1.4.2-8.2.2.4.1 3.4.2.3.1.9.2-5.4.2 4.3.1 1.3.2-7.9.1 7.3.2-.7.2-5.3.1 2.7.2 0 .1-4.5.2 2.3.1-.2.2 4.1.2 1.9.1-8.2.2 7.3.1-1.9.2 1.5.2 0 .1.8.2-.2.1-2.9.2 4.9.2-5.8.1 5.3.2-2.2.1-5.1.2 4.2.2-4 .1 5.8.2-1.9.1 0 .2 1.6.2 0 .1-1.8.2 1.5.1.5.2-1 .2-6.6.1 1.8.2 5.6.1-4.2.2 4.2.2-2.7.1 2.7.2 3.8.1-1.6.2-3.6.1-2.7.2 6.1.2-1.8.1 4.3.2-1.3.1-1.7.2-.3.2.8.1-.6.2-3.9.1 5.5.2-5 .2-1.3.1 1.5.2 1.8.1-1.5.2-2.9.2 4.6.1 1.5.2 1.5.1-8.2.2 2.3.2-.9.1 2 .2-3.2.1 2.6.2 1.8.2-4.4.1 5.2.2-6.4.1 3.7.2 1.6.2 2.9.1-4.8.2-2.3.1 7.4.2 1.1.2-3.6.1 3.9.2 1.4.1-6.7.2 7.3.1-7.6.2 3.9.2.5.1 3.5.2 1.4.1.5.2-2.5.2 2.4.1-1 .2-6.6.1 7.1.2-5.1.2 1.7.1-3.9.2 5.9.1-1.1.2.3.2 1.2.1-1.6.2-2.2.1 1.6.2-.7.2-.6.1-.9.2.9.1-.1.2 2.9.2 1.2.1-6.8.2 2.2.1.8.2-4.9.2 1.7.1 3.4.2-1.7.1-3.6.2.6.1-.6.2.7.2 3.5.1-5.3.2 3.7.1-1.6.2 3 .2-.8.1-5.1.2 7 .1-2.2.2-1.7.2-3.7.1-.3.2 7.1.1-2.7.2-1.5.2 4 .1-3.8.2-3.7.1 6.2.2-1 .2 1.3.1-.8.2-2.7.1 2 .2 3.3.2-2 .1 1 .2 1.1.1-.4.2-4.6.2.1.1-.2.2.5.1 3 .2 1.1.2-7 .1 1.5.2 3.3.1-1.2.2 2.3.1-1.7.2 2.9.2-1 .1-2.6.2.3.1-1.9.2 5.9.2 1.7.1-.1.2-2.6.1 3.1.2-7.2.2 2.8.1-2.1.2 4.3.1-3.9.2 4.1.2-3.8.1 6.6.2-.8.1-4.4.2 2.1.2-.4.1-1 .2 2.4.1-2.2.2-2.1.2-.6.1-1.4.2-1.3.1 2.3.2 3.3.2 1.6.1-6.1.2 8.6.1-.2.2-2.3.2 2.7.1-7.8.2.9.1-2 .2 1.8.1-2.4.2-3.8.2-5.2.1-4.7.2-4 .1-1.3.2 0 .2 2.4.1 4.9.2 2.7.1 2.9.2 2.7.2.7.1.4.2.8.1 5.1.2-.7.2-5.3.1 3.6.2.3.1 2.5.2-2.2.2 3.9.1.2.2-2.1.1 1 .2.7.2 2.3.1-3.2.2-3.3.1 2.6.2 1.9.2-2.1.1-.3.2 4.9.1 2.2.2-2.5.1-2 .2 5.3.2-2.5.1 2.1.2-.7.1-4.8.2.6.2-2.3.1.5.2.5.1-3.2.2.9.2 3.4.1-.9.2-4.8.1-.2.2 5.5.2-3.9.1 3.3.2-4.6.1-1.9.2 2.4.2-3.3.1-.4.2-1.6.1.2.2 1.3.2 1.9.1-2.1.2 5.2.1-.4.2-1.1.2 6.3.1-.3.2-3.8.1 4.4.2 1.7.2-4 .1-3.1.2-.4.1-.4.2 7.6.1-4.3.2-4.6.2-.3.1 4.6.2.9.1.7.2-6.4.2 3 .1-1.8.2 5.3.1 0 .2-5.7.2 6.6.1-3.6.2 2.7.1-5.7.2.8.2-1.3.1 1.5.2 1 .1-2.3.2-.9.2 2.8.1-.5.2-.8.1-.4.2 1.6.2-.2.1-1.7.2-1.7.1.4.2.8.2.4.1-2.2.2 1.1.1-.2.2-1 .1 0 .2 1.1.2-2.8.1 2.2.2-.4.1-2.3.2.5.2 0 .1 1.6.2-1 .1.9.2.1.2 1.7.1-1.5.2 1.6.1.3.2-.1.2.1.1.1.2-1.2.1 1.8.2.7.2-1.2.1 1.5.2-1.7.1-.1.2 4.4.2-1.7.1 1.8.2 1 .1-1.2.2.6.2-2.9.1 3 .2 1.2.1-4.1.2-.6.2 4.7.1-5.1.2 1 .1 1.8.2-.9.1 5.8.2-3 .2-1.9.1-2 .2 4.1.1-.2.2-1.6.2 1.2.1-.2.2-2.6.1 5.3.2-3.6.2-.6.1-1.7.2.5.1 2.9.2-2.8.2-.9.1 2 .2 1.4.1-3.6.2.4.2-2.3.1 2.9.2 2.2.1 0 .2-.9.2-3.4.1.5.2-1.4.1 2 .2.2.2-2.3.1 2.6.2-1.8.1-1.6.2.1.2 1.2.1-1.3.2-.8.1 1.1.2-.9.1 1 .2.1.2-.4.1-.3.2.1.1.3.2 1.2.2.2.1 1.8.2-1.8.1-1.3.2 1.1.2-1.1.1 1.3.2.8.1-1.2.2-.9.2 2.9.1 1.6.2.4.1-2.2.2.9.2 2.9.1-1.2.2-1.4.1 4.1.2 1.1.2-.8.1-1.1.2 1.8.1-.2.2-3.5.2 3.1.1-1.6.2-2.8.1 2.8.2-3.5.1-1.5.2.4.2-.8.1 0 .2.5.1-.6.2 1.6.2-1.9.1 2.8.2-1 .1-2.2.2 2.7.2-4.1.1.3.2.1.1 1.8.2-1.7.2.2.1-.3.2.6.1-2.3.2 1.6.2-2.6.1.5.2.6.1 1.1.2-2.4.2 2.9.1-.7.2-1 .1-.4.2-.6.2 2.9.1-1.9.2 2.9.1-2.1.2 3.2.2-.1.1 0 .2 1.7.1-1.7.2-.2.1-.8.2 4.2.2-3.4.1 0 .2 3 .1-2.6.2.7.2 1.1.1.1.2-.8.1 2.9.2-.6.2.7.1 1.9.2-2.8.1 4.6.2-5.8.2 2.1.1 2.2.2-.7.1.6.2 1.8.2-4.5.1.3.2 4.4.1-6.1.2-1.1.2 5.2.1 1.1.2-5.3.1-2 .2 5.1.2 1.4.1-.5.2-7 .1 1.9.2 1.3.1-4 .2 2.2.2.8.1-.6.2 2.6.1 1.1.2 1.3.2 2.3.1-4.2.2 2.5.1-3.4.2 4.1.2-4.1.1 5.2.2-4.4.1 2.2.2 4.3.2-6.3.1-.5.2 5.7.1-1.1.2 2.8.2-6.5.1 7.5.2-3 .1 2.8.2-7 .2 5.9.1-2.3.2-.9.1 2.7.2-.5.2.1.1-.4.2-4.7.1 1.3.2 2.9.2-6.7.1-1.1.2 1.2.1 2.7.2-2.3.1 2.7.2-2.5.2-.5.1 0 .2-.4.1 7.3.2-5.6.2-.3.1-2.2.2 3.7.1 3 .2-4.9.2 6.9.1-2 .2.7.1-2 .2 2.4.2-5.8.1 3 .2-4 .1 5 .2-1.7.2 2.3.1 3.1.2-4.2.1 1.4.2 3.7.2-3.6.1 1.8.2-1.7.1-4.9.2 6 .2-5.5.1 4.2.2-4.1.1-2.2.2 3.7.2-3.9.1 4.7.2-6.1.1 5.6.2 1.2.1-4.3.2-1.1.2 5.5.1 3.1.2.4.1-6.3.2 7.1.2-7.1.1 3 .2-3.3.1 5.6.2.9.2-6 .1 5.2.2-3.3.1.1.2-.3.2 1.1.1-3 .2-.2.1-3.9.2 6.1.2-1.2.1 1.8.2-2.5.1-3.4.2 4.2.2-.4.1-3.1.2 1.5.1 6.4.2.3.2-4 .1-1.4.2 3.1.1-6.3.2 8.1.1-4.6.2-3.5.2 2.8.1 3.1.2-7 .1 7.8.2-5 .2.8.1-1.7.2 2.2.1-2.6.2-.5.2 1.6.1-1.4.2 4.2.1-5 .2-2.1.2 5.3.1.8.2 1.8.1-5 .2.9.2 2.9.1-2.6.2 5.4.1-4.6.2-2.6.2 5.8.1-6.1.2 2.4.1-1.5.2 5.8.2.6.1-.5.2-3.1.1 3.1.2 1.1.2-5.5.1-.1.2 4.4.1-.2.2-5 .1 2.5.2.2.2-5.2.1 5.7.2 3.2.1-.2.2.6.2 1.4.1-2.1.2 2.1.1 1.9.2-.9.2-2 .1-1.5.2 1.9.1 2.6.2 1.4.2-7.6.1 5.1.2-1.3.1-2.3.2-.7.2 5.4.1-6.1.2 6.2.1-2.7.2-5.2.2 5.2.1-2.9.2-.3.1 2 .2.6.2-6.3.1 2.4.2-6.2.1 3.4.2-.3.1-4.6.2 3.3.2 2.9.1-6.4.2 2.7.1 3.6.2-4.8.2 6.6.1-2.1.2 5 .1-2 .2-.6.2 4 .1-2.6.2-1.9.1 3.1.2-3.4.2 1.9.1-.6.2 4.9.1-4.8.2-3 .2-1.2.1 4.6.2-2.1.1-6.1.2 3.7.2-3.3.1 6.5.2 2 .1-.6.2-5 .2.1.1 6.2.2 1.9.1-8.2.2.1.2 7.1.1-1.3.2 3.3.1-3.6.2-.7.1.8.2 1.8.2 1.1.1.1.2-2.1.1-3.2.2-1.3.2 4.6.1-.2.2-4.2.1 2.3.2 1.4.2-1.7.1.8.2-1.2.1-4.9.2 4.8.2-3.6.1 1.1.2-.1.1-3.9.2 3.9.2-1.8.1-2.4.2-.1.1 2 .2 1 .2-.1.1-2.1.2-1 .1.6.2.7.2.9.1-3.1.2 2.2.1.6.2-2.3.2 1.4.1 2.6.2-.1.1.5.2-3 .1 3.6.2-2.2.2.6.1-1.1.2 4.7.1-.8.2 1.9.2.9.1-1.2.2-.3.1.2.2-2.6.2 2.3.1 1.2.2-.8.1 3.7.2-2.9.2-3.1.1 1.6.2 3 .1 1.7.2 1.6.2-4.1.1 2.4.2-5 .1 2.7.2-.7.2 5.8.1-7.7.2 4 .1.7.2-6.8.2 4.2.1 2.9.2-5.3.1 3 .2-.4.1 3.3.2-.5.2-5.4.1.7.2 4.4.1 2.9.2-6.7.2 7.6.1-.8.2-4.5.1 2.8.2-1.6.2-1.2.1 2.2.2-2.5.1-.2.2 3 .2 1 .1-5.6.2 4.4.1 2.5.2-1.5.2-.6.1-5.6.2-1.6.1 2.3.2.5.2-2.4.1-.6.2-.1.1-.7.2-1.6.2-.1.1.2.2 4.8.1-5.2.2.2.2 2.2.1 1.9.2 1.7.1-.8.2-2.4.1-3.3.2 0 .2 7.6.1-6.2.2 1 .1 4 .2-5.5.2-1 .1 5.9.2 3.2.1.4.2-2.2.2-3.1.1-.7.2 5.7.1-3 .2 1.4.2 3.9.1-6.4.2 4.5.1-4.4.2-.1.2 4 .1-6.9.2 6.2.1-5.1.2 3.4.2-1.5.1.6.2-4.6.1.5.2 4.2.2-4.8.1 4.8.2 1.6.1-1.4.2 1.1.1-3.6.2 3.4.2-5.7.1 4.8.2 2.9.1-2 .2-2.9.2 3.3.1-4.7.2-.5.1 3.1.2-2.8.2 5.8.1.4.2-1.6.1-1.9.2-1.1.2 3.8.1 3.7.2-1.6.1-5 .2-.3.2 3.1.1 1.3.2-5.7.1 5.6.2.1.2-1.5.1-6.5.2 8 .1-8.3.2 6.5.2-6.8.1 6.1.2-5.2.1 7.7.2-7.7.2 4.5.1 1.8.2 2.3.1-3.6.2-4.2.1 2.3.2 4.9.2-6.2.1.6.2 2.2.1-1 .2 4 .2 1.2.1-3.3.2 0 .1-1.1.2-3.2.2 5.5.1-5.7.2 2 .1-.7.2 3.7.2 3.5.1-2.1.2 2.1.1-6.6.2 5.6.2-3.1.1.3.2-3.5.1 7 .2-7.6.2-.2.1 1.6.2 3.3.1.3.2 2.5.2-7.9.1 2 .2.3.1-.1.2 2.1.2 4.2.1-.7.2-1 .1-1.5.2 3.1.1-2.6.2-4.2.2-.2.1 5.8.2-2.4.1-4.6.2 4.9.2-3.5.1-4.1.2 4.3.1-2.8.2 4.5.2-3.3.1-1.5.2-.7.1 6.9.2-3.7.2.2.1 2.7.2-2.8.1-3 .2 3.2.2-3.7.1 3.8.2-5.2.1 8.8.2-7.9.2 4.8.1-1.3.2 2.9.1-.4.2 5.3.2.4.1-2.1.2-6 .1 3.4.2 5.5.1-.2.2-4.5.2 4.7.1-2 .2-2.8.1.6.2 2.4.2-4.5.1 2.5.2 2.3.1-6.8.2 6.2.2-3.1.1-1.3.2 5.4.1-3.8.2-3.8.2 9 .1-1.3.2-3.4.1.6.2 3.2.2.1.1-7.7.2 7.8.1-4.6.2 2.8.2-2.2.1 2.4.2-2.4.1 2.4.2.2.2-.1.1-1.6.2-3.3.1-.4.2.1.2 2.7.1-1.2.2-4 .1 7.1.2-4.1.1-.9.2-4.3.2 8.1.1-7.8.2.2.1 5.1.2-3.5.2 2.8.1.7.2-3.1.1 0 .2 4.8.2-4.8.1 6.7.2-2.2.1-.5.2 2.2.2-.5.1-5.9.2 4.5.1-1.4.2 1.6.2.3.1-1.2.2-3.9.1 5.1.2-.7.2-3.3.1-1.9.2 7.8.1-2.1.2-1.4.2.1.1-3 .2.6.1 6 .2-6.7.1 3.4.2 5.7.2-6.9.1-.4.2.5.1-.3.2 3.8.2-4.1.1 1.8.2 3.5.1-7.4.2.5.2 0 .1 3.4.2-.5.1-2.3.2 3.9.2 0 .1-4 .2 3 .1.9.2.1.2-3.1.1.3.2-1.7.1 1.7.2-2.5.2 2.1.1-1.2.2 5.4.1-4.5.2-1 .2 3.2.1-.8.2-2 .1 6.2.2 2.2.2-5.2.1-2.6.2.9.1 5 .2-.5.1-1.4.2-5.5.2 3.2.1-1.6.2-2.9.1 4.9.2-.9.2 2.8.1-8.5.2 9.2.1-2.5.2-4.5.2 6.1.1.4.2-4.1.1 4 .2-2.7.2 3 .1.3.2-7.2.1 2.4.2 4.6.2-6.2.1-1.3.2 6.7.1-8.1.2 8.4.2-6.6.1 2.2.2 4.2.1-8 .2 7.2.2-6.5.1 5 .2-2.5.1.5.2 4.1.2-2.2.1-4 .2-.1.1 2.2.2.4.1-1 .2 1.6.2-1.7.1-2 .2 6.2.1-1.4.2 2.4.2-2.5.1-5 .2 1.9.1-1.8.2 5.6.2-6.2.1 2.9.2-2.9.1 5.9.2-4.7.2 3.1.1-2.3.2 1 .1 1.9.2.2.2-4.3.1 4.6.2-1.8.1-1 .2-1.8.2 4.9.1-2.2.2 1.4.1-3.2.2-.7.2-1.4.1 2.1.2-.5.1 3 .2-4.1.1 8.2.2.2.2-1.7.1 1.9.2-.4.1-2.7.2 1.6.2-3.6.1 4.6.2-2.5.1 1.8.2-4 .2 6.6.1-4.9.2 4.8.1-5.9.2 2.9.2 1.7.1-3.8.2 2.8.1-5.4.2 5.4.2.2.1-4.5.2.5.1 3.8.2-1.7.2.6.1 2.6.2-5.6.1 2.8.2-.7.2 4.1.1-.9.2-6 .1 5.2.2-2.6.2.4.1-2.2.2 3.7.1.3.2-3.1.1 7 .2-2.7.2 1.6.1-3.9.2 4.7.1-6.8.2 1.9.2-.8.1 3 .2-1.1.1-1.5.2 2.1.2-.4.1.2.2.5.1.1.2-8.7.2 7.1.1.6.2-5.3.1 3 .2-3.9.2-2.1.1 3.1.2-4.1.1.8.2 7 .2-.3.1-1.6.2-6.4.1 2 .2 5.7.2-1.9.1 2.8.2-1.7.1-5.9.2 5.5.1.5.2 1.5.2-2.7.1 1.9.2-.3.1-3.5.2 4.2.2-5.1.1.6.2-2.6.1 8.4.2-.7.2-5.9.1 6.2.2-2.2.1.5.2 3.5.2-5.3.1 2.2.2 4.3.1-3.5.2-2.9.2 4.1.1 2.6.2-3.7.1 1.2.2-2.8.2 1.3.1 3.1.2.2.1-1.7.2-.5.2 1.5.1-.5.2-2 .1-4 .2 2.4.2 4.5.1-1 .2-4.5.1-.8.2 6.4.1-3 .2-3.9.2-2.6.1 3.1.2 2.4.1 2.6.2-4.7.2 2.8.1 3.3.2.5.1 0 .2-1.4.2 0 .1 1.3.2-2.6.1 3.1.2-6.8.2 8.1.1-2.3.2-7.1.1 5.9.2-1.9.2-.3.1-.4.2-5.5.1-1.3.2 1.2.2-1.5.1 1 .2 4.6.1-3.6.2 2.4.2-2.8.1 6 .2-7 .1 4.9.2.4.2 2.8.1 1.5.2-.7.1-5.4.2 6.4.1-2.3.2-1.9.2 4.7.1.3.2-3 .1 3.1.2-.4.2-.7.1-1 .2-1.3.1-.8.2-.5.2-1 .1-.8.2-1.3.1-.9.2.1.2 7.1.1-.1.2-4.1.1 4 .2-1.1.2-3.3.1 4.2.2-5.8.1 2.2.2 3.3.2-6.8.1 5.5.2-4.3.1-.1.2 4.4.2-4.9.1.9.2.4.1-1.6.2-2.4.1 8.8.2-9 .2 4.1.1.9.2-.9.1-1 .2-3.8.2 5.6.1-5.7.2 2.5.1-2.5.2 3.5.2 4.8.1-6.7.2 2.7.1.5.2 4.6.2-1.2.1-2.3.2-.4.1 4.8.2.4.2-.9.1-.6.2.5.1 1.7.2-1.4.2-6.2.1.2.2 8.1.1-.2.2-2.2.2 2.4.1 1.1.2-3.6.1 2.4.2-3.3.2-1.1.1.1.2-1.6.1-.9.2 7.7.1-6.8.2 6.6.2-6.2.1.1.2 2.7.1 3.7.2-5 .2-1.3.1 8.3.2.4.1-4.8.2.8.2 2.2.1.5.2-.7.1 0 .2-1 .2-2.3.1-.9.2 4.9.1-2 .2.2.2-4.4.1 6.3.2-3.7.1-6.1.2 5.5.2-4.2.1 1.2.2.7.1-3.4.2 0 .2 3.9.1 2.4.2-1.7.1-3 .2-1 .1 5.4.2.1.2-3.8.1 3.5.2 1.7.1 2.4.2-1.1.2-7.1.1-.3.2 2 .1 4.8.2.8.2.4.1-6.9.2 2.9.1-3.1.2 2.1.2 2.8.1.9.2-3.7.1 1.4.2.4.2 3.4.1-5.8.2 4.5.1-.1.2-1.9.2-3.3.1 5.9.2 1.3.1-2.7.2-2.1.2 4.6.1-5.9.2 6 .1-1.1.2-4.6.2-3.9.1 4.7.2-4.8.1 4.3.2 1.4.1 1.9.2-7.8.2 3.1.1.1.2 1.9.1-2.9.2 3.8.2-1.1.1-1.8.2.2.1-4.2.2 1.5.2 7.1.1-6.1.2.1.1 1.4.2 1.8.2 2.1.1-7.5.2 4.1.1-2.4.2-2.4.2 2.2.1 2.5.2-4.5.1 3.5.2 2.8.2-5.1.1 3.1.2.9.1-2.3.2 4.7.2-6.1.1 5.6.2 2.8.1-6.2.2 4.5.2-.4.1-.6.2 1.6.1-.3.2 2.2.1 2.4.2-5.4.2-3.9.1 7.1.2-2 .1-3.1.2-3.9.2 7.7.1-3.3.2-1 .1 1.7.2-1.7.2 3.5.1-.9.2-5.7.1-.4.2 7.3.2.6.1-3.2.2-1.6.1 3.6.2 0 .2 1.3.1.7.2-2.3.1-1.7.2-1.2.2 2.6.1-2 .2-3.2.1 7.2.2-8.9.2 8.5.1-.5.2-3.6.1-1.6.2-3.1.1 6.4.2-.3.2-6.5.1 6.5.2-5.6.1 4.7.2-.8.2.7.1 4 .2-3.7.1-.9.2-.3.2 7 .1-.4.2-4.3.1.6.2 2.6.2-5.9.1 6.6.2-2.8.1-1.2.2-4.2.2 7.9.1-7.2.2 6.4.1-.8.2-.2.2-2.8.1.6.2 2.1.1.5.2-6.3.2 6.8.1-4.1.2 1.1.1.5.2-1.5.2-2.6.1 2.4.2-1.5.1-.2.2 1.3.1 2.4.2-7.2.2-1 .1 2.6.2-.3.1 2.1.2-3.2.2.7.1-.9.2-3.2.1 4.2.2 4.4.2-3.7.1 2.8.2-2.9.1-2.4.2 9.1.2-1.7.1-4.8.2 7.8.1-.7.2-6.3.2 4.3.1 1 .2-4 .1.2.2 4.4.2-3.1.1 1.6.2 1.1.1-1.7.2-1.8.2-1.1.1 4 .2-5.1.1-1.8.2 8.4.1-7.4.2 8.7.2-8 .1-.4.2 1.4.1 5.8.2-.7.2-6.3.1 5.8.2-4.8.1 5.2.2-5.7.2 1.4.1-2.1.2 8.4.1-7.5.2 6 .2 1.2.1-2.5.2 3.1.1.3.2.4.2-3 .1.9.2-2 .1.8.2-.1.2-1.1.1 4.7.2-2.5.1 4.2.2-4.6.2 2.3.1-1.3.2-3.4.1-.3.2-3.5.2 5.1.1-2 .2-2.5.1-.9.2 7.9.1-7.8.2.7.2 7.3.1-.4.2-.5.1-4.7.2-1.6.2-.5.1 6.6.2-3.8.1-2.3.2 3.6.2.5.1-6 .2 4.8.1 3.6.2-4.3.2-4.1.1 6.3.2-1 .1-3 .2 0 .2 2.1.1-1.2.2 5.5.1-6.9.2 3.2.2.9.1 2 .2 2.9.1-1.1.2-6.2.2 6.9.1-1.6.2 2.7.1-3.7.2-3.3.2.3.1 6.6.2-8.1.1.8.2 5.6.1 2.3.2-8.7.2 5.8.1 1.9.2-1.9.1-.5.2 1.9.2-4.7.1.6.2 4.1.1-3.4.2-2.2.2 4.5.1-7 .2 3.2.1-1.7.2 4.7.2-3.4.1 2.7.2-2.2.1-.8.2 4.2.2-5.4.1 3.7.2-1.1.1-.3.2-1.9.2-1.1.1 0 .2-2.4.1 7 .2-6.4.2 5.9.1 1.8.2-8.8.1 3.1.2-1.8.1 2 .2-1.1.2-1.4.1-.5.2.4.1 5.3.2-.1.2 1.5.1-8.1.2 5.8.1-1 .2-1.2.2 4.1.1-1.5.2-2.6.1 3.7.2 1.2.2 2.4.1-5 .2 2.2.1 1.6.2.3.2-4.9.1-.7.2-1 .1 4.1.2 2.1.2-5.1.1-1.7.2 1.7.1 1 .2 1.7.2-4.6.1 6.5.2-5.4.1 7.3.2-8.5.2 6.8.1.6.2-7.7.1 2 .2 4.5.1 2.7.2-3.2.2 2.8.1-1.5.2-1 .1 2.3.2.1.2-3.2.1 1.4.2 5.2.1-5.2.2.1.2 3.1.1 2.6.2-3.9.1-1.8.2 6.8.2-6.5.1-1.8.2 2.9.1-3.1.2-2 .2 4.1.1.2.2-.2.1-5.5.2-2.4.2 6.6.1-1.7.2-2.7.1-4.3.2 1.7.2 5 .1-3.3.2-4.1.1 4.2.2-1.9.1 1.7.2-.8.2-1.3.1.9.2 2.1.1.4.2 4.3.2-2 .1.7.2 1 .1-2.8.2 1.5.2-1.2.1.9.2.5.1-1 .2 2.7.2 2 .1-3.8.2-2.1.1.9.2 6.5.2.2.1-3.8.2-3 .1 5.9.2-1.6.2.7.1-1 .2-1.4.1 2.3.2 2.1.2-.4.1-8 .2-1.2.1.7.2 0 .2 5.9.1-5.6.2 1.5.1 3 .2-3.9.1-2.4.2 4.2.2-3.7.1-2.2.2 5.3.1.2.2-2.6.2 1.2.1 1.9.2 1 .1-4.2.2 5.6.2-.3.1-1.6.2-4.3.1-1.8.2 2.6.2 2.6.1-5.7.2 5.9.1-2.5.2 1.2.2-1.6.1-2.6.2 4.2.1-6 .2-.4.2 6.3.1-1 .2 1.3.1-1.5.2-5.9.2 5.3.1-4.4.2 2 .1-1.6.2 4.6.2 1.1.1-4.6.2-.1.1 1.4.2 2.8.1.9.2-4.3.2-.7.1 1.7.2.3.1 5.9.2-3 .2-3.1.1 4.8.2-1.2.1-.6.2-.2.2-.3.1-4.9.2 3.5.1-.8.2-2.3.2 5.7.1 2.9.2-1.9.1-.6.2 1.8.2-6.1.1 2.9.2-3 .1 1.2.2.3.2-1.8.1 2.3.2-2.6.1 2.3.2 4.1.2 1.8.1-.1.2-3.5.1 2.8.2-3.6.1.9.2 3.3.2-6.7.1-.8.2 3.4.1 3 .2-3.2.2-3.5.1 1.1.2 3.2.1-2.8.2-1 .2 3.1.1-1.3.2 7 .1-5 .2 0 .2-1.2.1-1.7.2 5.8.1-2.2.2 4.3.2-.4.1-6.1.2 6.6.1-1.8.2 1.9.2-6.6.1 6.9.2-7.3.1.9.2-1.4.2 7.6.1-3.4.2-3.1.1 4.5.2-4.1.2-.6.1-1.8.2 5.1.1.8.2-3.5.1-2.9.2 2.8.2 1.8.1 1.8.2.3.1-.7.2-4.8.2 2.7.1.4.2 2.3.1-.9.2-1 .2.8.1-4.5.2 3.6.1 3.3.2-.7.2-4.5.1-.1.2 5.2.1-2.7.2-1.7.2 1.2.1 2.6.2-.2.1-.4.2 1.8.2-1.6.1 1.9.2-1.8.1-5.9.2 3.9.2 2.6.1.2.2-5.7.1-1.7.2 5.8.1-.4.2-5.6.2 6.9.1-4.4.2 1.6.1-3.9.2 4.8.2.4.1-2 .2.8.1.8.2.8.2-1.9.1-2.6.2 4.7.1-.5.2-1.7.2-3 .1-.4.2 3.7.1-3 .2-1.3.2 2.7.1 1.3.2 3.8.1-2.8.2-1.3.2.4.1.6.2 5 .1 1.5.2-2.9.2-.8.1-2.7.2 5.1.1-2.6.2-4.6.2 3.9.1-1.9.2.2.1-1.1.2-1.5.1 4.7.2 2.6.2-8.3.1 5.3.2-1.3.1 1.6.2.6.2-6 .1 7.3.2-5.9.1 5.4.2.5.2-.4.1-2 .2-.2.1 2.3.2-8.9.2 6.9.1-2.2.2 2.7.1-.4.2-7.3.2 4.4.1-1.3.2-1.5.1-.9.2-.9.2 0 .1 3 .2-2.5.1-.7.2 4.7.2-6.7.1 7.8.2-6 .1-2.3.2 1.5.2 3.8.1 2.3.2-2.4.1 2.8.2 2.4.1-2.7.2 1.5.2-1.1.1-4.1.2 7.3.1-2.6.2-2.8.2 5.8.1-6 .2 4.3.1.5.2-1.2.2-4.8.1 7.9.2-6.8.1 3.1.2 2.2.2-4.7.1.8.2 1.3.1.4.2-2.8.2 3.1.1-3.2.2-.3.1 2.9.2-3.7.2 4.9.1-5.7.2-.3.1 1.4.2 4.6.2-1.1.1-1.2.2-2.4.1 7.3.2-6.3.1 2.1.2-2.3.2 2.2.1-1 .2-.4.1.8.2-3.3.2.6.1-1.1.2.6.1 2.7.2-2.1.2 6.1.1-7 .2 3.6.1 3.5.2-2.1.2-3.8.1 7.2.2-7.3.1 3.7.2 3.3.2-3.1.1 4.1.2-1.2.1-1.1.2-.1.2 2.5.1-4.8.2.2.1-.7.2 4.9.2-5.6.1 6.7.2-1.5.1-5.5.2 1.3.2 2.2.1-5.9.2.3.1.8.2 3.4.1-5.5.2 3.8.2.1.1-.1.2-6.2.1 4.1.2-1.2.2-.1.1 5.1.2-1.7.1-3.1.2 4.7.2.2.1 2.1.2.5.1-4.1.2 3.7.2-.6.1 0 .2-5.6.1 3.5.2.7.2 2.5.1-3.8.2-.1.1-.4.2 4.5.2-1 .1 2.4.2-6.4.1 7.8.2-3.3.2-4.1.1 6.7.2 0 .1-2.8.2-6 .1 6.1.2-.5.2-3.7.1 1.7.2-3.8.1 2.8.2 3 .2-3.3.1.7.2-4.9.1 5.1.2-2.4.2 2.6.1-1.9.2 3.4.1.9.2-4.1.2 3.1.1-3.5.2 4.2.1-6.2.2-1.3.2 6.9.1-4 .2 0 .1 1.3.2-5.6.2 6.4.1 1.7.2.2.1-1.1.2-5.4.2.6.1 6.5.2-.2.1-5.9.2 3 .2-1.1.1.5.2 4 .1-5.9.2 8.1.1-4.5.2.2.2 2.1.1 2.7.2-4.1.1 2.2.2-.6.2 2.1.1-1 .2-2.3.1.7.2 1.2.2 1.8.1-3.1.2-4.9.1 1.2.2-.6.2 6.6.1.3.2-5.8.1-1.2.2 6.7.2-2.9.1 3.1.2-2.9.1.6.2.2.2 2.5.1-4.8.2.9.1-1.2.2-.8.2 2.2.1-5.1.2 4.6.1-5.7.2 3.4.2-.1.1-1 .2-4 .1 2.6.2-.9.1 1.6.2.7.2 1.3.1 6.1.2-3.9.1 5.7.2-6 .2.4.1 4.7.2-5.1.1 4.9.2-7.3.2 6.8.1-6 .2 2.1.1-3.4.2 1.6.2 1 .1-5.6.2 5.6.1-2.6.2-.4.2 3.9.1.7.2-6.5.1 5.1.2 2.3.2-6.7.1 6.4.2-.7.1.8.2-2 .2-4.3.1 2.4.2.6.1.6.2-3.9.1.5.2 7.8.2-7.8.1 1.3.2 5.7.1-.5.2-3.4.2-3.7.1 2.5.2 1.4.1-4.9.2 5.9.2-2.1.1.8.2 1.7.1-5.2.2 1.5.2 1.5.1-5.8.2 6.6.1-2.3.2 0 .2-2.8.1-1.8.2 2.2.1 2 .2 2.7.2-1.3.1-3.3.2-.2.1.9.2 3.2.2-3.3.1 2.7.2 3.5.1-5.6.2 2.2.2-.7.1 4 .2-3.3.1-1.1.2-1.2.1 5.5.2-2.3.2-1 .1 3.7.2 1.6.1.3.2-7.7.2 6.7.1-2.7.2-.8.1 2 .2.3.2-.2.1-2.5.2-.8.1-3 .2 3.6.2-1.3.1 3 .2-3.6.1 4.2.2 1.3.2-5 .1.2.2-.3.1-2.4.2 6.4.2-6.1.1 2.5.2-.8.1 3.5.2-2.3.2-2 .1.6.2 1.3.1-.3.2 1 .1-3.6.2 8 .2-8.2.1 4.8.2 1.9.1-2.1.2.6.2-4.5.1 4 .2 2.9.1-.4.2-3.7.2 3.7.1-7.6.2 6.9.1-3.7.2 3.1.2.8.1-2.9.2.4.1-5.2.2 5.2.2-7 .1 4.7.2-1.1.1-.3.2-1.3.2 1.2.1-.2.2 1.6.1-1.5.2 3.2.2-1.2.1 3.4.2 1.6.1-3 .2 1 .2 6.1.1-1.7.2.3.1-2.4.2 3.8.1-5.1.2-.2.2 1.2.1-1.5.2 1.7.1-2 .2.9.2 1.3.1-1.6.2-3.2.1 3.6.2-1.9.2-4.1.1 7.6.2-7.2.1 6.2.2-6 .2-.6.1 4.2.2-1.9.1 3.4.2-3.4.2-1.9.1 5.2.2-1.3.1-1.3.2 3 .2-.3.1-4.3.2 4.2.1-4.6.2 1.1.2 1.3.1-3 .2-1.3.1 4.1.2 2.1.2-2.3.1-2.8.2 6.3.1-7.9.2 5.3.1-1.5.2.4.2 4.4.1-2.2.2-1.8.1 3 .2-3.3.2 1.1.1-2.1.2 5 .1.3.2-4.1.2-1.5.1 6.5.2-4.7.1 1.1.2 4.9"/><path fill="none" stroke="#ff4040" stroke-width="2.6" stroke-linejoin="round" shape-rendering="crispEdges" d="M379.8 750.1l.1.6.2 7 .1-9.9.2 6.7.1 1.6.2-7.6.2-2 .1 2.9.2 5.2.1-1.3.2-5.4.2 4.1.1 3.5.2-3.1.1 3.3.2 4.8.2-3.6.1-3.7.2-2.6.1 2.3.2 2.4.2 5.2.1-1.5.2-6.2.1 8.3.2-6.2.2 3.1.1-8 .2 0 .1 1.3.2 9.3.2-2.9.1 2 .2-3.2.1-3.7.2.9.2.4.1 3 .2-6.6.1 5.5.2-4.6.1 2.3.2-5.1.2 2.3.1-5.2.2 2.4.1-4.3.2-1.4.2-.6.1 9.4.2-3 .1 6.4.2-.5.2-5.9.1 8.3.2-5 .1 2.7.2-4.7.2-2.5.1 0 .2.6.1 6.2.2-6.2.2-.9.1 11.5.2-9.8.1 5 .2.6.2 1.8.1-1.7.2 5.8.1-2.7.2-2.5.2.4.1-1.6.2 6.1.1-10.3.2 6.2.2-2 .1-7.2.2 3.3.1 8.5.2-2 .1-10.7.2 3.9.2-3.8.1 11.3.2-9.7.1-.5.2 12.8.2-7.1.1-1.6.2-3.5.1 4.9.2-.2.2 2.4.1-7 .2 2.1.1 1.1.2 3.3.2-1.7.1 4.5.2-4.2.1 8.8.2 1 .2-12 .1 2.3.2 5.1.1 3.1.2-9.6.2 1.7.1 3.7.2 2.8.1 3 .2-.8.2-1.3.1-10.5.2 12.4.1-5.2.2-7.4.1 2.1.2 4.9.2-3.3.1.7.2 4.8.1.1.2-4 .2 3.1.1-5.5.2 7.7.1-5.2.2 5 .2-12.7.1 11.7.2-4.3.1 2.3.2-7 .2 5 .1-3.6.2-2.7.1-1.6.2 12 .2-3.6.1-6.7.2.4.1 2.5.2 4.7.2-9.6.1 11.7.2-.2.1-9.5.2 5.6.2-3.7.1 4.7.2-8.3.1 5.2.2 1.6.2.4.1.9.2 2.8.1-8.7.2-.9.1 3.8.2 3 .2 6.2.1-2.7.2 1.2.1 4.1.2-9 .2.4.1 2.6.2-1.5.1 4.9.2 4 .2-11.2.1 4.6.2 1.6.1-3.1.2 5.2.2-3 .1 1.5.2-11.2.1.7.2-2.2.2 10.2.1 1.5.2-13.3.1 10.5.2-.9.2 2.4.1-8.8.2 6.1.1-6.7.2-2.2.2 9.1.1-9.8.2 9 .1-5.9.2 2.7.1 5.5.2-9 .2 3.1.1-1.4.2-2 .1 4.3.2-3.6.2 9.1.1-1.9.2-3.9.1 10.1.2-8 .2 5 .1 1.2.2-6.1.1-3.4.2 12.2.2.8.1-10.9.2-.4.1 3.7.2 2.1.2 5.3.1-.4.2.3.1-10.1.2 4.9.2-2.1.1-2.6.2-2.1.1 1.7.2 2.8.2-3.5.1 1 .2-1.4.1 8.1.2-1.8.2-3.5.1 3.9.2-1.5.1 3.1.2 3.7.1-8 .2 4 .2-5.9.1 9.9.2-4.5.1-6.3.2 1.2.2-1.5.1.1.2 1.5.1 6.8.2-5.5.2-2.8.1 1.6.2-2.4.1 6.2.2-9.5.2 3.2.1.5.2-1.9.1 7.9.2-7.6.2 1.8.1-3.2.2 9.7.1-5.5.2 4 .2-6.2.1-2.9.2 4 .1 6.2.2.8.2-6.7.1 7.1.2-10.6.1 6.9.2-3.1.2 3.1.1-2.5.2 9.8.1-7.6.2 9.3.1-11.2.2 4.7.2.4.1 3.8.2-5 .1 2.1.2-5.9.2 3.2.1 5.6.2-8.9.1 4.6.2-3.5.2-1.4.1-1.1.2 9.2.1-2.2.2-4.6.2-.1.1 4.5.2-1.8.1 4.3.2.2.2-6 .1 2.6.2-1.4.1-3.1.2 2.1.2 3.9.1-2.2.2 1.2.1-1.9.2 6.6.2-2.4.1-8.8.2 9.6.1 1.6.2-1.2.1-6.4.2.6.2-1.5.1-2.4.2 5.9.1 5.4.2-1.1.2-1.4.1 2.4.2-2.7.1-6.3.2 7.8.2-6.4.1 6.9.2-8.1.1-3.6.2 8.5.2-8.8.1 10.5.2-6.4.1 5.2.2-9.8.2 7.1.1 2.2.2-7.2.1 7 .2-6.2.2 2.5.1 1 .2 3.6.1-6.7.2.7.2 8.1.1-1 .2-3.8.1-2.6.2 5.4.2-3.3.1-2.3.2 7.6.1-9.5.2 8.2.1-2.6.2.3.2.5.1.9.2 1.9.1.7.2-9.1.2-1 .1 10.4.2-9.2.1.6.2 8.5.2 2.7.1-1.3.2-4.2.1-1.8.2 8.5.2-3.6.1-1.9.2-9 .1 1.9.2-3.1.2 11.8.1-9.8.2-1.2.1 5.6.2-5.2.2 5 .1 6 .2-.7.1-8.1.2 9.9.2-6.7.1 2.2.2-2.3.1 9.7.2-9.4.1 6.1.2-1.6.2 1 .1-8.3.2 5.9.1 6.1.2-6.3.2-5.5.1-2.3.2 3.5.1 5.5.2-10.3.2.1.1 8.4.2 3.2.1-6.1.2 2.8.2-4.8.1.5.2 3.1.1-3.2.2 3.5.2-4 .1 11 .2-3.7.1-7.7.2 1.4.2 8.8.1-6.4.2-1.8.1-3.5.2 8.8.2-1.8.1 3.3.2-9.9.1 7.6.2.5.2-.6.1-1.7.2-4.7.1-6 .2 8.1.1-8.8.2.9.2 4.7.1-3.7.2 5.2.1 6.2.2-8.9.2 9.5.1 3.4.2-12.9.1 5.9.2 4.4.2.7.1-6 .2 7.7.1-5.8.2-2 .2 4.8.1 1.7.2 3.5.1-2.2.2-8 .2 7 .1-3.2.2 5 .1-9.4.2 8.4.2 1.8.1-10.7.2-.4.1 12.2.2 0 .2-10.1.1 10.4.2-7.4.1 1.4.2-.9.2-2.2.1 7.4.2-4.4.1 4.1.2-5 .1 3.8.2-6.4.2-1.1.1 1 .2-8.4.1 10.5.2-9 .2 11.3.1-12.6.2 9.5.1 1 .2-3 .2-6.1.1 10.2.2-6.8.1-.3.2 5.8.2 3.9.1-12.3.2 4.8.1 3.5.2-5.5.2 9.3.1-4.3.2-7.2.1 1.4.2.2.2 4.7.1 6.8.2-11 .1.8.2 1.2.2 5.4.1-1.8.2 0 .1-3.8.2 9.7.1-5 .2 5.3.2-12.1.1 5.7.2-1.6.1 6.3.2-2.5.2-2.7.1-5.4.2 7.1.1 2.8.2-2 .2 2.5.1-5.6.2-4.2.1-1.6.2 8 .2 0 .1-2.7.2 2.1.1-4.2.2 5.3.2-2.1.1-6.2.2 5 .1 1.1.2-6.3.2 10.4.1-1.8.2-9.5.1 1 .2-3.1.2 13.3.1-10.8.2 9.4.1-4.5.2-6.4.2 2.3.1.6.2 7.2.1-5.8.2-3.4.1 11.2.2-6.4.2-6.7.1 12.7.2-4.5.1-3.5.2-4.4.2 7.8.1-8.5.2 12.1.1-2.6.2-.4.2 1 .1 1.6.2-5.4.1 5.1.2-9.8.2 8.7.1 1 .2-7.4.1-1.1.2 11.9.2-.1.1-10.9.2 7 .1-5.7.2.4.2 10.3.1-3.9.2 1.3.1-7 .2 6.8.2-1.7.1-4.8.2 2 .1-3.8.2 4.8.1-6.1.2 3.6.2 5.6.1-3.1.2-1 .1-7.2.2 10.1.2-3 .1 4.7.2-.2.1.1.2-5.6.2 3.4.1-9.5.2-.8.1 10.6.2-1.7.2 3.8.1-9.4.2 2.5.1 3.9.2-2.7.2 3.2.1-6.6.2 6.4.1.3.2.6.2-7.1.1 7.5.2-8.3.1 4.3.2 5.9.2-4.4.1-.4.2-2.9.1 2.7.2.2.2 3.1.1-1.5.2-2.8.1-1.6.2 11.6.1-5.1.2-6.4.2 2.2.1 4.3.2-6.2.1 9.1.2-5.4.2 1.8.1-.3.2-7.2.1 11.1.2-1 .2-9.7.1 6.3.2-.3.1-2.8.2 1.1.2-1.6.1 5.2.2-2.9.1-4.9.2 1.5.2-1.5.1 6.3.2-1.5.1-2.9.2 1.7.2.7.1-6.2.2-2.5.1 12.6.2-10.8.2 1.1.1 7 .2 4.6.1-11.4.2 4.6.2 7.1.1-10.1.2 3 .1 5.6.2 3.4.1-9.8.2 4.6.2 2.6.1-.6.2-.2.1 6.2.2-.2.2-11 .1.5.2 1.8.1-4.3.2.5.2 5.8.1 5.8.2-9.8.1-1.4.2 5.7.2-4.6.1-4.2.2.8.1 10.5.2-11.1.2 6.9.1-3.6.2 4.5.1-3.8.2-4 .2-.1.1.6.2.5.1.8.2 1.4.2 4.8.1-.3.2-5.7.1 5.3.2 7.2.1.3.2-8.5.2-2.4.1 1.7.2-2.4.1 1.5.2 8.9.2-.8.1-6 .2 1.2.1 2 .2-.1.2-.3.1.4.2-2.1.1-6.5.2 7.2.2-.5.1-7.2.2.1.1 5.7.2-3.7.2 5.5.1-7.4.2 5.1.1-.7.2-6.8.2 2.4.1 1.1.2-.4.1-2.7.2 2.2.2 4.2.1-4.1.2 5.6.1-3 .2.5.2-3.5.1 7.7.2-9.7.1 11.5.2-4.8.1 4.8.2-5.2.2-2.5.1.5.2 7.9.1-5.1.2-1.4.2-2.8.1.2.2 3.7.1.6.2 4.7.2-9.2.1 4.4.2-4.4.1 1.6.2 3.1.2 5.1.1-10 .2.6.1 7.1.2-2.4.2-5.7.1 7.9.2 3.7.1-2.9.2 3.3.2-3.5.1-5.8.2 6 .1-3.5.2-6.8.2 3.2.1 7.3.2-4.2.1-4.1.2 4.1.1-.5.2-7.1.2 3.9.1 4.5.2-9 .1 5.9.2-5.3.2 2.4.1 6.9.2-4.9.1 6.5.2-.9.2-.9.1-6.2.2 4.1.1 5.6.2-3.3.2-7.4.1 5.7.2-.4.1.6.2-.6.2 5.8.1-2.9.2 5 .1 2.1.2 0 .2-1 .1-9.2.2.1.1 2.4.2 4.4.2-3.1.1-2.5.2 9.8.1-7.1.2-3.6.2 3.5.1 5.4.2-3.9.1 2 .2-11 .1 7.6.2-5.7.2-.1.1 1 .2-.2.1 4.2.2-6.4.2 2.3.1-.1.2 2.8.1-.5.2-6.2.2 10.8.1-2.4.2-6 .1 4.7.2 5.3.2-.1.1-6.1.2-2.2.1 9.1.2-2.8.2-1.1.1-3.3.2 5.7.1-8.7.2 7.9.2-.5.1-3.8.2-2.3.1 3.9.2-4.1.2.1.1-2 .2 6.4.1-8.1.2 4.3.2-.6.1 7 .2-11.1.1 5.9.2-4.3.1 9.2.2-10.4.2 10 .1-3.4.2-5.7.1 2.9.2-1.7.2 2.7.1 4.5.2-4.3.1 6.5.2-.9.2-8.6.1-1 .2 7.1.1-3.9.2-.9.2 8.6.1-3.9.2-3.4.1 4.1.2.4.2 3.6.1-4.2.2 1.7.1-3.8.2 9.3.2 1.5.1-10.8.2 9.9.1 3.3.2-1 .2-.4.1-7.1.2 9.7.1-7.8.2 5.8.1-1.4.2-2.6.2 4 .1-.6.2-6.9.1-.1.2 5 .2-5.8.1 5 .2-8.1.1.3.2 1.7.2-1 .1 1.8.2-2.9.1-.8.2 2.6.2-2.5.1 2 .2.7.1 6.8.2-6.3.2 2.2.1 4.3.2-5.8.1-2 .2 3.7.2 3.2.1-6.7.2 5.6.1-3.2.2.6.2 1.4.1-2.2.2-3.4.1.5.2-2.2.2 10.2.1-2.9.2 3.5.1-7.7.2 2.9.1.2.2-5.3.2 5.3.1.8.2-1.9.1-.7.2-1.1.2-1.8.1 6.6.2-4.9.1-1.5.2 11 .2-1.4.1-6.8.2 1.1.1-3.6.2 9.4.2-8.6.1 6.4.2-1.1.1-9 .2.3.2 5 .1-5 .2 10.8.1.6.2-4.5.2-3.9.1-1.3.2-1.1.1 5.2.2-5 .2.8.1 6.3.2 2.2.1-2.5.2 4.3.1-1.2.2-4.3.2-.6.1-1.7.2 7.4.1-3.6.2 4.5.2-4.9.1 4.5.2-2 .1-2.1.2 1.9.2-.1.1-8.4.2 9.3.1-8.5.2 5.4.2-.6.1 3.4.2-6.5.1 5.9.2 1.2.2-5.4.1 3 .2-1.9.1 4.3.2 1.7.2-4.3.1-5.8.2 11.1.1-3.9.2-4.9.2 6.6.1-3.6.2-3.6.1 1.7.2 2.9.2-3.6.1-2.6.2-1.2.1 3.8.2 4.2.1-4.6.2.8.2 4.8.1-1.9.2 4.1.1-1.9.2 1.2.2-5.3.1 3.2.2 2.7.1-11.9.2 5.6.2 3.5.1-6 .2-1.8.1 5.4.2-5.2.2 1.2.1-1.1.2 8.3.1-8.1.2 10.6.2-4.2.1-1.7.2-2.9.1 3.1.2-1.6.2 7.3.1-4.3.2-5.9.1 11 .2.5.2 0 .1-8.7.2 2.7.1 2.6.2-7.3.2 3.7.1-1.4.2 6.4.1-10.1.2 10.8.1-10.9.2 10.9.2-5.5.1-3.1.2 1.6.1 7.5.2-8.9.2 7.4.1.8.2-7.2.1 3.3.2-.9.2 4.9.1-9 .2 2.4.1 3.6.2-6.1.2 1.7.1 6.3.2-1.2.1-.7.2 3.8.2-7.3.1 8.1.2-7 .1 7.1.2-2.3.2 0 .1-1.3.2 2.1.1-5.4.2 5.1.2-7.3.1 6.3.2 3.7.1-.2.2-8.7.1 7.7.2-3.7.2-1.9.1-.5.2 1.1.1.4.2 6.5.2-1.6.1-6.4.2 8.1.1-1.5.2 5.2.2-7.9.1 5.6.2-2.6.1-3.7.2-1.6.2 8.8.1-11 .2 2.2.1 2.1.2-2.7.2 2.7.1-4.8.2 6.9.1-2.5.2.7.2 3.9.1-9.6.2 3.5.1-3.7.2 1.6.2 2.2.1 2.8.2-7 .1 7.2.2-1.2.2-3 .1 4.6.2-5.1.1 6.8.2.2.1-6 .2 7 .2-1.5.1-2.1.2 1.8.1 3 .2 2.6.2.1.1 1.2.2-6 .1-4.3.2 1.7.2 2.9.1-3.4.2 5 .1-5.2.2 2 .2-.3.1 6.9.2-5.4.1-4.3.2 7.4.2 2 .1-2.8.2-8.5.1 9.5.2-7.7.2 6.7.1-.5.2-2.1.1-7.5.2 3 .2-3.2.1 7.4.2-8.5.1 4.3.2 3.5.1 1.1.2-4.6.2-3.8.1 9.4.2-6.6.1 2.4.2-5.5.2 3.7.1 7.7.2-2.1.1.2.2-1.4.2-4.6.1 1.4.2 8.7.1-9.6.2 6.5.2-3.5.1 3.9.2-7.2.1-.9.2 4.6.2-3.8.1 5.8.2 2.1.1-10.2.2 1.2.2-1 .1 2.5.2-1.9.1 4.3.2-2.8.2 1.5.1 3.8.2-.2.1-8.1.2.9.2 3.5.1-1.1.2-4.9.1 8.2.2.9.1-3.9.2-3.3.2 6.9.1-7.1.2.3.1 6.2.2-1.3.2 6.7.1-8 .2-.4.1 2.1.2 6.7.2-1.6.1-7.6.2 1.7.1 9.6.2-4.3.2-1.8.1-3.9.2 1.6.1-2.5.2 9.3.2.8.1-4.7.2 2.8.1-7.6.2 1.6.2 3.9.1.7.2-.7.1-5.7.2 9.8.2-7.5.1 5.3.2 2.5.1-7.8.2 4.2.2 2.3.1 4.6.2-2.8.1-2.9.2 3.1.1-2.1.2-4.7.2 1 .1 4.5.2.4.1-2.8.2-2 .2-2.2.1 7.9.2-6.1.1 5.9.2 2.6.2-1.5.1-2.9.2-6.6.1 6.8.2 2.4.2-8.3.1 5.2.2-4.2.1 2 .2-1.2.2-5.4.1 1.6.2-4.6.1.1.2 1.8.2 4.9.1-3.5.2 5.4.1-2.2.2 3 .2-1.4.1-4 .2-3.8.1 4.2.2.1.1-4.6.2.3.2 9.3.1-1.7.2-5.2.1-3.7.2 2.8.2 3.2.1 4.7.2-10.5.1 7.8.2 2.7.2.1.1-3.9.2 2.3.1-.9.2-7 .2 3.2.1 7.9.2-9 .1 1 .2 5.5.2 3.4.1-5.6.2 2.8.1 4.3.2-1.4.2-9.1.1 7.4.2-6.3.1 9.3.2-2.7.2 2 .1-4.7.2-5 .1 1.5.2-1.5.2 7.3.1 1.3.2-4.8.1 4.3.2-6.9.1 2.5.2-.1.2.8.1-5 .2 1.5.1-.7.2 5.9.2-1.9.1 5.5.2-4 .1-4.9.2-1.2.2 6.2.1 1.5.2-7.7.1 4.1.2 4.7.2-.7.1-8.8.2 3.9.1 4 .2-3.2.2-6.6.1 3.5.2-.9.1.6.2 6.9.2-1.7.1 2 .2-2.1.1 2.1.2-5.9.2 6 .1-4 .2 3.4.1-6.2.2 8 .1-4.6.2 6.6.2-6.3.1 1.5.2 1.6.1 4.3.2-1.6.2-5.3.1 2.2.2 3.2.1-.3.2-2.3.2-5.2.1 5.7.2-6.3.1 3.3.2.6.2-1.4.1-6.8.2 1.9.1 6.3.2-1.1.2 2.4.1-1.2.2.1.1 2.4.2.8.2-6.6.1 6.2.2 1.6.1-8.9.2 3.7.2 1.3.1.3.2 3.4.1-9.2.2.6.2 7.6.1-5.5.2 1.8.1-3.5.2 8.6.1-5.1.2-4.6.2 9 .1-3.3.2-3.4.1-1.5.2-.3.2 9.2.1-7.7.2 1.4.1 3.7.2-5 .2 7.2.1-.7.2.2.1-3 .2-.6.2 5.3.1 2.4.2-4 .1 3.4.2-8 .2 6.3.1-5.7.2.3.1-2.9.2 9.4.2-8.7.1.6.2 1 .1.7.2 4 .2-7.8.1-.2.2 1.6.1 6.9.2-.7.2.7.1-4.3.2-5.6.1 6.1.2-3.7.1-1.7.2 1.5.2 4.4.1-1.5.2 1.6.1-1.1.2-.3.2-.3.1 2.5.2-.8.1-.1.2-3.5.2-1.4.1 5.8.2-1.6.1 1.2.2-4.8.2-3.2.1 8 .2-6.3.1 6.2.2-7.2.2.6.1.3.2.4.1 7.1.2-8.2.2 3 .1 2.5.2-.1.1 1.4.2-1.6.2-4.3.1-.8.2 7.1.1-5.3.2-1.7.1 1.2.2-1.8.2 6.5.1-5.8.2 3.9.1-1.7.2 1.8.2 3.9.1-4.5.2-3.5.1 6 .2-3.9.2-.4.1 5.9.2-6 .1.7.2 1.6.2 3.6.1.2.2-3.8.1-3.7.2.2.2 1.4.1 9.4.2-5.5.1.8.2 2.2.2-2.1.1-3.3.2 5.7.1-5.5.2 1.7.2-3.4.1 6.2.2 1.5.1-5.2.2-3.3.2 2.6.1-2.4.2 0 .1 4.2.2-.8.1-.4.2-2 .2 1.7.1-1.4.2-.8.1-2.9.2 8.1.2-5 .1 4.8.2.5.1-4.9.2 2.6.2-1.3.1 2.8.2 1.9.1-9.8.2 8.6.2-6.2.1-.2.2 4.9.1-4.6.2 2.5.2-3.7.1-1.4.2 4.3.1-3.5.2 6.7.2-8.8.1.4.2 7.2.1-6.6.2 3.1.2-5.3.1 5.7.2-1.6.1 2.2.2-1.2.1-.9.2-2 .2-1.2.1-1.6.2-3.9.1-2.7.2-4.4.2-2.6.1-3.5.2-3.1.1-1.6.2 0 .2-.3.1 1.7.2 2.1.1 2.6.2 2.9.2 2.9.1 4.2.2 2.5.1 1.4.2 4.8.2-1.1.1 4.1.2.6.1 3.1.2.4.2-4.2.1 1.6.2-3.9.1 3.1.2-2.1.2.9.1-.4.2 4.5.1-2.7.2 2.3.2-3.2.1-.7.2 4.9.1-5 .2-2 .1 1 .2 2.9.2-2.7.1.4.2-2.3.1-2 .2-5.2.2-2.6.1-6.1.2-5.6.1-6.2.2-7.5.2-7.1.1-6.9.2-5.9.1-4.3.2-2.7.2-.3.1 1 .2 2.9.1 4.5.2 5.4.2 6.2.1 6.5.2 7 .1 6.3.2 5.6.2 4.3.1 4.8.2 2.2.1 2.5.2 2.7.2-.2.1.7.2 3.6.1 2.4.2-3.7.2 5.1.1-5.1.2 2.7.1-.2.2 4 .1-1.5.2.4.2-4.1.1 1.1.2.8.1 4.1.2 1.5.2.5.1-.8.2-.3.1 0 .2-1.9.2-5.7.1.5.2-.4.1 6.2.2 0 .2-5 .1 1.3.2-1 .1 7 .2-.5.2-.7.1-.7.2-1 .1-.4.2-3.1.2 3.7.1.7.2.7.1-5.5.2 8.4.2-2.2.1-.1.2-4 .1 2.6.2 1.4.1-4.2.2 4.6.2-.8.1 1.7.2-2.6.1 1.2.2 2.4.2-3.2.1-6.8.2.4.1 3.1.2.3.2 1.5.1-2.3.2-.3.1-3.9.2 7.3.2-3.6.1 4 .2-.4.1.4.2-3.1.2-5.8.1 3.8.2 1.3.1-2.3.2-1.6.2 7.5.1.9.2-5.7.1-1.3.2 7.5.2-.2.1-5 .2.8.1.9.2 4.6.2 2.5.1 0 .2-6.3.1 1.6.2 2 .1.8.2-4.3.2.7.1 2 .2-.3.1.5.2-2.8.2-5.8.1 1.4.2 2.8.1-2.9.2 6.7.2-7.5.1 6.3.2-6.5.1 6.1.2-.2.2 3.5.1-2.7.2 3.2.1.1.2-4.8.2 2.2.1-4.4.2 1 .1 6.6.2-7.2.2.7.1-2.1.2 5.6.1-7.4.2 3.7.2-5 .1 6.3.2-7.3.1 4.4.2 3.5.1-2.7.2-.8.2 2.2.1-2.6.2-2.6.1 6.8.2 2.2.2-5.6.1 2.6.2 4.1.1-5.3.2.7.2.1.1-1.9.2 7.4.1-2.8.2-.1.2.7.1.6.2-3.8.1 4 .2-10.1.2 1.9.1-1.1.2 3.6.1 1.1.2.4.2 1.1.1-.8.2-4.8.1.3.2.2.2-5 .1 4.8.2 2.7.1-6.2.2 2.7.2-1 .1 0 .2 2.7.1 1.6.2-2.8.1 5.7.2.5.2 3.6.1-2.5.2-6.6.1 1.2.2 7.7.2-7.5.1.5.2 2.3.1 3.2.2-3.4.2-4.3.1 3.3.2 5.8.1-6.9.2 4.6.2-3.5.1-2.2.2 3.1.1 1.5.2 3.7.2-6.4.1 6.6.2-7 .1 1.6.2.8.2 4.6.1-5.6.2-.6.1-2.9.2 1.5.2 3.1.1.4.2-2.6.1 3.6.2-6.8.2 4.1.1-2 .2.6.1-1.4.2-1.3.1-.2.2-.7.2 1.6.1.9.2-4.1.1 1.9.2-1.7.2-2.1.1-1.2.2-.7.1 1.3.2-1.7.2.4.1-2.2.2-.6.1 1.1.2-1.4.2 1 .1.3.2 1.4.1-.1.2-1.3.2.7.1.5.2 2.4.1.9.2.8.2 2.1.1-1.9.2 2.2.1 2.4.2 0 .2-1 .1-1.2.2.5.1 6 .2-5.2.1-.5.2 5.6.2-1.6.1-.8.2 1.6.1-3.5.2 1.1.2-.8.1-1 .2 4.8.1-2.5.2.4.2 2 .1 1 .2 1.5.1-.5.2-3.5.2-1.7.1 5 .2-3.8.1 1.9.2 4.3.2-7.8.1 2.7.2-1.6.1 2.4.2.1.2-2.6.1 6.2.2-3.6.1-4.1.2 6 .2-1.2.1-2.7.2 3.4.1-.2.2-4.1.2 5.1.1-2.6.2-5.5.1 1 .2-1.6.1 5.7.2-4.9.2 3 .1.1.2-4.3.1 8.2.2-.9.2 0 .1-6.2.2-1 .1-1.6.2 7.6.2-2 .1-5.4.2-.7.1 7.4.2-4.2.2 1.2.1 3.7.2.4.1-2 .2 2.4.2-3 .1-.5.2 1 .1-1 .2-1.9.2 2.4.1-.9.2-3.1.1 1.5.2-.9.2-.5.1-.7.2-.3.1-1.7.2-.4.1.4.2-3.1.2 1.5.1-2.3.2-.3.1 2.1.2-1.9.2 2.1.1 0 .2-.9.1.7.2.8.2.3.1 1.2.2-.3.1 1.7.2-1 .2-.3.1 2.9.2 1.2.1-.1.2-3.4.2 2 .1 1.1.2-.3.1 1.6.2 1.2.2-2.1.1 2 .2-3.4.1 1.4.2 3 .2-4.8.1 2.9.2.7.1-2.3.2 3.8.2.4.1-.9.2-2.8.1.8.2 3 .1-2.1.2 4.6.2.8.1-4.8.2 5 .1.9.2.2.2 1.4.1-.8.2-4.2.1.8.2 3.1.2.6.1-5.1.2 1.2.1-3.3.2 4.2.2.2.1-6.9.2 5.8.1-4.9.2.2.2.2.1 3.8.2-4.2.1 3.6.2 1.7.2-2.1.1.1.2.2.1-.8.2-4 .2 2.9.1-.3.2-1.3.1 4 .2-4 .2.1.1-.8.2 1.9.1.7.2 3.7.1-6.3.2 4.8.2-3.9.1 4.4.2-3.3.1 1.7.2.1.2 1 .1.5.2-2.2.1-.3.2-1.3.2.3.1 3.2.2-4.4.1 2.2.2-1.8.2 3.2.1-2.9.2-.8.1 1.7.2 1 .2-2 .1-.4.2 1.7.1-1.3.2 4.3.2-2.8.1 1.8.2.8.1-2.2.2 1.5.2-2.6.1-2.9.2 2 .1-1 .2-.5.1.3.2 1.8.2-.7.1-.2.2-2.9.1 2.7.2 0 .2-2.4.1 3.3.2-2.5.1 2 .2-1.6.2-.2.1.6.2.1.1-2.2.2 1.3.2-2.5.1 0 .2.2.1-1.6.2 2.3.2-1.4.1-1.4.2.9.1-1.4.2-.8.2.1.1-.8.2-.5.1 1 .2-2.6.2.4.1-.7.2-.8.1-.1.2-2.6.2.2.1-2.4.2-1.6.1-1.9.2-3.3.1-5.1.2-7.6.2-10.4.1-14.6.2-18.6.1-22.2.2-24.4.2-24.1.1-20.2.2-12.4.1-2.3.2 4.9.2 10 .1 11.3.2 11.2.1 11.3.2 12.6.2 14.6.1 15.9.2 16.1.1 14.7.2 12.7.2 10.7.1 7.7.2 6.3.1 4 .2 3.6.2 1.9.1 2.3.2.4.1.7.2 1.5.2.2.1 1 .2.6.1.5.2.3.1.6.2 1.2.2-1.4.1 2.2.2-1.7.1 2.2.2.1.2-.4.1.2.2-.9.1 3.3.2-.6.2-1 .1.1.2 3.2.1-.8.2 1.1.2.1.1-2.9.2 3.6.1-.8.2-.7.2.2.1 0 .2 1.7.1-2.6.2-.8.2.6.1 2.7.2-1.2.1.3.2 2.9.2-1.8.1-2 .2 1.6.1.5.2 2.8.2-4.4.1 3 .2.2.1-3.5.2 4.1.1-3.7.2-1.3.2 4.5.1.1.2-2.4.1-1.5.2-1 .2 4.8.1-2.5.2 2.6.1-2.1.2.9.2-1.9.1-.2.2.9.1-2.9.2 1.9.2 1.2.1-2.3.2-.3.1.7.2-.3.2 2.1.1-3.3.2 3.5.1-3.7.2.3.2 1.3.1-1 .2-.2.1-1.2.2 0 .2 3.2.1.5.2-.4.1-2 .2-1.5.2.9.1.3.2-.9.1.4.2-1.1.1.5.2-.3.2-1.1.1-1.2.2-.6.1-2.4.2-3.2.2-1.4.1-3.8.2-5.2.1-5.2.2-5.6.2-7 .1-7 .2-7.3.1-6.7.2-5.8.2-4.1.1-2.1.2 1 .1.1.2 2.7.2 3.4.1 4.3.2 4.8.1 5.3.2 5.7.2 6.2.1 5.4.2 5.9.1 4.4.2 5 .2 2.6.1 3 .2 3.9.1.7.2 1.6.1 1.9.2 1.1.2-.3.1 2.8.2-2.2.1.5.2 3.5.2-1.6.1-1.3.2.2.1 1.1.2.4.2 2.4.1-2.3.2 0 .1.3.2-.6.2.4.1 2.7.2.1.1-1.4.2-2.2.2 3.9.1-1.8.2 3.3.1-.6.2-.5.2-1.3.1 2 .2 2.6.1-1.1.2-2 .2 2 .1-2.1.2.1.1 2.6.2 1.2.2-1.1.1-2.7.2-.8.1 3.5.2-3.8.1 3 .2 0 .2-5.3.1 6.6.2 0 .1-5.4.2 1.1.2 4.1.1-4.3.2 1.2.1-1.8.2 5.4.2-2.9.1 3.9.2.7.1-3 .2-1.1.2-1.8.1 5.1.2 1.3.1-6.3.2 5.4.2-4 .1 1.7.2-.5.1 1.4.2-1.5.2 3.9.1-6.2.2 3.7.1.1.2 1.6.2-2.8.1-1.5.2-1.9.1.6.2 3.2.1-5.3.2 5.8.2-.1.1-2.3.2 2.5.1-3.6.2-.4.2 3.7.1-.3.2-2.5.1 2.2.2-3.8.2-.6.1 4.6.2-2.2.1 1.6.2-1.3.2-.4.1 2.6.2.2.1-2.5.2-.8.2 0 .1 2.5.2-2.7.1.7.2-2.3.2.8.1 2.8.2.1.1 0 .2-3.6.2 1.2.1-.4.2 1 .1-2.2.2 1.5.2-2.9.1 0 .2-1.3.1-.8.2 1 .1-.6.2-2 .2-.4.1-1.9.2-1.4.1-2.8.2-2.8.2-2.6.1-4.1.2-3.6.1-4.5.2-4.9.2-4.1.1-4 .2-3 .1-2.1.2 0 .2-.2.1 1.5.2 1.7.1 2.4.2 2.7.2 3.2.1 3.3.2 3.2.1 3.9.2 4 .2 3 .1 2.8.2 2.6.1 2.8.2 2.5.2 2.5.1 1.3.2 1.3.1-1.2.2.5.2 1.2.1 1.8.2-.4.1 1.9.2-.9.1 2.1.2-1.1.2-.8.1.4.2 1.8.1-1.4.2.1.2-1.3.1 3.3.2-1.4.1-1.5.2 1.9.2 1.4.1 1 .2 1.1.1-4.1.2 2.1.2-1.6.1.5.2 1.2.1.6.2-4.3.2.4.1 4.4.2-2.8.1-2.2.2 3.2.2-.4.1-.8.2 4.2.1-.7.2-2.1.2 2.2.1.6.2-4.4.1-.9.2 1.6.1 1.7.2 2.4.2-1 .1-.3.2-1.4.1 1.9.2-2.3.2-2.2.1 1.2.2 2.3.1-.5.2 3.8.2-1.1.1.1.2-3.8.1 3.2.2-3.7.2 3.8.1-4.4.2.4.1-.6.2 3.2.2.7.1 2.6.2-4.2.1.1.2-.4.2 3.7.1-3.3.2 3.1.1-.9.2-1.4.2-.7.1 3.5.2.7.1-4.6.2 2 .2 2.3.1-4.9.2-.8.1 5.5.2-2.7.1 2.5.2 2.2.2-4.5.1 2.3.2-1.6.1 3.7.2-4.2.2.1.1 1.6.2-3.9.1 3.7.2-4.7.2 2.8.1.4.2-5.9.1 2.6.2.3.2 2.2.1-2.5.2 1.8.1-3.3.2 1.6.2 1.6.1-3.4.2.1.1-.3.2.8.2.2.1.5.2.9.1-2.5.2 1 .2-.8.1 1.7.2-.6.1.5.2-.6.1-2.6.2 1.2.2-1.9.1-.3.2-.1.1-1.9.2-.3.2-3.8.1-.5.2-3.7.1-3.1.2-4.3.2-3.6.1-4.3.2-3.4.1-3.7.2-2.3.2-1.5.1-.1.2-.1.1 1.4.2 1.6.2 2.5.1 1.8.2 2.9.1 2.2.2 3.2.2 2.6.1 3.2.2 2.9.1 2.8.2 2.9.2 2.7.1 1.8.2 0 .1 2.4.2 1 .2 2.2.1-1.7.2 2.2.1-.5.2 3.5.1-1.9.2 1.9.2-2.9.1 4.6.2-.7.1-3.1.2 3.7.2-3.8.1 2.9.2 1.7.1-3.2.2.3.2 1.2.1-4.6.2-.3.1.4.2 5.8.2-.8.1 0 .2-1.4.1 1.5.2-1.1.2 3 .1.1.2-4.6.1 2.1.2 1.6.2 1.9.1-4.8.2 5.2.1-.5.2-5 .2 3.9.1 1.8.2 0 .1-.4.2-5.8.2 6.5.1-4.2.2-2.3.1-.7.2 5.1.1-1.8.2-.4.2-2.8.1 2.9.2.5.1-2.6.2-3.2.2-.5.1 4.5.2-3.3.1-1.1.2 7 .2-6.5.1 3.8.2 3 .1-4.3.2 0 .2 1.7.1.1.2-1.9.1 4.1.2 3.8.2-.7.1-1.7.2-3.8.1 5.2.2-7.5.2 4.3.1 1.4.2 1 .1 1.1.2-2.9.2-.4.1 1.4.2 1 .1-6.9.2 5.7.1-.1.2-2.9.2 3.4.1-.2.2-6.6.1 7.6.2-4.4.2-3.2.1 2.3.2 5.5.1-5.8.2 5.4.2-4 .1-2.1.2 4.7.1-5.4.2 3.7.2-5.9.1 1 .2 3 .1-2.4.2-2.8.2 3.3.1 2.5.2 1 .1 1.2.2-6.7.2 6.7.1-2.3.2 2.7.1-3 .2.6.2 4.8.1-2.1.2-.5.1 1.9.2-4.2.2 4.5.1-1.7.2.8.1.9.2-2.8.1-.2.2.7.2-2 .1 2.1.2-4 .1-1.8.2.4.2 6 .1-5.4.2-1.3.1 3 .2 2.1.2 1.8.1-5.7.2 3.6.1 3.2.2-2.9.2-1.7.1 6.1.2-5.1.1-2.1.2 3.2.2 1.1.1.8.2-.7.1.3.2-2.8.2 1.9.1.6.2 0 .1-.9.2-4.8.2 4 .1.7.2 1.5.1-.7.2-7.8.1 9.2.2-4.8.2 1.6.1-3.4.2 2.9.1-1.7.2 2.7.2-.8.1-.2.2 1.6.1 4.8.2-3.6.2-1.8.1-2.1.2 2.3.1 6.1.2-.2.2-.6.1-.1.2.5.1-8 .2 8.4.2-.3.1-6.5.2 6.6.1-2.8.2-4.6.2 5.6.1-8.1.2 4.6.1-2.1.2.9.2 2.9.1-3.5.2 2.3.1-5.7.2 8 .2-4.5.1-2.6.2 1.5.1 7.4.2-7.9.1 9.3.2-1 .2-3.9.1 5.5.2-7.4.1 6 .2-4.7.2 3.9.1-6.9.2 6.2.1-2.3.2 2.2.2-3.3.1 1.9.2-4.6.1 4.1.2.2.2-8.5.1 5.6.2-4.2.1 5.4.2 0 .2-2.9.1-3.5.2 4.5.1-.5.2-4.6.2 2.1.1-1.6.2 4.5.1-1.1.2 2.2.2 1.7.1 4 .2 1.3.1-4.6.2-.2.2 4.3.1.2.2-1.9.1 3.3.2-5.7.1 5.8.2-3.9.2 1.2.1-5.1.2-2.8.1 5.2.2-3.5.2.4.1 2.6.2-3.3.1 3.4.2-4.6.2 2.5.1-.8.2-1.4.1 3.8.2-.4.2 1.4.1-.9.2-2.6.1-1.1.2 2.5.2-.8.1-3.1.2 1.4.1-3.8.2.4.2.3.1 1.2.2 4.5.1.9.2 1.3.2-2.6.1 2.4.2-.3.1-4 .2 1.5.1 6 .2-8.3.2.3.1 4.5.2-.6.1.9.2-2.3.2 2.8.1-3.3.2 1 .1 2 .2 2.3.2-6.2.1 2.5.2.3.1-2.7.2 8.3.2-1.4.1-3.1.2-.9.1-.6.2 1.7.2-1.7.1 1.6.2-.5.1-.2.2 1.9.2-1 .1-6.5.2-.6.1 4.4.2-1.8.2-5 .1 2.4.2-1.5.1 2.8.2-3.4.2 6.2.1-.9.2-8.8.1 5.9.2 1.9.1-5.7.2 6.1.2-7.3.1.2.2.3.1 2.3.2 3.2.2 2.1.1-6.1.2.2.1 1.2.2 7.3.2 1 .1-2.1.2-6.5.1.3.2 2.2.2 1.9.1 0 .2-.5.1-4.9.2 5.9.2-.7.1-4.2.2-.1.1-2.1.2 1.8.2-.2.1 2.7.2 1.8.1 3.6.2-4.3.2-.6.1 5.9.2-6.3.1 1.5.2 4.6.1.2.2-1.2.2-2 .1-1.6.2-1 .1 5.4.2-.5.2-.8.1.2.2 3 .1.8.2-5.4.2-1.2.1-.2.2.1.1 7.3.2-4.7.2-2.8.1-.1.2 3.7.1-2.2.2 1.8.2 1.8.1-6.5.2 5 .1-6.6.2-.2.2 6.9.1-2.3.2.3.1 2 .2-3.7.2.4.1-2 .2 3.5.1 1.2.2.7.2-2.1.1-1.3.2 1.9.1-2.1.2-.2.1.8.2-1.1.2 7.9.1-7.8.2 1.5.1 5.6.2-6.6.2 3.1.1 2.1.2-4.6.1 2.6.2-.6.2-5.1.1 6.5.2-2.3.1-4.8.2 6.3.2-.6.1.9.2-2.6.1 1.2.2-5.5.2 7.1.1-6.9.2 3.9.1-1.1.2 2.7.2 3.7.1 0 .2-6.3.1 4.9.2.4.2-7.1.1 8 .2-3.1.1-.1.2-2.9.2 2.5.1-1 .2-4.2.1 1 .2 6.7.1-6.3.2 5.7.2-4 .1 1.6.2-6.4.1.2.2-.2.2 5.2.1-2.9.2-2.3.1 6.5.2-4.4.2 2.2.1.7.2-.4.1-.8.2-3.9.2 2.1.1 4.9.2-.3.1 2.7.2-8.9.2 1.9.1-.7.2 6.4.1-1.3.2 1.5.2-5.3.1 6 .2-7.5.1.8.2 1.8.2 4.3.1-.4.2-4.7.1-.1.2 6.4.1-3.2.2-3.5.2-1 .1 1.1.2-.2.1 6.6.2-6.4.2 6.6.1-4.3.2 1.4.1-5.3.2 1.1.2.4.1-1 .2 3.8.1-2.5.2.6.2 1.4.1 3.7.2 2.7.1-6.8.2 7.1.2-3.9.1-4.7.2 1.5.1 5.4.2-7.2.2 1.7.1-.2.2-1.8.1 4.7.2-1.7.2-3.4.1 6.6.2-2.3.1 1.7.2.8.2-5.4.1.4.2 1.8.1-5.1.2 7.3.1.4.2-1.1.2-2.6.1 3.1.2-1.4.1 1.6.2-1.9.2-2.1.1.6.2 2.9.1-5.3.2 7.4.2.8.1 0 .2-3.1.1-4.8.2 8.4.2-6.2.1-2 .2 4.4.1 4.1.2-2.8.2-3.5.1-1.2.2 4.1.1-2 .2-1.8.2 1.1.1 5 .2-2.5.1-2.1.2-2.9.2 1.9.1-3.7.2 5.8.1-.7.2-4 .1 1.3.2.3.2-1.7.1 5.8.2-5.6.1 4.9.2 1 .2-4.9.1-3.3.2 5.8.1-2 .2.6.2 4.1.1-7.9.2 7.7.1-4.3.2-2.2.2.4.1.4.2 2.3.1 4.2.2-2.2.2-1.2.1 3.4.2-3.2.1-2.6.2 1.8.2 6.1.1-1.5.2-2.1.1 4.2.2-7 .2 6.7.1-.1.2-5.8.1.7.2-2.2.2-2.3.1 1.2.2 5.5.1-8.1.2 1.5.1.4.2-3.1.2.6.1.6.2 2.8.1 2.5.2-5.3.2 2.4.1 1.2.2-.5.1 3.9.2 2.5.2-5.4.1 1.5.2-2.1.1.4.2 5.9.2-3.3.1.6.2 6.8.1-5.3.2 1 .2-2.1.1 4.5.2-6.4.1.3.2 1.9.2 3.6.1-5.7.2 3.5.1-3.9.2 1.7.2-5.4.1 6.2.2-2.2.1-2.5.2 3.5.2-6.3.1.8.2 4.7.1 1.3.2.8.1-3.7.2 2.8.2-1.2.1-2.2.2 7 .1-5 .2 4.8.2-6 .1 1.2.2-1.5.1 2.8.2-2.4.2 4.6.1 1.5.2 3 .1-1 .2 1.1.2-2.3.1 1.9.2-4.1.1 3.1.2-3.3.2 2.7.1-2.4.2 1.2.1-.1.2.2.2-5.2.1-.4.2 6.4.1-7.4.2 4.2.2-2.6.1-.1.2 2.6.1-2.8.2-.1.1 5.4.2 2.3.2-1 .1.3.2-4.9.1 3.3.2-7.4.2 1.1.1 1.2.2.8.1-.2.2 3.4.2-1.1.1-6.6.2 8.4.1-4.7.2 4.3.2-6.5.1 8.3.2-4.5.1 2.5.2-.3.2-3.2.1-.8.2-2 .1-.4.2 5.5.2-2 .1.5.2 2.1.1-8 .2 1.3.2 6.3.1 1 .2-3.3.1 4 .2.5.2.6.1-1.4.2 1.5.1-1.7.2-5.1.1 0 .2 2.9.2 1 .1-5.2.2 8.2.1-7.2.2 5.3.2-6.8.1-1.4.2 2.6.1 5.7.2-8 .2-1.8.1 4.2.2 4.1.1-2.4.2-2.5.2-2.1.1 5.2.2-.9.1 5 .2-3 .2-3 .1 6.2.2 1.8.1-.2.2-2.7.2 4.3.1-4.1.2-1.7.1-.6.2-1.2.2 7.6.1-2 .2 1.2.1-3.4.2-3 .1 1.1.2-1.8.2-2.4.1 1.8.2-2.6.1 6.2.2-5.9.2 2.3.1 1.2.2 1.8.1-3.5.2 5 .2-5.1.1 7.3.2.3.1-7.5.2 4.5.2-2.6.1-.3.2 1.2.1 2.9.2 2 .2 0 .1-4.4.2-1.4.1 3.5.2 1.5.2-2 .1 2 .2-8.2.1 1.7.2-1.6.2 7.2.1-5.4.2 2.6.1-1.8.2.1.2-1.9.1-2.4.2 3 .1-3.6.2 1.7.1-2.4.2 3.2.2.5.1 5.9.2-.1.1-2.1.2-.4.2 2.6.1.7.2-1.5.1-.7.2-3.2.2.4.1-3.3.2-1 .1-.6.2-1.4.2-3.4.1-1.5.2-1.8.1-1.5.2-2.7.2-.6.1 0 .2-.4.1.8.2.8.2 2.4.1.9.2 2.7.1 1 .2 1.3.2 3.2.1 1.6.2 2.4.1-3.2.2.5.2 4.9.1-5.6.2 2.5.1.1.2-1.4.1-.5.2 4.6.2-2.9.1 5.5.2-3.8.1-2.7.2.7.2 1.1.1 3.2.2-2.1.1-4.5.2 5.7.2-4.6.1-1 .2 5.3.1-2.8.2.2.2 4 .1-7.6.2 2.7.1-1 .2-1.5.2 6.3.1-.5.2-2.9.1-1.1.2 2 .2-3.2.1 5.4.2-7 .1 5.3.2-1.4.2-2.7.1-1.3.2 2.8.1 2.1.2-1.9.1 3.4.2-5.6.2 4.1.1 3.1.2-4.5.1 2.6.2 3.7.2.6.1.8.2-2.8.1 2.1.2-2.9.2 0 .1-.7.2 7.2.1-9.1.2 7.1.2-4.8.1.1.2 3.9.1-3.7.2 0 .2.7.1-2.1.2 1.9.1 3.2.2-7.1.2 1.7.1-1.5.2-.6.1 6.4.2-2.9.2 2.9.1-2.7.2-6.2.1-.3.2 3.8.2-3 .1-2 .2 1 .1-1.6.2 6 .1-4.4.2-2.9.2 1.1.1 2.6.2 3.7.1.6.2-1.8.2-2.1.1-1.3.2-.6.1 7.1.2-1.6.2-1.7.1-.2.2 1.5.1-1.3.2-4.1.2 4.6.1-.9.2-3.4.1 1.3.2 4.7.2-3.7.1-.2.2-2.7.1-.2.2 4.9.2.5.1-2.3.2.4.1 0 .2-1.5.2-2.1.1 3.3.2-.2.1 2.2.2-1.5.1-3.4.2.7.2 6.8.1-3.6.2 3.4.1-6.1.2 1.6.2 2.9.1-1.2.2 1.3.1 2 .2.3.2-1.5.1-1.8.2.5.1-1.5.2 1.2.2-.4.1-2.9.2.3.1-1.2.2-.1.2-2.7.1 1.4.2-1.9.1.7.2-1.7.2-.2.1-1 .2.7.1-.8.2-.2.2.7.1-.5.2.2.1 1.4.2.8.2-.1.1 1.8.2-1.3.1 1 .2 1.3.1.8.2 1 .2.3.1-.1.2 2.6.1-2.7.2-1.5.2 3.1.1-1.9.2-.3.1 1.6.2 4.7.2-3.9.1 3.1.2 1.1.1-1.9.2 3.4.2.2.1-3.6.2 1.2.1-1.5.2 4.6.2-7.2.1 5.5.2 1.3.1-.6.2-3.4.2 2.4.1.5.2-5.4.1 1.6.2-2.9.2 1.3.1 2.1.2 3.4.1-1.1.2 3.3.2-3 .1 5.2.2.5.1-5.6.2 3 .1 1.4.2-.4.2-2 .1-6.1.2 4 .1 1.8.2-5 .2-1.1.1 3 .2-3 .1 4.8.2-2.1.2-2 .1.7.2-1.6.1 4.4.2-1.8.2.8.1-2 .2-4.3.1 0 .2 4.5.2-3.6.1 8.5.2-4.2.1 1.1.2-2.7.2 4.9.1-1.6.2-3 .1 2.4.2-3.3.2 6.4.1-3.9.2 2.2.1-2.9.2-.5.1-2.6.2 5.9.2-1 .1-2.2.2 6.8.1-3.4.2 2.3.2-4.7.1-.3.2 5.7.1-3.4.2-.4.2 7.2.1-4 .2-.7.1-3.3.2 5.3.2-.9.1-3.9.2 4.3.1-.3.2.8.2-1.9.1-3.4.2 3.8.1-6.3.2 6.5.2-2.5.1-4.6.2 5.4.1-1 .2-7.7.2 3 .1-3.1.2-.2.1 8 .2.9.2-2.8.1.7.2-.7.1.3.2-.7.1-1.7.2-.9.2-2.8.1 1.7.2-.4.1 3.2.2 1.7.2-.3.1-2.7.2 1.3.1-5.3.2.8.2 7.3.1-3.3.2.8.1-.5.2 3.8.2-3.8.1 3.4.2-.2.1-.2.2-1.3.2-.8.1-.9.2 6.1.1-7.1.2 1 .2.8.1-3.5.2 6.6.1-3.4.2-1.2.2-.4.1 1.7.2-1 .1-2.9.2 2.4.1-1.4.2 2.9.2.8.1-5 .2-.7.1 2.9.2 5.4.2-7.5.1 6.5.2 2.3.1-8.3.2.7.2 5.8.1-1.1.2-4.3.1 2.4.2 4.5.2-8.4.1 5.7.2-.6.1 1.5.2-3.9.2-2.5.1 1.6.2.1.1 4.6.2-1.3.2-5.6.1 5.8.2-1.6.1-3 .2-1.6.2 3.1.1-3.1.2-.4.1 1.2.2.8.2-.9.1-.5.2 3 .1-.8.2-2.9.1 1 .2 0 .2.4.1-1.7.2.6.1-.8.2-1.5.2.2.1-.9.2-1.8.1-.8.2-.1.2 1.6.1-1.6.2 1.1.1.4.2.1.2 2 .1.3.2-1.1.1 0 .2 1.4.2.1.1 1.6.2-.8.1 1.5.2 0 .2.7.1.8.2 2.9.1-4.4.2-.5.2 1.9.1 3.1.2.8.1-1.3.2 2.5.2.5.1-5.6.2 5.5.1.2.2-5.9.1 4.2.2-.6.2 1.3.1-4 .2 5.1.1-6.6.2 2.9.2 5.3.1.3.2-5.3.1 6.1.2-4.5.2 2.2.1 1.6.2-2.8.1-2.8.2 3.2.2-1.8.1-.4.2 3.2.1 1 .2-.6.2 2.7.1.1.2-2.3.1 2.1.2-8.1.2 8.5.1-4.3.2 3.6.1 2 .2-4.5.2.9.1-4.2.2 2.9.1-2.2.2 4.6.1-3.8.2 4.3.2-5 .1 6 .2-7.1.1 4.5.2.8.2-5.5.1 6.5.2-7.9.1 6.6.2-2.2.2-4.3.1 3.2.2 4 .1 0 .2-4.5.2-1.5.1 1.9.2 7.2.1-6.4.2 4.3.2 1.6.1-3.3.2.6.1 1.3.2.9.2-.1.1.9.2-5.2.1-1.9.2.7.2.2.1.5.2-2.3.1-.5.2 5.2.2-3.4.1-.2.2 1.9.1-7.1.2 3.8.1-1.4.2 1.2.2-5.5.1 6.8.2-4.4.1 2.8.2-2.8.2 5.2.1-4.6.2-2.4.1 1.3.2 4.4.2 1.4.1-3.8.2-2.1.1 2.8.2 2 .2-1.4.1 2.9.2-3.8.1.1.2 3.3.2-6.3.1-.2.2 1.3.1 6 .2-1.3.2-.4.1-3.5.2 2.1.1-2.3.2-1.3.2 1.4.1-1.1.2 6.4.1-5.6.2 5.8.1 1.1.2-4.6.2 5.7.1-7.4.2 6.5.1-3.5.2 1 .2-1 .1-1.7.2 4.1.1-1.9.2-4.6.2 4.1.1-1.7.2 2.4.1-.5.2-2.8.2.9.1-3.5.2.9.1-.2.2 5 .2-4.1.1-.3.2-.1.1-.5.2-2.7.2 2.7.1-2.2.2 6 .1 1.2.2-4.5.2 1.4.1-2.1.2 5.9.1-3.7.2 3.8.2-1.4.1 0 .2 3 .1-2.5.2 1.8.1.8.2-6.3.2 1.9.1-1.7.2 3.1.1-3.9.2 7 .2-.2.1-4.2.2 3.7.1-6.2.2 8.3.2-2.7.1 2.1.2-1.7.1-1.4.2-.6.2 6.5.1-1.7.2 2.6.1-3.3.2 1.5.2-5.7.1 6.8.2-5.3.1 2.9.2-2 .2 2.4.1-1.2.2-5.1.1 4 .2 4.7.2-5.2.1.4.2 4.1.1 0 .2-7 .2 4.7.1 1.2.2-6.2.1 6.4.2-2.3.1-3.5.2 6.6.2-3.9.1-2.8.2-.4.1 5.5.2-2.1.2-5.6.1 4.8.2-2.4.1.8.2.7.2-7.2.1 5.8.2-4.8.1 4.4.2-.2.2-6.1.1 4 .2-2.3.1-2.6.2 3.8.2-2.9.1 2.5.2-1.8.1 2.9.2 2.7.2-4.5.1 4.3.2-2.5.1 5.3.2-1.2.2-2.2.1 3.7.2-.1.1-4.3.2 4.2.1 1.4.2.6.2.9.1-2.1.2-3.8.1 2 .2-3.4.2 7.5.1-.9.2.6.1-9 .2 1.7.2 5.9.1-5.7.2 4.6.1-6.5.2 5.3.2.3.1-5.6.2.8.1 2 .2-1.2.2 1 .1 2.2.2-5.2.1-.2.2 3.3.2 2.9.1 1.5.2-2.4.1-5.5.2.9.2 3.4.1-3.6.2-.4.1 4.9.2-5.1.2 3.6.1 3.1.2-6 .1 7.5.2-4.4.1-2.6.2 1.1.2.3.1 6.3.2.6.1-3.1.2-2.2.2 3.9.1-2.4.2-.8.1 1.7.2 0 .2.6.1-2.1.2-3.6.1 6 .2-7.3.2 7.7.1-6.2.2 4.2.1 1.9.2-.6.2-3.4.1-2.4.2 7.5.1-6 .2 5.8.2-7.3.1 5.7.2.9.1-5.1.2 7 .2-.6.1-6.2.2-1.3.1 6 .2-5 .1 2.4.2-.5.2-.2.1-.9.2 1.6.1-2.7.2 5.9.2-7 .1-.1.2-.1.1 3 .2-1.7.2-3.1.1 6.8.2-1.2.1 1 .2-.9.2-4.2.1-2 .2 4.1.1 3.3.2-.3.2-4.7.1 1.1.2-.6.1-1.5.2 5.1.2-3.8.1-1.3.2-.5.1 3.1.2.5.2-1 .1-3.1.2.3.1 1.4.2-3.1.2.7.1-1.1.2-1.4.1 1.4.2-.4.1-1.1.2-1.6.2-.4.1 0 .2 1 .1.3.2-1.1.2 1.1.1 1 .2-1.3.1 2 .2.4.2-.6.1 2.1.2-.2.1 1.9.2 1 .2 1.5.1-1.4.2 0 .1 3.7.2-.7.2-1.8.1 3.9.2-.6.1-1.9.2-1 .2 1.2.1-2.8.2 6.8.1-6.5.2 2.7.2-.2.1 3.1.2-.3.1-1 .2 3.7.2-5.1.1-2.8.2 3.5.1-3 .2 4.7.1-5.1.2-.5.2 3.6.1 3.2.2-1.4.1.8.2-6 .2 5 .1-7.6.2 2.3.1 1.4.2-.5.2-4.9.1 7 .2-6 .1-1.3.2 5.4.2-1 .1-.2.2 1.7.1 3.3.2-1.5.2-1.2.1-2.8.2 6.2.1-5.7.2 4.1.2-2.5.1 2.6.2-3.3.1 3 .2-3 .2 4.5.1 0 .2.1.1-4.4.2 3.1.1-5.3.2 5.2.2 2.7.1-4 .2 1.5.1.5.2 1.3.2 3.2.1-.7.2-6.3.1 2.4.2-1.5.2.3.1-2.4.2 3.9.1 2.2.2-6.1.2 1.7.1-3.2.2 4.2.1.1.2-2.8.2-.1.1.1.2-2.5.1-1.6.2.8.2 1.1.1-1.7.2-1.8.1.2.2-1 .2 1 .1-1.8.2-1.3.1-.4.2 1.8.2-1 .1 0 .2.9.1-.5.2 1.4.1-.8.2.1.2.4.1 2.1.2 0 .1-.6.2 2.6.2 1.2.1.2.2 2.2.1-3.2.2 4.2.2-3.3.1 4.1.2-.6.1 1.5.2-1.3.2-3.3.1.6.2 3.2.1 1.6.2-5 .2 4.2.1 1.6.2-1.8.1-.7.2 3.5.2 0 .1-6.2.2 5.1.1-.6.2-2.4.2 1.3.1 2.3.2-3.7.1-.5.2 6.4.1-6 .2 5.4.2.1.1 2 .2-1 .1.8.2-2.4.2 1.3.1-1 .2 2.3.1-4.1.2 4.9.2-6.8.1.4.2 6.5.1-.7.2-2.6.2.2.1.7.2-1.5.1-5.6.2-.3.2 1 .1-.9.2 3.4.1-1.3.2 1.6.2-3.5.1-1.3.2 5.8.1-7.2.2 4.8.2-4.3.1 7.5.2-2.6.1 1.6.2-5.6.2 7.5.1-3.1.2-.2.1-2.8.2 4.6.1-5 .2 1.5.2.1.1 2.5.2 2.8.1-2.8.2 1 .2-1.1.1-4.3.2 5.9.1-.1.2-5.2.2-.6.1 1.7.2 3.4.1-5.8.2 4 .2-1 .1 4.7.2-6.8.1 6 .2-.2.2-.4.1-2 .2.8.1-.3.2-3.3.2 4.7.1-1.8.2-2.8.1.7.2-1.4.2 4.4.1.4.2 2.8.1-1.9.2-4 .2 7 .1-1.2.2-.6.1-2.5.2-.4.1 4.8.2-1.7.2-2.4.1-3.7.2 2.3.1 3 .2-2.1.2 1.1.1-2 .2-.9.1-1.6.2 3.9.2-6.6.1 3.4.2 2.4.1-4.8.2 3.9.2-4.6.1 2.4.2 2.5.1-1.1.2-2.2.2-2 .1-2.6.2-2.3.1-4 .2-5.5.2-4.1.1-5.8.2-5.5.1-5.8.2-4.8.2-3.8.1-2.2.2-.7.1 1.1.2 2.3.1 3.4.2 3.7.2 3.4.1 2.7.2 2.6.1 1.6.2 1.1.2-.3.1.4.2.3.1.8.2 1.8.2 2.1.1 2.3.2 2.4.1 3.5.2 2.7.2 2.9.1 1.5.2 1.8.1.6.2 1.2.2 3.1.1-.9.2 2.7.1.4.2.9.2-1.4.1 3.8.2-3.7.1 4.4.2-.3.2-2.8.1 1.6.2 1.1.1-6.8.2 1.2.2-.6.1-.9.2 2 .1-1.2.2-.8.1.5.2.6.2-.9.1 6.4.2-2.2.1 3.6.2-4.8.2-2.4.1 7.9.2-7.2.1 8 .2-2.9.2.4.1 3.4.2-6.1.1 4.1.2-3.9.2 2.2.1-1.3.2-.4.1.5.2-.3.2 2.6.1-4.4.2 1.1.1-4.4.2 1.8.2 4.7.1-6.9.2.9.1-.6.2 5.4.2-.4.1-2.2.2-3.4.1 5.1.2-3.6.1-.8.2 6 .2-3.7.1 5.2.2-6.1.1 5.4.2-2.2.2-1.8.1-2.6.2 4.6.1-3.6.2-1.3.2 3.2.1-4.2.2 3.2.1 3.8.2-3.1.2 2.8.1-1.7.2-1.2.1 2.7.2-1.2.2 2.8.1.9.2-2.5.1-.3.2-1.8.2 1.7.1-1.5.2-1.2.1 1.7.2-.5.2-3.6.1-1.4.2.1.1.8.2-1.4.2-.9.1.5.2.4.1-.5.2-2.6.1.7.2-.9.2-.4.1.2.2.3.1.4.2.3.2 1.5.1.1.2-.3.1-1.3.2 2 .2-.1.1 1.4.2 1.3.1-.1.2 1.3.2-2.7.1.9.2 3.4.1.4.2-3.4.2-.2.1 2.8.2-2.4.1 0 .2-.1.2 6.6.1-2.9.2.8.1-1.5.2 2.5.2-4 .1 1.2.2.1.1-.1.2 2.6.2-1.7.1 2.7.2-1.2.1.1.2 4 .1.5.2-5.4.2 6.5.1-5.7.2 3.7.1.2.2-5.8.2-.3.1 4 .2-1.3.1-3.3.2-2.8.2-.1.1-.2.2 2.3.1.1.2 2.4.2 1.6.1-2.7.2 2.1.1 5.3.2-5.9.2 3.9.1-2.4.2 6.4.1-6.4.2-1.4.2 3.8.1.7.2.8.1-2.5.2-4.1.2 3.9.1-3.8.2-1.9.1 2.4.2-.3.1-.2.2-4 .2 3.2.1 3.1.2-5.4.1 6.4.2-3.8.2.5.1 4.6.2 1.3.1.1.2-.1.2-4.5.1 1 .2 2.7.1.3.2 1.2.2-4 .1-2.3.2-.7.1 6.5.2-4.2.2-2.2.1-1.5.2 5.8.1.9.2-6.6.2 5.3.1-.9.2-4.8.1-2 .2 7.1.2-1.2.1.8.2.3.1-1.4.2 2.9.2.7.1-5.7.2 2 .1-.8.2-1.5.1 3.2.2-1.2.2 1.9.1 2.4.2-4.8.1-3.6.2 4.8.2 1.9.1-.3.2-2.4.1-3.6.2.2.2-1 .1 8.6.2-5.1.1.6.2 3.3.2-5.6.1 6.4.2-3.9.1-2 .2-1.2.2 7 .1-2.1.2 1.5.1-6.3.2 2.5.2 2.4.1-3.2.2 5.5.1-4.1.2 2.4.2-2.2.1-3.9.2 7 .1-.8.2 0 .1.5.2-5.3.2-1 .1 4.5.2 2.8.1-1.2.2-2.8.2.5.1 1 .2-2.6.1 2.2.2-.5.2 2.8.1 2.4.2-.3.1-5.9.2 4.7.2 1.7.1-5.6.2 2.6.1-1.1.2 3.5.2-4.8.1 4.3.2-8 .1 6.5.2.6.2-4.1.1-1.3.2-1.8.1 5 .2 2.1.2-4.5.1.8.2 3.3.1-3.8.2 3.3.2-1.6.1-1.4.2-.4.1 1 .2 1.1.1 3.5.2-4.5.2 4.1.1-.9.2 2.9.1-4.9.2 2.8.2 1.3.1 1.2.2-3.4.1-2 .2-2.3.2 2.8.1-2.8.2 3.9.1.5.2-5.8.2.9.1-2.4.2 1.9.1-1.2.2-3.1.2 4 .1-1.6.2-.2.1-.8.2-.1.2-1.3.1 6 .2-2.8.1 2.4.2-.4.2 1.7.1-.2.2-4 .1 2.3.2 2.6.2 1.5.1-2.8.2-3.1.1 3.5.2 3.8.1-2.6.2 2.2.2 3 .1-5.5.2-1.7.1 2.3.2-.9.2-.8.1 5.3.2-1.7.1-6.1.2 5.8.2-5.3.1 4.2.2-2.7.1-.7.2.4.2-1.7.1 3.8.2-3.4.1 1.9.2 2.1.2-.4.1-2.1.2 4.3.1.9.2-.9.2-7.7.1 1.2.2 3.1.1 2.5.2-6 .2-1.8.1 3.2.2-2 .1 3.4.2 3.1.1-3.4.2-1.7.2 5.3.1 1.9.2-3.1.1-.6.2 2.5.2-5.6.1 7.4.2-3.5.1-1.6.2 2.4.2-6.3.1 6.3.2-5.3.1 2.9.2-3.6.2 3.5.1-2.8.2 4.5.1-2.8.2 0 .2 1 .1 2.1.2 2 .1-3.1.2 2.8.2-6.9.1 3.8.2 2.2.1-4.3.2 3.9.2-1.7.1.5.2-2.9.1 1.5.2-3.9.2 4.6.1-4.2.2 4.1.1.5.2-4.2.1.9.2-1.4.2.5.1 8.7.2-6.3.1 3.5.2.9.2-.1.1-3.9.2-2.1.1 6.4.2-4.8.2 3.9.1-4.1.2-2.9.1 2.7.2 1 .2.8.1-6 .2 2.9.1 1.5.2-1.5.2-1 .1-.1.2 6.6.1-.6.2-4.3.2 4.5.1-5.9.2 4.3.1 2.1.2-6.1.2 5.5.1-4 .2 1.5.1 3.9.2.9.1.2.2-6.7.2-1.1.1 2.4.2 2 .1-.1.2 2.8.2-6 .1 3.8.2-3.3.1-1.8.2 5.1.2-.6.1.9.2-5.2.1 7 .2-3.9.2-.9.1 5.6.2-2.8.1-3.7.2 2.8.2 1.2.1 1.5.2 1.2.1-2.1.2-4.9.2 1.9.1 2.7.2-1.6.1 3.2.2-2.2.2-3.9.1 2.6.2-.6.1-2.7.2 4.6.2-3.9.1-1 .2 6.7.1-5.4.2.2.1 7.2.2-4.5.2-.5.1 2 .2-3.3.1 2.2.2 3.3.2.7.1-5.4.2.7.1 5.8.2-1.2.2-5.2.1 2.6.2-1.4.1.2.2-6.3.2 3.4.1.9.2-2.3.1-.7.2-3.1.2 7 .1-1.8.2 1.1.1.3.2 2 .2-1.8.1 5.9.2-4.7.1 6.9.2-3.9.2-1.5.1-.9.2-1.1.1-.1.2 7 .2-5.4.1 4.9.2-3.2.1 1.3.2.3.1-1.8.2-1 .2-2.1.1-.9.2 5.5.1-7.6.2 5.1.2-2.4.1 3.3.2-.8.1-.5.2-3.3.2-2.3.1 3.5.2-2.8.1 6.4.2.5.2-2.8.1-1.4.2 1.6.1-5.2.2 5 .2-.6.1-3.5.2 3.6.1 2.6.2-7.5.2 4.4.1.2.2-3.3.1 5.5.2-1.3.2-3.7.1 7 .2-6.5.1 3.7.2-1.6.1-2 .2-.9.2 5.5.1-6 .2 6.4.1-2.6.2 1.4.2-4 .1 3.6.2 3 .1-5.9.2 4.1.2 1.6.1-7.5.2.1.1 7.6.2-4.2.2-4.9.1 5.6.2-4.9.1 3.5.2-1.6.2-1.2.1-.2.2.3.1-8.1.2 6.9.2-5.5.1 4 .2-.1.1-1.5.2 2.3.2-.6.1-4.2.2 6.5.1-.2.2.3.2-3.7.1.4.2 6.1.1-5.6.2 3.3.1.8.2.5.2.9.1 1.5.2-2.5.1-3.3.2 1.2.2 5.3.1-4.5.2 1.2.1 3.2.2-5.9.2 4 .1.2.2-4.6.1 6.1.2-2.6.2-1.6.1-.8.2-2.5.1 3.5.2 3 .2.5.1-6.9.2 5.2.1-4.2.2 4.3.2 2.3.1-2.5.2 2.3.1-4 .2 1 .2.7.1 5.9.2-.4.1-.9.2-1 .1 2.2.2-6.9.2.6.1 2.9.2 4.5.1-2.1.2-3.6.2 4.5.1-6.9.2.6.1 2.4.2 4.3.2-3.3.1-2.4.2 3.8.1-.2.2-3.4.2 5.5.1-2.1.2-2.6.1 4.3.2-1.6.2-5.7.1 3.7.2-5.4.1 4.1.2 3.4.2-4.7.1 4.2.2-1.8.1-3.2.2 5.8.2-3.8.1 1 .2 3 .1-5.4.2.3.2-1.5.1 1 .2 7.1.1-5.9.2-2.4.1 4.9.2-2.6.2 5.9.1-1.3.2-1.4.1 1.2.2 1.7.2-6.8.1 3.9.2.3.1.6.2-1 .2 2 .1-4.6.2-2.6.1 1.8.2 5.1.2-3.4.1-3.2.2 4.8.1-2.1.2-1.5.2 7.1.1-2.3.2-1 .1 1.4.2 1.4.2-3.6.1 5.8.2-2.2.1 1.8.2-6.6.2 1.9.1 4.2.2.8.1-.3.2-.6.2-8.3.1 1.6.2.9.1-1.3.2 5.9.1-6.4.2 6.2.2-.4.1-4.5.2 3.7.1-1.8.2 2.2.2-1.3.1-.9.2-2.5.1-1.9.2.3.2-.5.1 3.3.2-4.1.1 1.9.2 2.4.2.2.1-1.5.2-1.7.1-2 .2 4 .2-3.9.1 1.4.2 3.5.1-.5.2-5.1.2 6.1.1-1.3.2-6.5.1 5.9.2.5.2-3.1.1 3.2.2-5.8.1 1.8.2.1.1 2.7.2-2.9.2-.3.1 4.9.2 0 .1.4.2 0 .2-3.1.1 1.6.2-.1.1-2.3.2-1.3.2-1.4.1-2.9.2 6.7.1-2.6.2 1 .2.3.1-4.1.2 7.9.1-2.3.2.6.2-4.4.1 5.9.2.3.1-1.4.2-.7.2 4.4.1-2 .2-1.3.1-.8.2 3.3.2-3 .1-2 .2.1.1 2.3.2 2.8.2-3.8.1 3 .2-3.5.1 2.1.2-1.8.1 1.8.2-2.7.2 1.3.1 2.8.2-1.6.1-.6.2 3.4.2-2.5.1-2.3.2 3.1.1 2.2.2-2.9.2 1 .1 2.4.2-4.3.1 4.9.2-5 .2 1.4.1-.4.2-1.2.1 4 .2-1.4.2-1.1.1-2.7.2 1.2.1 3 .2-4.9.2 1.9.1-2.8.2 1.8.1-.5.2 2.4.2-5.8.1 6.3.2-3.5.1 3.6.2-3.5.1.8.2 4.9.2-1.8.1-1.4.2 1.4.1-1 .2-2.3.2 2.4.1 1.8.2-5.1.1 6.3.2-5.3.2 4.2.1-3.2.2 2.7.1-.6.2-4.7.2.6.1 2.5.2-4.9.1 3.3.2-2.3.2-1.7.1 2.3.2-1.5.1 1.5.2.6.2 4.7.1 1.1.2-3.9.1-.5.2-1 .2 3 .1 2.9.2-6.1.1.3.2 2.5.2-1.1.1-.3.2 4.4.1-3.2.2-2 .1 1.9.2-.7.2-1.4.1 6.1.2-5.7.1-1.8.2 1.8.2-.4.1 2.7.2-2.2.1-3.5.2 1.7.2.7.1-2.8.2 7.3.1-.7.2-2.4.2 1.7.1-3 .2 1 .1-3 .2 4.1.2.5.1-2.8.2 3.3.1-1.4.2-.1.2 3 .1-6.2.2 1.1.1 1.1.2 1.6.2 2.7.1-3.1.2-2.9.1 3.1.2-1.8.2-2.9.1 2.1.2 0 .1 2.5.2-2 .1 1.4.2-1 .2.6.1 1.9.2-3.8.1 3.5.2.9.2-2.7.1 1.2.2-2.8.1-.5.2-.4.2-2.3.1-.7.2-2.2.1-3.5.2-8 .2-10.9.1-16 .2-21.2.1-26.7.2-30.3.2-30.8.1-26.8.2-17.6.1-4.3.2 10.2.2 22 .1 28.7.2 30.3.1 27.9.2 22.6.2 16 .1 9.4.2 2.3.1-3.7.2-8.7.1-12.1.2-14.3.2-13.8.1-10.7.2-5 .1 2.1.2 8.9.2 13.5.1 15.5.2 15.3.1 13.4.2 11.1.2 7.8.1 5.3.2 3.5.1 2.3.2 3 .2-.6.1.4.2 2.1.1-1 .2.4.2 4.5.1-4.8.2 4.4.1-3.5.2 5.2.2-5 .1 6.1.2-2.7.1.9.2 1.3.2.1.1-.5.2-5.2.1 3 .2-1.6.2 1.1.1.9.2-4.7.1 1.5.2-.8.1 2 .2.5.2-4.9.1 7 .2-.8.1 1.5.2-4.3.2-.9.1 3 .2 4.1.1-.9.2-2.5.2 4.2.1-6.5.2-.1.1.4.2 3.2.2 2.5.1-4.4.2-2.3.1 3 .2-2.6.2 2.9.1-4.2.2-.6.1 7.5.2-5.3.2-.6.1 4.5.2 1 .1.1.2-.9.2-3.8.1.4.2 3.8.1-1.2.2-1.6.1.3.2-5.3.2 1.8.1 2.6.2-1.4.1-2.5.2 2.3.2 2.1.1-.7.2 1.9.1-2.7.2 6.2.2-6.8.1 5.4.2-3.6.1 5.7.2-5 .2 2.1.1 2.2.2.5.1-2.8.2-.6.2.3.1-2.2.2 1.5.1-3.9.2 6.3.2-.5.1-.5.2.6.1-4.3.2 3.5.2-3.1.1-3.6.2 2 .1 5.1.2-5.9.2 1.9.1 4.6.2-4.6.1 2.4.2.1.1 2.1.2-3.4.2 1 .1 4.4.2-1.7.1-3.3.2 5.1.2-.7.1-2.3.2.6.1-1.2.2 2 .2-.2.1-4.1.2 1.6.1 1.2.2 1 .2-1.7.1.9.2.8.1-6 .2 1.7.2-.9.1-1.3.2-.5.1 7.3.2-6.3.2 5 .1-1.8.2.9.1.2.2-2.9.2-.1.1 2.8.2 1.9.1-2.4.2-3.2.2 1.4.1-2.7.2 2 .1 2.1.2-5.1.1.6.2-1.3.2 7.4.1-7.3.2 2.3.1 2.5.2 1.9.2-2.8.1-1.6.2-.3.1 2 .2-1.8.2 5.6.1-1 .2-3.5.1 0 .2-.4.2-.2.1 1.2.2 3.3.1 1 .2-2.1.2-4.8.1.7.2 4.5.1-3.1.2 3.8.2-2.6.1-.6.2-3.5.1 4.2.2.8.2-1.5.1-2.4.2-.4.1 1.7.2-2.4.1-.3.2-.2.2 6.4.1-3 .2-2.5.1.4.2 1.2.2 4.5.1-1 .2 1 .1-4.5.2 3.8.2 2.9.1.3.2-5.8.1 4.1.2-5.8.2 7.1.1-6.9.2 6.8.1-3.4.2-2.1.2 1.4.1-2.7.2-.6.1 2.8.2-3.7.2 4.6.1-7.3.2 2.2.1.2.2-1.5.2 3.9.1-1.3.2 5.1.1-.1.2-5.1.2 6.8.1-3.6.2 2.4.1 1.8.2-.3.1.5.2-1.2.2 3.1.1.5.2-6.4.1-.1.2 7.6.2-1.2.1-4.7.2.1.1-2.6.2 1.8.2 4.8.1-3.5.2-3.1.1 1.4.2 4.2.2 1.4.1-2.2.2-.2.1-2.9.2.8.2 1.1.1 1.1.2-2.9.1-1.7.2.9.2-1.9.1-3.8.2 4.8.1.4.2-1.7.2-.6.1-4.1.2 2.9.1 2.4.2-5 .1 7.3.2-4.7.2-1.7.1 4.5.2 1.1.1-2.4.2 0 .2.6.1 1.4.2.5.1.2.2-1.9.2.7.1-4.8.2 1.5.1-.3.2.5.2 5.7.1-6.2.2 5 .1 3.1.2-3.7.2.9.1-4.8.2 3.1.1-2.2.2 1.4.2 5.3.1-2 .2-.7.1 2.7.2-2.9.2 3.5.1-5 .2-1 .1 6.7.2-8.3.2 4.9.1-3.2.2 1.8.1 1.7.2-4 .1 3.9.2-2.3.2 1.7.1-5.3.2 7.1.1-1.5.2-4.9.2 1.7.1 5.1.2-3.4.1 4.6.2-4.9.2 4 .1-.8.2 2.1.1-5.5.2 5 .2-3.1.1 4.4.2-4.8.1 3.4.2.4.2-3.3.1 1.8.2 1 .1 1.3.2-7.6.2 1.1.1 4.6.2-5.6.1 5.7.2-7 .2 4.1.1 1.7.2-5 .1 3.7.2-4.3.2 4 .1-5.2.2 5.7.1-1.2.2.9.1-2.3.2.4.2 1.7.1-.2.2-2.1.1 2.3.2-3.9.2 3.7.1.7.2-4.2.1-.2.2 3.7.2-4.3.1.7.2 4.5.1-4.4.2-3.4.2 5.3.1 1.3.2-5.6.1 1.9.2.3.2-.2.1-3.4.2-.2.1 2.7.2 1.9.2-3.9.1 1.1.2 5.7.1-4.3.2.6.2 4.9.1-.3.2-7.1.1 6.7.2-2.7.1-1.5.2.4.2-2.9.1 3.8.2-2.1.1-3 .2 4 .2-3.6.1.4.2 4.1.1-2.8.2 1 .2-.6.1 3.5.2-1 .1 3.6.2 2.5.2.2.1-2.3.2 3.1.1-.9.2-1.2.2-5.8.1 2 .2 2 .1 1.5.2-4.2.2-.2.1-.7.2 0 .1 0 .2 1.8.2-1.7.1.6.2 2.7.1-6.1.2 4.8.2-5.1.1 2.1.2 3.3.1-1.2.2-2.9.1.5.2 1.5.2 4.7.1-2.4.2 1.3.1-.5.2-3.2.2 5.9.1-1.9.2-.6.1-1.3.2 3.1.2 1.2.1 2 .2-2.7.1-3.3.2 4.8.2-6.1.1 2.1.2-2 .1 2.8.2.9.2-3 .1 6.5.2-.8.1-1.8.2-2.6.2-2.9.1 6.7.2-4.2.1 4 .2-1.2.2-6.2.1-.2.2 6 .1 1.4.2-6 .1 2.3.2 3.7.2-7.1.1.5.2 0 .1 5.9.2-.8.2-4.7.1-.1.2 5.5.1-.5.2 1.7.2-7.7.1 7.2.2-7.4.1 1.2.2 1.3.2-1.6.1 3 .2-2.1.1 1.8.2-5.3.2-1.3.1 1.6.2.9.1-5.5.2 6.3.2.9.1-7.2.2 2.6.1-.6.2 1.7.2-.6.1 6.6.2.4.1.4.2-1.5.2-2.5.1.8.2 1.6.1-2.7.2.7.1 2.5.2 0 .2-3.4.1 5.5.2-7.9.1.4.2 1.6.2.1.1 3 .2-1.2.1 1.7.2-.8.2-3.9.1 4.2.2-1.5.1 1.9.2-3.7.2 5.4.1-4.4.2 3.6.1-4.4.2 2.1.2-2.3.1.1.2 1.1.1 3.7.2-4.2.2 2.3.1 3.9.2-.7.1-1.3.2-3 .2 2 .1 3.4.2-7.2.1 5 .2-2.1.2 3.1.1-4.5.2-.9.1 3.8.2-.9.1 6.1.2-3.4.2 3.1.1-.3.2-1.2.1-2.2.2-3.3.2 2.5.1-.8.2 1.7.1-2.9.2-1.8.2 3.5.1 2.6.2-4.2.1 2.6.2-1.5.2 2.5.1-.6.2-2.3.1 1.8.2-4.2.2 6.2.1-3 .2-.8.1.6.2 2 .2-2.8.1 8.2.2-3.1.1.4.2 2.6.2-.5.1-.3.2-2.3.1 1.7.2 3.2.1-2.3.2 2.1.2-2.6.1-2.3.2.8.1-1 .2-.9.2-.3.1 4.4.2-7.1.1 3.6.2-4.7.2 1.5.1 1.4.2 1.3.1-6.5.2 1.4.2 1.1.1 4.8.2.2.1-5.1.2-1.2.2 5.7.1-.5.2-1.5.1-1.8.2.8.2-.2.1.1.2-1.9.1 2.6.2-2.5.2.1.1 1.9.2-1.6.1 5 .2-5.3.2-1 .1-.2.2 5 .1-5.9.2 3.6.1 2.4.2 0 .2-4.1.1-2.8.2 5.2.1-1.3.2 0 .2.3.1-4.3.2 1.7.1 1.4.2-1 .2 3 .1-2 .2 3 .1-5.1.2-.7.2 2 .1-.2.2.1.1.6.2.9.2-2.2.1 6.6.2-1.9.1-2.3.2 2.3.2 3.2.1-3.8.2-3 .1 6.5.2-7.7.2 2 .1.1.2-.3.1-1.5.2 5 .1-.3.2-5.9.2 4.1.1 1 .2-2.3.1 4.1.2-7.4.2 7.1.1-.9.2.8.1-.3.2-.4.2-1 .1-2.4.2 3.2.1 1.1.2-4.9.2 0 .1 1.7.2 4.5.1-2.7.2-2.5.2 4.4.1-4.5.2 4.1.1 2.5.2-6.8.2 4.8.1-1.5.2 1.9.1-1.4.2-1.8.2-2.1.1 5.4.2-3.7.1-3 .2 3.4.2-3.4.1 4.4.2-3.2.1 4.6.2 0 .1 4.7.2-2.7.2-.1.1.4.2-1.5.1 6.9.2-6.3.2 5.4.1-6.1.2-2.6.1 3.9.2-3.9.2 3.8.1-3.5.2-1.1.1-1.8.2 1.7.2 1.2.1-2.4.2-2.4.1 2.6.2 2.4.2-5 .1 2.3.2.9.1-1.3.2 2.6.2-2.9.1 3.9.2-2.3.1-1.7.2 2.4.2-1.1.1-2.8.2 3.9.1.1.2.2.2-1.8.1-2.5.2 1.7.1 1 .2 1.4.1-5.6.2 1.8.2 2.7.1-.7.2-2.4.1 5 .2-6.2.2 6.7.1-5.3.2 2.2.1 1.7.2.5.2 1.7.1-1.4.2-1.8.1 1.7.2 1.6.2-3.2.1-.7.2.5.1-1.1.2 5.8.2-3.9.1 2.3.2-3.6.1 4.5.2-.2.2-4.2.1 2 .2-2.3.1-3.1.2 1 .2 1.2.1-3.1.2-.6.1-1.6.2 1.2.1-3.5.2-1.4.2-1.8.1-4.1.2-4 .1-3.2.2-3.6.2-3.8.1-2.7.2-1.5.1-.4.2.9.2 2.2.1 3.4.2 3.3.1 3.9.2 3.3.2 2.9.1 2.2.2 1.8.1 2.8.2.1.2-1.1.1-.3.2-1.9.1-1.3.2-1.5.2-1.7.1-1 .2-.1.1 0 .2 1.6.2 1.7.1 1.3.2 2.5.1 1.1.2 1.8.2 3 .1-.3.2 3.5.1.9.2-2.8.1 0 .2 3.5.2-3.8.1 1.8.2-2.5.1 5.1.2-2.3.2-2.7.1 0 .2 1.2.1 2.3.2-3.3.2 5.1.1-5.1.2 2.7.1.6.2-2.7.2 4.5.1-1.7.2.1.1-.4.2 3.3.2-.5.1-.2.2-2.7.1.1.2 6.1.2-.9.1-2.2.2 1.9.1.5.2-3.5.2 6.4.1-4.5.2 4.1.1-5.4.2 7.6.1-3.3.2-.5.2-1 .1 2.8.2-3.2.1 1.3.2 2.3.2-4.5.1 2.9.2.2.1-5.9.2-.4.2 3.7.1-4.2.2 3.5.1 3.2.2-1.4.2.7.1-1.7.2 1.9.1-.7.2-3.4.2-.5.1 3.1.2-.2.1-1.8.2-.3.2-2.9.1 4.9.2-3.9.1 4 .2-2.9.2 2.4.1-4.9.2 5.1.1-1.1.2-2.5.2 6.1.1-2.2.2 2.7.1-.8.2.2.1-2.7.2 1.2.2-3.4.1 6.2.2-2.8.1 3.1.2-4.4.2 1.5.1 4.4.2-3.8.1-3.6.2 6.2.2-2.8.1-.1.2-.3.1-.6.2-1.2.2-2 .1-.9.2.1.1-.9.2 3.9.2-.9.1 3.8.2.2.1-.4.2.9.2-.5.1-5.7.2 2.3.1-4 .2 5.8.2-.7.1-4.6.2.5.1-.9.2 3.4.2.6.1-5.2.2.7.1 1.6.2-1.8.1 1.7.2 3.7.2-5.1.1 4.4.2 3.6.1-1.1.2-4.5.2 6.5.1-5.9.2-.5.1-.4.2 7.7.2-1.2.1-1.7.2-1.4.1-1.8.2.3.2.1.1.6.2 2.7.1-1.3.2 3.6.2-.7.1-7.4.2 4.1.1 1.5.2-1.1.2-5.6.1-.9.2-.7.1 7.1.2.1.2-.9.1.7.2-5 .1-.4.2-1.6.1 1.9.2 3.3.2.7.1-1 .2-6.1.1 6.5.2-6.6.2 4.4.1-4.4.2 1.4.1.3.2.7.2-1.2.1 7.6.2-4.8.1-1.6.2.8.2 4.3.1 2.1.2-1.5.1-2 .2-1.7.2.8.1 1.4.2 2.5.1-4.8.2 1.3.2 0 .1-2.3.2.2.1 5.1.2-3.4.2-.1.1-1.5.2 4.3.1-6.3.2 1.2.2.5.1 3.4.2-.5.1-3.5.2-.4.1.2.2 6 .2-3.4.1 2.9.2-5.9.1-.7.2-.6.2 6.5.1-1.2.2-1.6.1.3.2-.7.2 0 .1-3.1.2 1.9.1 2.6.2-5.9.2 4.7.1-.3.2.2.1-4.5.2 2.2.2 2.8.1-3 .2-.7.1 3.6.2-1.7.2.8.1-2.6.2 3.5.1-.6.2-3.6.2 5.8.1-3.9.2 4 .1-5.1.2 4.4.1.9.2.6.2-3.1.1-1.9.2 4.4.1-4.2.2 0 .2-1.9.1 2.2.2 1.3.1.9.2-3.2.2 3.3.1-3.1.2 4.6.1-4.8.2 5 .2 1.4.1-7.1.2 6.2.1-1.9.2-3.2.2-1.9.1 5.4.2-1.9.1.9.2-5.5.2.5.1 5.3.2-.8.1-4.1.2 4.1.2 2.4.1-6.8.2 7.2.1-2.4.2 2.2.2-2.4.1 5.2.2-2.1.1-2.3.2 3.9.1-3.5.2-3.1.2 2.1.1.2.2 3.8.1-1 .2-7 .2 3.3.1-1.8.2 4.1.1-3.2.2-3 .2 5.3.1.5.2-3.9.1 1.2.2.3.2.7.1 3.3.2 0 .1-2.4.2 1.1.2.5.1-.1.2-6.1.1-1.3.2 4.4.2-.2.1 4.2.2-2.1.1-4.8.2 1 .2 7 .1-2.9.2 2.8.1-1.6.2-1.1.2 1.9.1 1.9.2-.7.1-2.8.2-.7.1-2 .2 3.3.2-4.8.1 6.1.2-6.7.1 1.7.2-1 .2 4.7.1-3.3.2-2.2.1 3.7.2 3.7.2.4.1.3.2 1.4.1-1.7.2-4.4.2 1.1.1 5.2.2-5.6.1 4.2.2-6.1.2 2.8.1-2.1.2.6.1 2.9.2 0 .2-5.9.1 4.2.2-5.3.1 2.9.2-2.6.2 4.1.1-2.5.2 3 .1-5 .2 5.4.1.5.2-2.5.2.4.1 2 .2-2.1.1 0 .2-2.9.2 4.5.1-.5.2 3.1.1-6.5.2.4.2.6.1 4.1.2-.7.1-5.2.2 1.7.2-1.4.1 5.6.2-5.8.1 4.2.2-2.4.2-.1.1 2.4.2-2.8.1 6.1.2-5 .2.2.1 1.1.2 3.1.1-7 .2 3.8.2-.6.1.7.2-4.5.1 6.1.2-2.1.2-4.5.1 6.6.2-.9.1 0 .2-1.4.1-.6.2-.6.2-1.8.1 5.8.2-7.8.1 7.5.2-1.9.2-1.1.1-3.6.2 6.4.1-5.8.2 2.2.2.4.1 4.7.2-.3.1.5.2-1.4.2 2 .1 0 .2-5.1.1-.3.2 4.1.2-3.6.1-1.2.2-2.7.1 1.1.2 3 .2-2.9.1-.1.2.9.1-3 .2 2.7.2-1.3.1 4.1.2-.1.1 2.4.2-5.5.1.3.2.1.2 1.5.1-1.9.2 4.1.1 3.7.2-.3.2-2.8.1 1 .2-1.9.1 1.5.2 1.1.2-1.4.1 2.2.2-4.6.1.1.2 1.5.2-1.5.1 2.4.2-4.9.1 2 .2-.3.2-.2.1-1.5.2 4 .1-3.5.2 6.6.2-2.8.1 1.9.2-2.7.1.6.2 4 .2-.2.1-3.3.2-1.3.1 3.1.2-2.2.2.4.1 4.1.2 1.3.1-1.3.2-3.4.1-.8.2 4.1.2-5.9.1 2.9.2-.4.1-4.1.2 7 .2-2.4.1-1.9.2-.7.1-.2.2.1.2-2.1.1 5.4.2-3 .1-.1.2 2.7.2-2.4.1 1.3.2 3.6.1-4.7.2 4.4.2 2 .1-4.9.2-1.7.1-1.6.2-.2.2 6.5.1-2.4.2-3.4.1 3.5.2-2.7.2-1 .1 0 .2-1.6.1 0 .2.2.2 5.2.1-4.3.2 5.9.1-3.8.2-.1.1-2.4.2 4.5.2-.5.1-2.6.2.4.1 4.8.2-2.1.2-1.9.1 2.9.2-3.4.1 5.3.2-1.2.2-6.1.1 3.6.2 1.5.1-4.9.2 4.4.2-3.3.1-1 .2-.5.1-1 .2 5.3.2-1.8.1-4.9.2 4.4.1 1.8.2-3.8.2 4.5.1-5.6.2.6.1 4.9.2-2.7.2-.8.1 1.8.2-3.3.1 3.1.2-1.5.1-1.6.2 5.7.2-.6.1-.9.2-.1.1.1.2-2.8.2-4.7.1 6.7.2-4.2.1-.6.2 3.1.2.1.1-.7.2.1.1.6.2-4.2.2 6.1.1-4.5.2-1.1.1 4.5.2-2.6.2 3.8.1-3.3.2 6.5.1-1.3.2 1.3.2.4.1-2.6.2-.5.1.9.2 1.6.2 3.1.1-2.2.2-1.6.1-1.5.2 1 .2-1.4.1 4.1.2-.7.1 2.7.2-6.1.1 5.7.2-4.6.2 1.6.1-2.4.2 1.1.1 1 .2-1.1.2 2.5.1-3.7.2 3.3.1 0 .2-4.3.2 3.8.1-2.8.2-1.5.1.4.2.8.2-1.4.1 2.2.2-.9.1-.5.2.4.2-.9.1-2.4.2-4.6.1 7.7.2-4.1.2 2.7.1 1.8.2-2 .1-2.5.2 5.7.2-6.1.1 3.8.2 2.1.1-6.3.2 2 .1-1.3.2 4 .2.2.1 2.2.2-2.5.1-1.1.2.1.2-1.4.1 4.8.2-3.9.1-3.3.2 2.4.2 2.1.1.3.2-.8.1-2.2.2-1.2.2 1.3.1-1.6.2 2.3.1.6.2 2.6.2-4.5.1 4.4.2-.1.1-2.7.2 2.7.2 3.5.1-6.8.2 7.5.1-6.3.2-1 .2 4.3.1-4 .2-.1.1 2.9.2-3.8.2 5.4.1.1.2-1.9.1-3.9.2 4.5.1-.2.2 1 .2-3.9.1 5 .2-1.9.1 1.3.2 0 .2-.4.1-5.1.2.8.1-.3.2 3.4.2-4.4.1 5.4.2-6.8.1.2.2 6.8.2-1.5.1-5.2.2 2.1.1-1.4.2 4.6.2-6.4.1 3.7.2-1.7.1-1.4.2 7.2.2-.8.1 1.4.2-.7.1.8.2-1.4.2-1.5.1-2.8.2 5.6.1.2.2-6.1.2 6.2.1-4.4.2 3.5.1-3.5.2 2.1.1-.5.2-.7.2-1.6.1 7.3.2-6.8.1 3.7.2-.2.2 3.5.1-2.8.2-3.3.1 3.9.2 1.5.2-5.6.1 3.6.2 2.8.1-2.2.2-.7.2-3 .1 1.2.2 4.3.1-6.8.2 1.3.2 1.4.1 3.8.2-2 .1-4.4.2 4.4.2-1.8.1.5.2 2.2.1-3 .2-3.8.2 6.2.1-3.9.2-3.4.1 2.9.2-1 .1 1 .2-3.6.2 5.5.1-.6.2 1.5.1-5.4.2-1.3.2 4.3.1 1.4.2-5.3.1 2.3.2-.3.2 3.2.1 1.3.2.9.1-5 .2-1.5.2 4.4.1 2.1.2-5.2.1 4.8.2-2.8.2-3.5.1.9.2 3.2.1-1.2.2-1.3.2-2.3.1 2.4.2 0 .1 1 .2-.6.2 2.1.1 1.3.2-3 .1 1.1.2 5.1.2 2.7.1 0 .2 0 .1.3.2-2.5.1-3.5.2-1.2.2 1.5.1-1.2.2 4 .1-4.9.2.4.2.6.1 1.5.2-.2.1.8.2 1.1.2-4.8.1.2.2 2.7.1 4.4.2-5.2.2 0 .1 2.8.2-5.6.1 5.7.2-1.6.2-3.8.1-.3.2-.7.1-.2.2 3.2.2.9.1 1.1.2-1.5.1-2.3.2-.4.2 1.7.1 4.1.2-2.9.1 4.7.2-1.6.1-4.6.2-.7.2 3.5.1 3.8.2-4.6.1 1.2.2 2.4.2.2.1 1.5.2-6.2.1 6.2.2-2.3.2 2.7.1-3.1.2-3.1.1-.7.2 1.4.2 3.4.1-1 .2 1 .1-1 .2-6 .2 1.1.1-1.4.2 1.8.1-2.6.2 0 .2 2.7.1 1.2.2-1.8.1 2.1.2-4.1.2 3.8.1-2.3.2 2.8.1-3 .2 4.2.2-3.3.1 2.1.2-.7.1 2.8.2-.7.1-1.7.2-1.2.2.8.1-1.4.2 2.7.1-2.7.2 2.9.2-6.3.1 3.7.2 3.1.1-3.3.2-2.3.2-.1.1 5 .2-4 .1 3.7.2-.3.2.9.1-2.8.2-.9.1 1.8.2-2.7.2 4.7.1-3.6.2 1 .1.6.2-1.7.2 1.9.1-1.6.2.8.1-1.8.2-1.5.2 2.9.1-.9.2-1.8.1.3.2 3.9.2 1.1.1-2.8.2-2.1.1-1.6.2 6.4.1-.8.2-2.3.2-.3.1-.1.2 1.3.1 2.8.2.3.2-7 .1 7.2.2-1.8.1-2.1.2 1 .2.5.1-1 .2-1.2.1 2.8.2 2.3.2-1.3.1-1.6.2-1 .1 0 .2 3.7.2-4.3.1 6 .2-2.4.1-2.2.2 1.1.2 1.5.1-1.8.2-3.1.1 2 .2-1.4.2-.2.1 1.5.2-.6.1-1.4.2-1.4.1 1.5.2.4.2 1 .1 3.3.2-6.7.1 4.8.2-2.6.2 3.1.1-4.7.2 3.6.1-1.9.2-.2.2 5.4.1-4.3.2 3.8.1-.8.2 5.2.2-6 .1 5.6.2-5.8.1 6.9.2-3.9.2-1.9.1-.7.2-.5.1 1.5.2 1.5.2-2.1.1-.6.2-1.8.1 2.1.2-4.6.2 1.7.1-.7.2-2.6.1 1 .2-1.2.2 1.2.1-1.6.2.7.1 6.6.2-2.8.1 3.1.2-.1.2-1.6.1-1.7.2 7.8.1-5.2.2 4.9.2-3.5.1 2.1.2-3.1.1-.8.2 1.9.2 1.3.1-2.1.2-1 .1 1.4.2-.4.2 2.8.1.5.2-1.8.1.3.2-3.5.2.3.1 2.6.2 1.3.1-6.3.2 1.7.2 2.4.1-2.2.2-1.7.1.7.2-3.1.2 5 .1-.2.2-1.5.1-2.2.2 3.9.1 1 .2-1.9.2-2.1.1-1.9.2 2.8.1 3.3.2.2.2-5.6.1-.4.2.7.1-.7.2 4.4.2-1.2.1.9.2 1.3.1-.1.2-1.4.2-2.4.1-1.1.2-.8.1.6.2-.6.2 5.5.1-.5.2-2.3.1-.8.2-.6.2 2.4.1.4.2-4.4.1-.4.2 5.3.2-2.6.1 3 .2-6.8.1.5.2 5.7.2-3.9.1 1.4.2-1.4.1 1 .2-1.2.1-.6.2 5.7.2-4.5.1 5.3.2.5.1-4.3.2 6.6.2-2.2.1-3.4.2 3.5.1-.5.2 2.3.2-3 .1-2.7.2 5.5.1-4.5.2-1 .2 1.5.1-4.3.2-1.1.1 6.4.2-5.4.2 2.6.1-2.5.2 1.3.1-2.7.2 4.1.2-.4.1-3 .2 4.3.1-5.5.2.7.2 5.3.1-2.4.2 2.6.1-3.1.2 4.3.2-6.2.1 2.2.2 3.7.1-1.7.2-2.8.1 1.8.2 1.7.2-.6.1-4.2.2 4.6.1-2.8.2 3.2.2-1.6.1 3.4.2.7.1-1.2.2-4.3.2 5 .1-6.1.2 7 .1-5.9.2 1.2.2 3.3.1-2.1.2 2 .1.1.2-.2.2-1.2.1-2.8.2 2.5.1 1.2.2-.3.2-4.5.1 5 .2-3.9.1 4.9.2-1.3.2-.6.1 1.2.2 3.4.1-6 .2.4.1.9.2-2.9.2 1.8.1 1 .2-2.7.1.5.2-1.3.2 5.4.1-1.3.2-5.1.1 5.2.2-2 .2-1.5.1 4.3.2-1.4.1-1.1.2-.5.2 1.9.1-1.3.2 3.1.1-2.9.2.9.2 4.6.1-4.8.2-.6.1 2.1.2 1 .2-3.9.1.5.2 6.5.1-1.6.2-5 .2 2.3.1 2.6.2-4 .1 2.7.2-2.9.2-1.2.1 1.7.2 1 .1 2.9.2-1.2.1-1.8.2 2.9.2-1 .1-4.8.2 2.9.1 3.4.2-1.4.2-3.2.1 1.8.2 2.3.1-5.6.2-.3.2 4.8.1-3.6.2-2.3.1 5.6.2-4.7.2-1.3.1 5.3.2-4.7.1-1.3.2 1.5.2-2.2.1 2.3.2 3.1.1.5.2-4.9.2 4.1.1-4.6.2 5.4.1-6.6.2.9.2 6.2.1-3.5.2-1.4.1 1.5.2 1.6.1-.8.2-.3.2.8.1 3 .2.5.1-1.4.2-2.1.2 4.1.1-1.3.2 4.4.1-1.9.2-1.4.2-3.3.1-.5.2 5.2.1-6.7.2.9.2.8.1 2.9.2-1.9.1-1.2.2-1.8.2 2.1.1-1.9.2 4 .1.7.2-2.3.2 1.6.1 0 .2-6 .1 6.4.2-.5.2-6.5.1 5.5.2-.8.1-2.8.2 2 .2 1.6.1 1.3.2-3.6.1-3 .2 1.1.1 5.3.2-1.3.2-.4.1-2.9.2 5.4.1-6 .2 6.5.2-7.1.1 4 .2 2.7.1-5.2.2 2.7.2-1.5.1-1.5.2 1.6.1 1.2.2 3.9.2-3 .1-4 .2 1.2.1-1.4.2 5.1.2-3.5.1 1.6.2.6.1-2.1.2-1.5.2.3.1.2.2-.2.1 1.3.2.5.2-2.4.1 3.2.2-5.1.1 3.3.2-.7.2-2.6.1 6.9.2 0 .1-6.8.2.3.1.4.2 6.2.2-3.2.1-1 .2.4.1 5.5.2-4.5.2 4.5.1-2.4.2-.9.1 2.2.2-.5.2 1.5.1 0 .2-1.6.1-1.8.2 3.8.2-6 .1 3.2.2.4.1-3.8.2 2.2.2-.6.1 3.9.2.5.1-2.9.2-.9.2.8.1-1 .2.7.1-1.4.2-3.1.2 3.3.1-3.9.2 5 .1-1.5.2-2 .1-3.3.2 7.4.2-2.3.1-4.6.2 1.2.1.1.2.5.2 2 .1 3 .2-1.4.1-1.3.2 2.4.2-2.6.1.2.2.9.1-.3.2-1.6.2 2 .1-.2.2 2.6.1.3.2-1.5.2-.8.1 2.6.2-5.9.1 4.8.2-.6.2-4.2.1.9.2 1 .1 1.7.2.2.2-1.2.1 2.6.2-.1.1 1.8.2-.5.2.4.1-3.1.2 4.9.1-5.3.2 5.9.1-4.5.2-1.1.2 3.4.1-3.2.2 6.8.1-6.8.2 1.4.2 1.9.1-1.6.2-3.4.1-.7.2 4.7.2.2.1-2 .2 2.4.1-1.4.2-3.8.2 2.7.1 3 .2-6.7.1 2.3.2 4.2.2-3.1.1 2.7.2-6.3.1.9.2.2.2 4.5.1-5.9.2 5.7.1 2.4.2-.9.2.9.1-2.5.2-1.3.1-.6.2 1.1.1 4.7.2-2 .2-1.1.1-3.1.2 2.4.1 3.1.2-4.4.2 1.9.1-4.5.2 5.1.1-5.8.2 2.8.2-1.9.1-1.5.2 2.5.1-1.5.2 4.8.2-1.5.1.7.2-1.1.1.9.2-1.2.2-.1.1-2.8.2 4.6.1-1.2.2 1.5.2-1.9.1 1.7.2-2.2.1-2.4.2 3.1.2-4 .1.2.2 1.1.1 4.1.2-5.4.2 1.7.1 3.6.2-6.4.1 5.4.2-1.9.1-2.4.2 3.4.2-1.8.1 3.1.2-3.8.1-1.7.2 5.1.2-3.8.1 2.2.2-4.4.1 6.7.2-2.1.2-2.4.1 5.5.2.4.1-1.2.2-4.2.2.8.1 5.4.2.3.1-4.2.2 2.1.2 2.6.1-5.4.2.7.1 3.1.2-.1.2.6.1-1.3.2 1.6.1-5.6.2 1.9.2.6.1 2.2.2.8.1-3.9.2-.4.2-.1.1-.8.2 0 .1 1.8.2-3.3.1-.8.2-1.1.2-.1.1-.4.2 5.7.1-1.6.2-2.4.2-1.4.1-.7.2.6.1 4.1.2-3.2.2 1.8.1 1.7.2-3.1.1-.6.2 4.8.2 2.4.1-3.6.2 4.7.1-5 .2 2.5.2.7.1-.7.2.7.1 3.6.2-6.6.2 5.5.1-2.3.2-.9.1-2.1.2 2.4.2-.3.1 2.2.2-1.1.1 0 .2 5 .1-.5.2-2 .2-2.4.1.3.2 3.5.1-2.7.2 0 .2-4.7.1 4.3.2 1.3.1-3 .2-1.3.2 2.9.1-1 .2-5.7.1 3.4.2.5.2-.8.1 3 .2-1.7.1.3.2 5.5.2.2.1 0 .2-6 .1 4.3.2-.7.2 2.5.1-2.5.2.8.1-5.1.2 2 .2-.2.1-2.2.2 1 .1-4.6.2 2.9.2-.6.1-2.3.2.5.1 1.9.2-1.2.1-3 .2 6 .2-3.1.1 3.7.2-3.6.1-1.4.2 4.9.2-4 .1-1.4.2 1.9.1 3.5.2-3.9.2-.2.1.8.2 6.4.1-2.2.2-1.1.2-.3.1-1.6.2.4.1 3.7.2-1.8.2-.3.1 3.3.2-2.8.1-2.3.2 1.6.2 3.7.1-1.6.2-2.3.1-2.7.2 3.9.2-2.3.1 1.6.2-1 .1.8.2.6.1 1.5.2.6.2 5.3.1-2.3.2 1.4.1.4.2-2.9.2 1.9.1-.6.2-.9.1-4.1.2.9.2 2 .1-4.7.2 0 .1 2 .2 3.5.2-.5.1-2 .2 0 .1-4 .2 3.1.2.9.1-4.2.2.3.1 2.9.2-1.7.2 1 .1-1 .2 2.9.1-2.8.2 2.3.2.6.1 4.1.2-2.4.1-2.3.2 2.8.2 1.2.1-4.8.2.1.1.8.2 0 .1 3.5.2-1.9.2-1.9.1 1.6.2.7.1-.2.2-1.4.2-4.9.1-.9.2 3.9.1-.7.2-4.5.2 2.2.1 4.2.2-2.1.1-1.7.2.1.2 3.3.1-2.7.2 2.9.1-3.2.2-2.3.2 1.5.1-1.5.2-.4.1 2.6.2-1.4.2 2.5.1-4.5.2-2.6.1 6.4.2.5.2-6.6.1 4.6.2-2.2.1 3.8.2-4.3.2-.6.1 2.6.2 4 .1-4.8.2.1.1 3.7.2 1.3.2-4.2.1.8.2 3.5.1-4.8.2-.6.2.7.1 2.3.2.4.1-1.3.2-1.4.2 4 .1-.2.2-4.8.1 3.5.2-1.3.2 1.1.1 1.2.2-2.9.1 2.6.2-2.1.2 1.3.1-2.2.2 3.3.1-3.2.2 4.3.2-3.1.1 2.7.2-.5.1-2.5.2-1.9.2 1.1.1 0 .2.4.1-2.1.2-2.2.1-.5.2 5.2.2-3.3.1 4.1.2-2.3.1 1 .2 3.4.2-1.7.1 3.3.2 1.3.1-5.4.2-1.3.2 4.7.1-2.6.2 3.9.1-5.2.2 2.3.2-.6.1-2.1.2 3.5.1 0 .2-6.3.2-.1.1-.7.2.7.1 3.8.2-4 .2 3.6.1-3.6.2 1.8.1-2.6.2-2.6.2.8.1 6.4.2-1.4.1 4.1.2-3.3.2 0 .1-.8.2 2.9.1-.7.2 1.1.1 6 .2-1.2.2-1.1.1-2.8.2 3.5.1 3 .2.3.2-1.6.1-3.7.2-1.3.1 4.4.2-5.6.2 4.9.1.1.2-3.3.1 2.9.2-6.2.2 5.4.1-4.8.2 1 .1 2.5.2 1.7.2-4.1.1-2.8.2 1.6.1.7.2 3.7.2-.3.1.2.2 1.8.1-3.8.2-.2.2 1.8.1 1.6.2.2.1-4 .2 3.8.1-4.2.2.2.2-1.8.1 1.5.2.2.1-4.3.2 1.3.2-.5.1-1.4.2-.4.1 3.6.2-2.6.2 0 .1-.9.2 3.1.1 2 .2-2.5.2 2.2.1-.9.2-4 .1-1 .2.9.2-.1.1 5.6.2-1.9.1 3.7.2-2.6.2-.7.1 2.3.2-.4.1-2.3.2-2 .2 5.6.1-4.8.2.2.1 2.3.2-1.7.2-1.6.1 3.1.2-5 .1 2.4.2-.1.1 4.7.2-6.5.2.3.1 3.7.2-.9.1-.2.2 3.4.2-.3.1-3.7.2 1.8.1-3.4.2.8.2.8.1-2.8.2 5.4.1-2.4.2-.1.2 3.4.1-4.9.2.2.1 5.5.2-5.6.2 5 .1-2.7.2 3.2.1 1.9.2-1 .2-.4.1-4.4.2 1.3.1 3 .2-3.9.2.4.1-1.8.2-.4.1 1 .2-1.4.2-.9.1-1.4.2-1.6.1-2.5.2-.3.1-1.1.2 1.1.2-1.8.1.5.2-1 .1.7.2.2.2 0 .1.9.2-.2.1 2.5.2.2.2 1.1.1 1.7.2.6.1.6.2 0 .2 1 .1 1.4.2 2.5.1-1.9.2 1.5.2-2.3.1 1 .2.6.1 0 .2.8.2-.5.1-2.4.2.9.1.3.2 1 .2 2.7.1-1.3.2-.8.1-1.9.2 3.9.1-2.6.2 3.1.2 1.9.1.9.2-1 .1-3.7.2 3 .2-2.6.1-1.4.2 3.2.1-2 .2.6.2-.3.1 3.3.2-3.9.1 2.3.2 1.7.2.9.1-3.1.2-1.3.1 3.5.2-4.1.2.3.1-.8.2 2.6.1 2.6.2-1.2.2-.4.1-5.2.2-.1.1 5.9.2-6.4.2 4 .1-1.1.2 3.1.1-1.2.2-4.6.2.7.1 2.9.2-.5.1-3 .2.6.1 1 .2-4 .2 3.7.1 1.5.2.1.1-.4.2 1.9.2-.1.1-.3.2.2.1-1.5.2.6.2-.9.1 4.7.2-1.7.1-2.9.2 2.7.2-1.8.1-.1.2-2.2.1-1.5.2 4.5.2-6.1.1.7.2 1 .1 2 .2-2.9.2 1.7.1-2.2.2 5.5.1-3 .2.6.2-2.3.1-2.5.2 3.9.1-3.1.2 5.6.1-4.6.2 5.2.2-2.1.1-2.2.2.8.1 4.6.2-1.4.2-2.5.1 5.2.2-4.6.1 4.8.2-3.9.2 3.3.1 2.1.2.2.1-1 .2-1.1.2-5.3.1-.4.2 3.6.1-3.2.2 1 .2-2.1.1 1.1.2.5.1-.7.2 2.1.2.4.1-1 .2-5.9.1 1.5.2 1.4.2 3.4.1-.7.2-4.6.1-.3.2 1 .2 1.3.1.5.2-3.8.1 6.5.2-1.8.1 1.6.2-1.9.2-1 .1-.8.2-.1.1 4.7.2-.1.2-1 .1 6.1.2-4.6.1-1.3.2 5.4.2 1.4.1-2.1.2.2.1-3.5.2 3.2.2-1.4.1.5.2-3 .1 1.5.2 3.8.2-5.7.1-.4.2 1.4.1 1.3.2-3.3.2 2.4.1 3 .2-4.1.1-.8.2 2.3.2.4.1 1.2.2-3.4.1 3.2.2-5.3.2 2.8.1 2.9.2-1 .1.5.2-.7.1.1.2-1.9.2 1.4.1.5.2-1.7.1-4.1.2 2.8.2 3 .1-3 .2 1.7.1-1.4.2-1.2.2 1.5.1-1.2.2 5.4.1.9.2-4.2"/><path fill="none" stroke="#006fe1" stroke-width="2.6" stroke-linejoin="round" shape-rendering="crispEdges" d="M379.8 369.7l.1 1.6.2 6.1.1-2.3.2-5.2.1 3.8.2.7.2-3.2.1 6.5.2-6.4.1 3.3.2 1.5.2-.7.1 1.7.2 1.7.1 2.2.2-7.3.2 3.8.1.4.2-4.4.1-3.1.2 10.3.2-7.3.1.1.2 6 .1-3.5.2-1.5.2 3 .1-8.3.2 7 .1-3.8.2-3.3.2 5.9.1 2.8.2-7.8.1 4.4.2-3.6.2 4.6.1-.4.2-5.6.1 6.3.2-2.1.1-.1.2 1.1.2-4.5.1 3.3.2 1.2.1-8.2.2 8.1.2-4.5.1 1.3.2-3.1.1 6.3.2-3.9.2 6.5.1-6.2.2 3.2.1-1.7.2 2.1.2-4.6.1-.4.2 5.8.1-.2.2-2.3.2 3.5.1-7.9.2 6.8.1-7.4.2 8.5.2-3.6.1-.1.2 4.1.1-1.7.2.4.2-7.5.1 3.7.2-2.7.1 1.5.2.6.2 7.3.1-7.5.2 2.1.1 2.4.2 4 .1 1.4.2-2.7.2-5.3.1 3.6.2 1.6.1-7.1.2 6.6.2-3.4.1 2.2.2.8.1-.1.2-1.6.2.3.1-3.9.2 3.2.1-4 .2 3.8.2.5.1 2.5.2-4.3.1-4.2.2 5.2.2-3.8.1 5.5.2-4.1.1-.3.2 5.6.2-5.5.1-.4.2.2.1 1.6.2-3.9.2 5 .1 4.1.2-3.8.1 1.8.2 2.1.1-1.3.2-1.1.2.6.1.1.2-6 .1 2.5.2-1.4.2-.7.1 3.4.2-2.6.1 3.2.2-.4.2-5.2.1 3.5.2-.8.1 3.1.2-6.9.2.6.1 3.4.2-1.4.1 2.7.2-3.6.2-1.3.1 8.2.2-6.9.1-.5.2 2 .2 1.3.1-.7.2 3.9.1 4.8.2-8.3.2 3.4.1 2.9.2 2.5.1 1.4.2-9.1.2 4.2.1 3.7.2-9 .1 5.7.2-4.6.1 6.3.2 1.8.2-4.2.1-5.6.2.8.1 4 .2 4.8.2-6.3.1 4.7.2-2.8.1-1.6.2 4.5.2-4.6.1.3.2 3.7.1-3.3.2 2.6.2-3.3.1-4.3.2 2.7.1 4.2.2-3.5.2 4.1.1-10.4.2 3.7.1 4.7.2-.7.2-1.1.1 1.3.2 2.6.1-1.8.2-1.1.2.4.1 1.5.2-3.4.1 4.1.2-.3.1 2.2.2-3 .2-4.5.1 5.6.2 3.6.1-2.3.2-.1.2-2.9.1-.6.2 3.6.1-7.2.2 8 .2-.3.1.5.2-9.2.1-.5.2 8 .2-5.5.1-1.6.2 1.1.1 2.9.2-5.4.2 3.6.1 1.9.2.8.1-7.3.2 8.7.2-3.7.1.3.2 1.7.1-2.7.2 6.9.2-6.9.1 3.8.2-3.7.1 4.9.2 3.1.2-.3.1-8.2.2 4.9.1 2.4.2-8 .1 1.7.2 2.6.2-.2.1-3.5.2 1.8.1.3.2-3.3.2 3.5.1-.5.2 1.7.1-1.6.2-1.6.2 1.3.1 5.4.2-7.9.1-.5.2-1.5.2 8.8.1 1.3.2-8.1.1.2.2-.6.2 4.4.1-1 .2 3.9.1-6.2.2 7.5.2-4.2.1 3.9.2 0 .1 1.1.2-4.6.2.8.1-.9.2-4.4.1 2.9.2 4.2.2-.3.1-9.5.2 7 .1-3.3.2-1.5.1.6.2 7.7.2 2.3.1-4.1.2-1.2.1 1.5.2 3.3.2-1.2.1-7.9.2.9.1 6.2.2-4.9.2 1 .1.6.2-2.1.1.6.2-2.3.2-3.6.1-.6.2 8.5.1-10.6.2 7.2.2 1.9.1-7.2.2-2.1.1 3.5.2-.9.2 1.3.1-.4.2 5.6.1-8.6.2 9.1.2-9.2.1 9.9.2-6 .1 4.7.2-7.3.1 5.3.2 2.9.2-.1.1 2.3.2-6.7.1 2.9.2 2.4.2-6.1.1 8.6.2-4.4.1-1.8.2-.2.2 4.7.1-6.3.2 2.3.1.8.2-.3.2 5.2.1-1.3.2 3.4.1-2.2.2-4.4.2.3.1-2.3.2 1.1.1 3.7.2 1.2.2-4.7.1.4.2 4.9.1 1.7.2-9.2.2 0 .1 7.5.2-2.6.1-.6.2 2.3.2 1.3.1-7.5.2 9.4.1-.4.2-6.1.1.1.2-2.5.2 2.8.1-4.5.2 3 .1 3.5.2-4.6.2 3.1.1-7.2.2 7.4.1-8.3.2.9.2 5.5.1-4.5.2-1.9.1-.2.2 7.6.2-8.3.1.4.2 9.4.1-1.8.2-4.6.2-2.1.1 7 .2-1 .1-1.4.2-1.6.2-.1.1 4.9.2-4.8.1-4.6.2.1.2 5.9.1 1.7.2-.7.1 1.6.2-4.4.1 1.2.2-.7.2 1.6.1-.9.2 6.3.1-7.2.2.6.2 5.2.1-3.7.2-1 .1 6.3.2-1.4.2-7.8.1-1.1.2 3.2.1.6.2-2.6.2 2.6.1 1 .2 1.7.1-5.9.2 4.5.2-6 .1.2.2 0 .1.6.2 7 .2-4.7.1 1.1.2-.8.1-3 .2-2.1.2 1.1.1 7 .2-5.9.1.7.2-1.8.2 5 .1-.5.2-3.4.1 1.4.2-1.1.1 1.9.2.3.2-.1.1 3.4.2.5.1-9.6.2 3.4.2-3.7.1 3.6.2 4.5.1-1.3.2-1.2.2-5.2.1 7.8.2-2.1.1-3.2.2 5.2.2-7.8.1 1.7.2 6.5.1-7.8.2 1 .2 4 .1 2.3.2-1.3.1-5.9.2 2.5.2 4.6.1-3.8.2-1.6.1-1.9.2 2.9.2 7.4.1-9.1.2 5.7.1 4.2.2-2 .2-4.2.1 4 .2-5.6.1 3.9.2-2.7.1 6.3.2-.4.2-1.5.1-4.4.2 4.3.1 1.9.2-6.6.2 1.8.1-3.8.2-.4.1 6.8.2-6.9.2 5.9.1-5.2.2 5.9.1.9.2 1.9.2-6 .1-.2.2 0 .1 3.2.2.8.2-7.2.1 2.2.2-2.9.1 1.9.2 5.4.2 2.2.1.6.2-9.7.1 3.7.2 5.1.2-3.7.1-1.5.2 4.8.1 1 .2-7.6.1 4.1.2-4 .2.4.1 3.7.2-3.1.1 5.8.2-4.8.2-2.1.1 4.7.2-4 .1-2.2.2 10 .2-8.8.1-.5.2 3.7.1-5 .2 8.4.2-7.6.1-.4.2 9.9.1-4.9.2 4.3.2-.6.1-2 .2-7.8.1 6.2.2-6.5.2-.9.1 8.6.2-6 .1 4.5.2-2.5.2 2.6.1-1.6.2 3.6.1-5.3.2 4.1.2-.3.1-2.4.2-.7.1-.7.2 2.4.1-4.7.2 2.7.2 2.3.1-3.6.2-.9.1-1.2.2 7.4.2.8.1-.4.2-1.4.1-1.1.2-5.9.2 8.7.1-4.5.2 2.1.1-6.3.2 6.3.2-6.7.1 8.4.2-2.8.1-2.1.2 1.3.2-4.4.1 3 .2-4.2.1 2.4.2.3.2-.9.1 3 .2-3.4.1 0 .2 3.6.2 7.4.1-2.5.2-2.9.1-2.2.2-.6.1 3.2.2 2.5.2 1.7.1-4 .2 3.9.1-.7.2.1.2-5.7.1 1.2.2-3.4.1 4.5.2-5.8.2 4.6.1-3.1.2 3.4.1-3.1.2-1.9.2 4.5.1.1.2 1.1.1-4.6.2 3.9.2-2.2.1-2.5.2 3.5.1 2.8.2-3.7.2 4.5.1 1.1.2-8 .1 2.5.2 1.1.2 3.6.1-.9.2 1 .1-5.3.2 2.2.2-1.6.1 5.9.2-1.1.1-4.5.2 5.6.1-8.4.2-1.7.2 3.4.1 2.9.2 2.7.1-4.7.2-4.1.2 5 .1-6.1.2 8.6.1-5.2.2-2.2.2.5.1 7.4.2.9.1-7.6.2 8.9.2-1.3.1-5.3.2-2.7.1 1.5.2 3.5.2-2 .1.2.2 1.4.1 6.8.2-8.7.2 9.6.1-4.9.2 3.1.1-2.4.2 4.6.2-8.3.1.6.2 2.5.1-.2.2-2.2.2-.6.1-2.7.2 4 .1 3.1.2 0 .1-5.2.2 5.7.2-.3.1-7.1.2-2.3.1 7.7.2 1.2.2-3 .1 3.6.2-5 .1.6.2-4.7.2 3.2.1 6 .2-8.8.1.3.2-1.2.2 4.9.1 1.1.2-.7.1 3.7.2-2 .2-.2.1-.1.2-.8.1-4.4.2.3.2 5.8.1-4.6.2 1.9.1 2.1.2-1 .2-4.2.1-.2.2-1.8.1 5.2.2.4.1-6.2.2 1.6.2-1 .1 5.3.2-2.8.1 6.7.2-5.7.2 4.8.1.6.2 3.9.1-1.6.2 2.8.2-3.1.1-5.7.2 3.8.1 4.6.2-4.1.2 3.3.1-5.8.2 5.2.1-3.1.2 5.5.2-9.6.1 2.6.2 3.8.1-4.3.2.5.2-1.6.1-2.8.2 2.2.1 5.6.2-1.4.2-5.1.1 3.4.2 1 .1-.3.2-8.1.2.8.1 8 .2-7.3.1 5.1.2-1.6.1 2.6.2-8.1.2 9.1.1-.3.2-6.3.1 5.3.2-7 .2 9.2.1-4.5.2 3.5.1.6.2-8.1.2 8.7.1-8.2.2.4.1 3 .2-2.2.2 4.1.1-4.6.2 4.6.1 1.7.2 2.4.2-5.5.1-.8.2 3.3.1 1.1.2 3.1.2-3.2.1-1.3.2-1.2.1 4.5.2-.7.2-5.7.1 2.5.2-1.3.1 3.4.2-1.3.1-2.4.2 3.6.2 1.1.1-3.6.2 4.7.1-7.9.2-.8.2 6.4.1-1.8.2 1.7.1 1.7.2-4.5.2 3 .1-1.9.2-1.5.1-.2.2 4.9.2-6.7.1.6.2.4.1 1.5.2-6 .2 5.8.1-6.4.2 3.4.1.6.2 1.3.2.3.1.6.2-5.5.1 3.6.2 4.7.2-2.7.1 4.7.2-2.4.1.8.2 1.4.2 3.5.1-9.7.2 1.3.1-.2.2 1.3.1-1.8.2 9.9.2-8.4.1 3.3.2 4.2.1-4 .2-2.2.2.6.1 1.4.2-1 .1 1.7.2-.5.2-3.3.1 8 .2.9.1-4.2.2-4.9.2 8 .1-5.8.2 0 .1-1.5.2 6.6.2-2.6.1-4 .2.7.1.5.2-.3.2 2.9.1 2.9.2-9 .1 8.1.2.1.2-6.3.1 7.5.2-1.1.1-1.6.2-6.3.2 3.3.1 2.9.2-2.1.1-5 .2 7 .1-3.5.2-1.8.2 1.5.1-2.3.2 2.8.1-3.2.2 10 .2-8.3.1 2.2.2-.2.1 1.6.2-1.2.2 5.3.1-7.1.2 7.6.1-6.3.2 5.4.2-6.9.1-2.9.2 7.1.1-7 .2 5.5.2 1.2.1-6.8.2.7.1 2.1.2 2.6.2-.5.1-4 .2.5.1 2.2.2-6.5.2 7.7.1-.4.2-5.9.1 4.3.2 1.5.1-.3.2-5.2.2.3.1 2 .2-.9.1 4 .2 2.7.2-1.5.1 3.4.2-4 .1-.3.2-3.1.2 8.1.1-2.7.2 3 .1-.5.2-8.3.2 4.9.1-1.1.2 2.5.1-6.8.2 6.1.2-.4.1-2.1.2-2.2.1 5.6.2-6.1.2 2.9.1-3.1.2 2.7.1-.7.2 3.5.2.6.1.3.2-2.8.1 3.6.2-.6.2-.8.1 2.9.2 2.4.1-4.3.2 5.1.1-3 .2-2 .2 1 .1 1.7.2-3.4.1 5.6.2-5.5.2 2 .1 1.9.2-.7.1-2 .2 0 .2 0 .1-1.9.2-1.8.1 4.2.2-7.3.2-.5.1 1.7.2-.9.1 6.9.2-4.5.2 3.2.1-3.6.2-3.5.1 5.9.2-.2.2-7.6.1 6 .2-2 .1-3.7.2 1.6.2 3.9.1-5.1.2 4.3.1-.5.2.2.1-3.1.2 6.4.2-2.5.1 1.7.2-.4.1-2.8.2 4.1.2-3.1.1 5 .2-4.5.1-2.7.2 2.4.2-.9.1 5 .2-6.4.1 5.3.2-8.3.2 1 .1 1.5.2 4.4.1-1.2.2-1.6.2.2.1 4.3.2-5.7.1 5.5.2-3.7.2 3.2.1 1.5.2-3.4.1-2 .2.8.2.4.1-1.2.2 3.4.1 2.3.2-2.3.2 5.5.1 0 .2-1.5.1.3.2-4.4.1 4.2.2-6.6.2-.3.1.5.2 2.2.1 3.7.2-6.8.2 3.1.1 1.7.2 2 .1-2.9.2-3.3.2-1.7.1 3.9.2 2.8.1.3.2-1.7.2-3.8.1-.6.2.1.1 2.6.2 2.9.2-3.2.1 4.8.2-2.6.1 4.7.2-2.4.2 2.2.1-4.9.2 2.7.1 2.7.2-8.4.2 8.3.1-3.4.2 3.7.1-6.7.2 2 .2 2 .1-.7.2.4.1 2.4.2-6.5.1 5.1.2-2.8.2 3.9.1-.3.2-5.5.1-1.6.2 4.2.2-.5.1-2.2.2.7.1.1.2-4.4.2-.9.1-2.4.2 4.2.1-1.2.2 5.6.2 0 .1 3.9.2-1.3.1-3.3.2 1.8.2 1.6.1.6.2 3.8.1-2.9.2-2.9.2-.7.1 2.5.2-4.8.1 3.2.2 3.8.2 0 .1-3.5.2-.2.1-2 .2 2.4.1-1.2.2 1.9.2 3 .1-1.7.2-5.4.1.6.2 5 .2 2.9.1-3.1.2 2.6.1-4.7.2 0 .2 7.2.1-.7.2-3.6.1 3.5.2-1.6.2 1.2.1-2 .2.5.1 2 .2-5.1.2 2.4.1 1.6.2-8.8.1 1.7.2.7.2 1.9.1-1 .2 4.5.1-6.7.2 1.3.2-1.8.1 1.2.2 4 .1-4.6.2 8.3.2-1.4.1-6 .2 6.6.1-6 .2 3.6.1-2.8.2-.6.2 3 .1 2.8.2-7.8.1.6.2 1.9.2 3.7.1-5.8.2 4.1.1-3.2.2-.9.2 2.9.1-5 .2 3.2.1-4.1.2 4.8.2 4.5.1-8.1.2.5.1 4.4.2 3.4.2-3.2.1 3.8.2-5.6.1 6.4.2-6.6.2 5.4.1-3.5.2 5 .1-6.8.2 2.8.2 5.7.1-1.3.2-2.6.1-1.2.2 4.9.1-7 .2-.4.2-1.4.1 5.2.2 2 .1-7.2.2 5.7.2.1.1-4.8.2 3.2.1.9.2-4.1.2 8.5.1-6.7.2.7.1 5.4.2-1.5.2 2.8.1-1.1.2-4.9.1 3 .2 4.4.2-6.4.1-1.6.2 5.6.1-7.9.2 2 .2 4.4.1-2.1.2-7.3.1-1.1.2 2.9.2 1.3.1.8.2-5.7.1 2 .2.3.2-1.1.1 3.6.2-.9.1-.7.2 3.6.1-3.6.2 3.3.2 2.2.1-3.4.2-2.1.1.2.2 7.5.2.6.1-.6.2-5.9.1 2.2.2 6.3.2-3.4.1-1.2.2 4.9.1 0 .2-6.3.2 4.2.1 1 .2.5.1.7.2-1.3.2-5.9.1 2.3.2-.8.1 3.9.2-.9.2 3.6.1-6.9.2-1.5.1-1.3.2 1 .2 5.7.1-2.9.2-3.5.1 2.7.2.6.2-2.8.1-2.7.2 6.4.1-.8.2-4.1.1 4.1.2-2.7.2 2.8.1 3.3.2-.8.1-2.2.2 4 .2-4.6.1 3.5.2-3.4.1 2.8.2-.8.2 0 .1 2 .2-.4.1 1.5.2-6.8.2 7 .1-2.7.2-4.5.1-1.2.2 2.3.2 2 .1 1.7.2 2.1.1-.6.2.4.2-.9.1-.7.2.2.1-3.1.2-6.4.2 2.8.1-2.2.2 1.1.1-4.4.2 5 .1-6.4.2 1.3.2-2.8.1 6.7.2 0 .1.8.2-6.2.2 1.5.1 5.7.2.3.1-6.4.2 3.7.2-3.2.1 7.4.2.5.1 1.3.2-.8.2-3.2.1-.2.2 2.8.1-2 .2 4.9.2-4.4.1-.1.2 4.6.1-6.6.2.6.2-2.4.1 7.6.2-3.7.1-.7.2 4.1.2.2.1-6.3.2-.6.1 7 .2.8.2-3.5.1 1.8.2-6.3.1 4.4.2-3.7.1.6.2-.7.2 4.4.1.4.2-1.3.1 2.6.2-5.7.2 1.3.1-.5.2 3 .1 2.6.2-5.5.2 6.6.1-5 .2-1.2.1.6.2 4.9.2-6.7.1 4.1.2-.9.1 2.6.2-.9.2-2.5.1.7.2 7.4.1-3.8.2 3 .2-.1.1-3.6.2 2.2.1-5 .2-1.7.2 4.3.1-4.8.2-.9.1 1.8.2-.8.1 5 .2-.5.2-1.7.1 1.5.2-6 .1-.2.2.5.2 2 .1-5.6.2.4.1 1.2.2-1.7.2 1.3.1-1.3.2 1.9.1 1.4.2 1.4.2 2.8.1-4.2.2 1.5.1 5 .2-7.1.2 5.2.1-3 .2-.4.1 8.4.2-1.6.2-1.6.1 3.3.2 1.4.1-3.4.2-1.1.2-4.3.1 8.6.2-1.7.1-6.3.2 3 .2-2.1.1 6.2.2-6.3.1-1.8.2 6.6.1-5.8.2-1.9.2-.9.1.8.2 2.4.1-1.6.2 4 .2 2.1.1-6.5.2-.8.1 6.9.2-.6.2 2.2.1-6.5.2 5.6.1-3.5.2-.5.2 2.1.1 4.7.2 0 .1.6.2-5.2.2 2.2.1-2.3.2.6.1 5.7.2-6.8.2 7.3.1.2.2-5.2.1 1.1.2 2.9.2-2.7.1.1.2-.9.1-6.7.2 6.4.2-1 .1-3.5.2-2.8.1 2.7.2 1.8.1-1.8.2 1.9.2-1.9.1 2.5.2 1.9.1-8.7.2 5.3.2 1.5.1-7.3.2 3.9.1 3.2.2-1 .2-2.6.1-.2.2-2.6.1 4.6.2 3.2.2.3.1-.7.2-1.7.1-1.9.2.8.2-.6.1 2 .2-2.6.1 4.6.2 3.4.2-3.9.1 5.1.2-2.6.1 2.2.2 1.9.2-8.2.1 2.6.2-2.3.1-.5.2 5.1.1-6.9.2 5.1.2 2.7.1-4.9.2 2.1.1-5.4.2 5.5.2-.1.1-2 .2 2.8.1-3.7.2 0 .2-5.7.1 7 .2-4.8.1 2.8.2-2.1.2-3.4.1 2.8.2 4 .1-2.6.2-4.9.2 3.9.1 3.3.2-8 .1-.2.2 7.6.2-2.1.1 1.6.2-3.8.1 2.4.2-3.5.2 0 .1 4.3.2 3.1.1-2.4.2-4.3.2.2.1 7.3.2-3.3.1-1.3.2.8.1 6 .2-4 .2-3.1.1.1.2-1.3.1 7.5.2-4.7.2-.5.1-3.8.2 1.6.1 4.4.2 0 .2-3.6.1-1.6.2 5.6.1-5.5.2-.7.2-1.3.1 2.4.2 2.3.1-3 .2 1.7.2-4.1.1 2 .2-3.8.1 1.3.2-1.3.2-.3.1 2 .2-3.1.1 1.1.2-1 .2 1.8.1-2.9.2.2.1.9.2-1.6.1 1 .2.4.2-2 .1.3.2-1.4.1 1.8.2-1.1.2.8.1-1 .2 1.3.1-.1.2 1.7.2.4.1-.5.2-.6.1 1 .2 1.6.2 1.7.1 1.2.2.8.1.4.2-.7.2 1.2.1-1.1.2 2.2.1-.6.2 1.5.2-3 .1.7.2 4.4.1-1.3.2-1.1.2 6.2.1-7.1.2 7.9.1-.3.2-6.7.2 7.7.1-1.1.2-4.1.1 4.1.2 2.3.1-7.7.2 1.9.2-1.7.1 6.3.2-6.8.1-.5.2-.3.2 6.4.1-5.9.2 6.7.1-8.6.2 3.6.2-3.2.1.2.2-.3.1 3.1.2-3.4.2.9.1 4.4.2-2.5.1-5.5.2 2.2.2 3.2.1-2.6.2-2 .1.2.2 2.4.2 2.5.1-1.3.2-2.1.1-.7.2 1.3.2 5.2.1-7.4.2-.2.1 0 .2 4.1.2-5 .1 2.3.2-.3.1.8.2-.2.1 3.6.2-5.1.2-1.2.1 5.8.2-5 .1-.5.2-.7.2 8.8.1-2.4.2-.1.1-4.7.2 6.8.2-7 .1 5.7.2 1.1.1-3.5.2-2.6.2 7.1.1-8.5.2 2.1.1 3.1.2.3.2-4 .1.9.2 1.3.1 5.4.2.2.2-8 .1 7.1.2-3.9.1-1 .2 2 .2-3.1.1 6.5.2.1.1-3.8.2-1.8.1 6.7.2 2.3.2-7.7.1 7.8.2-4 .1-3 .2 4.6.2-.2.1-4 .2 1.7.1-3.5.2 3 .2-3.9.1 1.1.2 3.6.1-.3.2-1.5.2 1.9.1-1.3.2-1.7.1.6.2-4.8.2-.7.1 2 .2 5 .1 2.3.2-6.8.2 7.2.1-1.2.2-5.7.1 3.8.2-2.2.2 4.8.1-3.2.2.8.1 1.9.2-2.2.2 4.7.1-1.6.2-5.1.1 4.4.2-1.5.1 4.1.2-.4.2-8.7.1 5.8.2-1.9.1-1.5.2-3.9.2 6.9.1-2.4.2 0 .1 3.3.2-7.3.2 2.9.1-2.7.2 2.9.1 7 .2-5 .2 4.5.1.7.2-2.6.1 2.9.2-5.4.2-1.2.1 1.2.2-1.1.1-.2.2-.7.2-.1.1-.1.2 3.5.1-2.7.2 5.8.2-3.7.1 2.6.2-2 .1 1.5.2.6.1-4.7.2-.9.2-1 .1 8.5.2-6.1.1 7 .2-2.2.2.8.1-7.1.2 7.6.1-7.9.2 6.2.2-7.5.1 7.8.2-8.5.1.6.2 2.4.2-2.6.1-.6.2 2.3.1-2.6.2 4.9.2 1.7.1-1.9.2.9.1-2.5.2 2.4.2 1.7.1 3.2.2-3.4.1 4.5.2-4.9.2 2.2.1 1.4.2-5.5.1 6.7.2 0 .2-6.4.1 4.7.2-2.4.1-2.4.2 0 .1-1.1.2 6.6.2-1.4.1-1.3.2-5.5.1 4.4.2-4.7.2 1.7.1-4.8.2 7.6.1-5.4.2 2.9.2-5.3.1.7.2 5.2.1-.3.2-.6.2-1.7.1 2.5.2 2.8.1-.5.2-.1.2-2.9.1.1.2 4 .1-5.7.2 2.1.2-3.1.1 1.6.2-2.3.1 5.2.2-.2.2-5.3.1 3.4.2-.1.1.6.2-1.2.2-4.4.1 4 .2-3 .1 2.3.2-3.4.1.1.2 8.2.2-3.8.1.5.2 1.4.1-5.3.2 5.6.2.6.1-5.8.2 6.7.1-2.7.2.2.2-1.7.1-2.2.2 1.5.1 0 .2 5.4.2-1.4.1 2.9.2-6.7.1 5.3.2-1 .2-2 .1 2.2.2-4.7.1 5 .2-4 .2 2.5.1 1.3.2-3.7.1 6.6.2-7.1.2 6.9.1.7.2-1.4.1-3.1.2 2.8.1-1.5.2 2.8.2-2.6.1-5 .2 3.3.1-4 .2 3.5.2-3.4.1 2.9.2 2.3.1-6.1.2 2.2.2-2.3.1 1.4.2-.3.1-2.8.2.6.2.1.1-2.6.2-3.1.1-1.6.2-3.4.2-2.5.1-2.4.2-2.9.1-1.7.2-1.9.2-.2.1 0 .2.7.1 1.2.2 1.5.2 2.4.1 1.5.2 2.3.1 3 .2 3.8.2 1.2.1 2.3.2.8.1 2.8.2 2.6.1.4.2-2.1.2 2.9.1 1 .2-1.4.1-.2.2 5.5.2-5.2.1 2.2.2 2.7.1 1.3.2-4.4.2-1.8.1 6.8.2-2.4.1.3.2-1.2.2-.2.1-5.8.2 0 .1 6 .2-5.2.2 2.5.1.8.2-1.6.1-3.7.2 4.7.2-.6.1-1.2.2 1.6.1 1.4.2-4.3.2 3.1.1-1.5.2 2.5.1-2.9.2 1.9.1-.1.2-3 .2.3.1 2.4.2 0 .1 2.3.2-2.7.2-.7.1 3.7.2.2.1-3.5.2.2.2 4.5.1-4.4.2 4.5.1-5 .2.3.2 1.2.1 1.9.2-1.1.1-1.5.2-1.2.2-.3.1 6.8.2-1.2.1-.2.2-1.4.2-.7.1-.9.2 2 .1-2.1.2 3.8.2-5.2.1 1.9.2 2.8.1-1.7.2 1.5.2-.3.1-3.1.2.1.1-3.3.2 2.4.1 4.4.2-7.7.2 6.7.1-.9.2-1.1.1-5.4.2 5.3.2.9.1-5.5.2-1.7.1.1.2.7.2-.1.1-1.5.2 1.2.1 1.3.2 3.3.2 2.3.1-7.6.2 7.8.1.4.2 1.1.2-3.4.1-.6.2-1 .1.7.2-.4.2 0 .1 1 .2-3.1.1.2.2 2.1.2-3.6.1 6.3.2-1.2.1-3.7.2 4.1.2 1.7.1-1.4.2-3.7.1 2.7.2 1.1.1 1.2.2-3.2.2-.8.1 1.3.2-2.5.1 6.5.2-1.4.2-1.1.1.1.2 2.9.1-7.4.2 6.3.2-5.1.1 1.1.2-1 .1-1.3.2 0 .2 1.1.1-2.1.2-.9.1-1.7.2 2.3.2 1.4.1-3.5.2-.1.1 5.9.2-6.3.2.5.1 1.6.2 2.1.1-.3.2-1 .2-1.2.1-.4.2-2.5.1 4.5.2.9.1 1 .2-4.7.2 1.5.1-.9.2 3.4.1.4.2-3 .2.6.1 4.8.2-1.8.1-2.3.2 1.3.2.7.1 1.9.2.9.1.1.2-3.7.2 0 .1 3.5.2.5.1-3.3.2 2.4.2 1.6.1-.5.2.4.1-1.8.2-.7.2.6.1.2.2-2.5.1 2.1.2-2 .2 2.5.1-3.6.2 1.8.1-.1.2-.9.2-1.1.1.3.2-3.8.1.6.2 1.7.1-2.1.2-1 .2-.7.1-.2.2-1.2.1 1.6.2-2.3.2 1.4.1-2.4.2-.4.1-.3.2-2.1.2-1.8.1-1.5.2-4.3.1-6.3.2-8.1.2-10.8.1-12.6.2-14.2.1-14.2.2-12.4.2-8.2.1-2.2.2 2.2.1 5.6.2 6.7.2 6.5.1 6.6.2 7.1.1 8.2.2 9.4.2 9.3.1 9.1.2 7.5.1 6.5.2 5.6.1 3 .2 3.3.2 2.1.1.2.2 1.3.1.7.2 0 .2.9.1.4.2 1.9.1.9.2-2.9.2 2.3.1.2.2-1.2.1 2.2.2-1.5.2-1.1.1.1.2 2.8.1 1.5.2-1.4.2 2.1.1-2.9.2.3.1 3.2.2-2.1.2 1.8.1-.2.2-.7.1 1.6.2-.1.2 1.7.1-.4.2-.8.1-1.8.2 1.6.2-1.8.1 3.9.2-1.3.1-2.4.2 3.9.1 0 .2 1.4.2.4.1-2.7.2-1.9.1.1.2-.7.2.7.1 3.4.2-4.6.1 2.6.2 1.1.2-3 .1 2.5.2.2.1-.7.2-3.2.2 3.7.1-3.1.2-.4.1 5.2.2-.1.2.4.1-5.2.2 1.2.1-1 .2.6.2-1.5.1 2.2.2 1.2.1.5.2-1.4.2-2.5.1-1.1.2-.6.1 1.5.2.1.2-2 .1 1.5.2-2.8.1-.3.2 4.7.1-3.4.2 4.4.2.8.1-4 .2.8.1 2 .2-1.2.2-1.1.1 2.8.2-2 .1 2.2.2-2 .2 2.2.1.5.2-3.7.1 3.5.2-1.7.2-.7.1-.6.2-2.2.1-1.5.2 1.2.2-2.1.1-.1.2-3.3.1-1.2.2-2.6.2-3 .1-3.2.2-3.4.1-2.4.2-3 .2-1.8.1-.7.2.6.1-.4.2.8.1 1.8.2 2 .2 2.1.1 1.7.2 3 .1 2.5.2 2.7.2 2.3.1 1.8.2 1.3.1 1.3.2 2 .2-.6.1 1.8.2-1.5.1 1.1.2-1 .2.3.1.3.2.1.1.9.2.2.2 4.3.1-1.3.2-2.2.1 1.2.2 4 .2-.7.1-1.6.2-1.6.1 2.1.2-.3.2-.4.1 4 .2-1 .1-.5.2-1.3.2 1.6.1.2.2-1.8.1-1 .2-.6.1 1.9.2-1.9.2.2.1 4.3.2-4.4.1 1.2.2 4 .2-1.4.1-.9.2-3.7.1-.2.2-.4.2.4.1-.1.2-.6.1-.1.2 5.8.2.5.1-1.7.2.8.1-2.4.2 1.2.2-.1.1 2.1.2-2.7.1.3.2-1.1.2 3.1.1 1.8.2-2.2.1-3.6.2.4.2 2.2.1-.5.2-1.3.1-2.4.2.7.1.7.2 2.3.2 1 .1.5.2.2.1-3.4.2 3.9.2-3.7.1.5.2 0 .1.3.2.6.2 1.6.1-3.2.2 0 .1 1.9.2-1.4.2 2.6.1-5.5.2 0 .1 1.8.2-2.1.2 2.9.1-1.6.2.2.1.3.2.3.2-1.1.1-.9.2 1.8.1-2.6.2.9.2 1.1.1-1.1.2 1.3.1 0 .2-.2.2-.8.1-1.1.2.1.1.6.2.3.1-.6.2-1.2.2-.5.1-2.6.2 0 .1-.1.2-2.1.2-2 .1-2.1.2-3.5.1-3.6.2-3.2.2-4.5.1-4.7.2-4.9.1-4.6.2-4.1.2-3.3.1-2.5.2-.2.1-.2.2 1.3.2 1.8.1 2.6.2 2.6.1 3.2.2 3.4.2 3.8.1 3.9.2 3.5.1 3.3.2 3.2.2 3.1.1 3.2.2 1.9.1 1.7.2.6.2 1.7.1 1.6.2 1.3.1.8.2-.5.1 1.7.2-1.8.2 1.8.1 1.1.2 1 .1.7.2-.7.2.1.1-1 .2.1.1-.6.2 2.7.2-2.5.1-.6.2 2.7.1-1.5.2-.3.2 2.5.1-4.3.2.2.1 2.5.2-2.6.2 4.7.1.7.2-3.4.1 3.6.2-1.9.2 1 .1-.3.2 3.1.1-3 .2 3.8.2-3.3.1-.4.2 4.5.1-5.6.2.1.1 2.6.2 1.9.2-.7.1-1.1.2-4.5.1.2.2 4.6.2 0 .1 1.3.2-4 .1 1.3.2-1.8.2-1.2.1 3.9.2 0 .1-4.1.2 3.3.2 1.7.1-.6.2-3 .1-1.9.2 1.5.2-.5.1 1.7.2.9.1.2.2-1.9.2 1.5.1-.6.2 4.3.1-.3.2.9.2-3.7.1 2.6.2-4.3.1.9.2.1.2-.7.1-.7.2 4.6.1-3.1.2 1.8.1-3.2.2 3.2.2.1.1 1.5.2-4 .1 4.4.2-.5.2-4.4.1 1.6.2-.2.1 3.8.2-2.1.2-3.5.1 2 .2 1.4.1-4.4.2 3.9.2-.5.1.4.2-3.6.1 4.6.2-3.3.2 1.6.1-2.3.2-1.1.1.2.2 2.8.2 1.7.1-1.3.2-3.4.1-.4.2 4.6.2-3.1.1 1.9.2-1.1.1-.5.2.2.1-2.4.2-.5.2-1.3.1 3.7.2-3.7.1 2.9.2-3.2.2 1.8.1.7.2-1.4.1-.4.2-.7.2-1.9.1 1.4.2-1.8.1-1 .2-2.2.2-3.4.1-2.2.2-3.9.1-4.6.2-4.8.2-5.5.1-6.6.2-6.2.1-6.4.2-5.6.2-4.4.1-3 .2-.7.1.2.2 1.8.2 2.6.1 3 .2 3.5.1 3.7.2 4.1.2 4.8.1 4.9.2 4.7.1 4.5.2 4.6.1 4.2.2 3.1.2 3.6.1 1.6.2 2.7.1 1 .2.4.2 1.3.1.2.2 1.7.1 1.4.2.1.2-.1.1-1.9.2 2.5.1 1.1.2-1.5.2 1.1.1.3.2.7.1-1.4.2 2.3.2-.8.1 1.6.2-2.1.1 1.3.2-.9.2 3.7.1 1.2.2-1 .1-1.5.2.5.2 1.2.1-2 .2-.9.1 5.2.2-2.1.2 1.6.1-1.5.2-1.1.1-1.4.2 3.6.1-.4.2-3.4.2.8.1 5.2.2-1.5.1-3.4.2.9.2 1.8.1 1 .2-5.2.1 3.5.2-.7.2.8.1-4.3.2 2 .1 2 .2-2.5.2 2.2.1-.7.2 1.2.1 2.4.2-.4.2-4.6.1 4.3.2-4.5.1 2.1.2 2.9.2.3.1 1.4.2-5.6.1 1.7.2.8.2.8.1.5.2-4.5.1-1.3.2.5.1 3.9.2-5.3.2 1.3.1 4.6.2 1 .1-3.9.2 2.5.2-3 .1-1.1.2 2.2.1-3.7.2 2.4.2 1.3.1 2 .2-.8.1-5.6.2 1.6.2-2.9.1.1.2 7.7.1-6.1.2 1.8.2 3.4.1-3.6.2 1.9.1-2.1.2 5.6.2-3.6.1-1.4.2 1 .1 2.2.2-1.4.2-1.2.1-.2.2.5.1 1 .2-.8.2 2.7.1-2.5.2-1.8.1 0 .2 2.6.1 5.2.2-4.3.2-.1.1-2.8.2 3.8.1-3.7.2 1.7.2-.2.1 1.2.2-1.4.1.3.2-1.5.2 3.9.1-1.8.2 4.7.1-.5.2-2.7.2 3.6.1-4.8.2-2.3.1 6.6.2.8.2-7.5.1 3 .2-2.9.1 5.4.2 1.6.2-5.8.1 5.5.2-1.5.1-2.9.2.7.2-.2.1-.2.2 2.6.1-4.2.2 6.9.1-4.7.2.1.2 2.6.1-5.6.2 1.1.1 4.1.2-.1.2-1.3.1 2.3.2-.6.1.9.2 1.3.2-.8.1 1.2.2-3.4.1 3.2.2-.7.2-6.3.1 4.2.2 3.1.1-4.1.2-.8.2-.3.1 3.7.2-4 .1-1.4.2 4 .2 2.5.1-3.1.2-4.8.1.6.2 1.7.2 3.5.1 1.4.2-1.3.1-5.8.2 4.6.2.6.1-3 .2-2.2.1 2.3.2-.9.1-1 .2-3 .2 2 .1 4 .2-3.7.1 2.8.2-2.1.2-1.7.1 4.4.2 1.5.1-1.6.2.2.2-2.9.1 4.1.2.9.1-3.2.2 1.1.2-5.2.1-.4.2 5.2.1-2.6.2-.4.2 2.8.1-4.6.2 4.7.1 1.4.2.6.2-5.8.1.7.2 6.3.1.8.2.1.2-3.1.1-2.1.2 3.7.1-4.4.2 4.2.2-4.3.1-4.7.2-.5.1 7.1.2-5.3.1-1.2.2-1.1.2 2.3.1 5.3.2-7.8.1 6.9.2-3.4.2 3.6.1.9.2.8.1-5.8.2 4.8.2-4.5.1 1 .2.5.1 6.9.2-.2.2-.8.1-4.2.2-.3.1 5.8.2-1.6.2 2.7.1-1 .2-2.8.1 1.6.2 2.3.2-3.1.1-3.7.2 3.2.1 2.6.2-1.5.2 2 .1-.8.2-1.1.1 1.1.2-4 .1-.4.2-.2.2 3 .1.2.2-1 .1 4.7.2-4.8.2-1.5.1 3.2.2-1.1.1-3.3.2 3.1.2-.5.1 3.3.2-2.5.1-3.7.2 5.9.2-1 .1.4.2-4.3.1-1.2.2 5.4.2-.4.1-1.4.2-4.8.1 2.6.2-2.6.2 6.9.1-5.9.2 5.1.1-1 .2-1.7.2 1.7.1-3.6.2-1.8.1 6.7.2-3.3.2-3 .1 3.3.2 2.4.1.7.2.1.1-5 .2-1.4.2 7.4.1-3.6.2-2.1.1-1 .2 5.9.2-6.3.1 5.9.2-1.3.1-4.3.2 5.3.2-.1.1-6.7.2 2.9.1 0 .2-.8.2 3.9.1-3.7.2 1.6.1 1.5.2-.3.2-1.9.1 1.8.2-3.2.1 1.2.2-3.9.2 1.1.1-.9.2.5.1-2.7.2-.4.2.7.1.7.2-.9.1-1.9.2-1.5.1.9.2-1.6.2-.4.1.5.2.1.1-1 .2 1.9.2-1 .1-.1.2 1.5.1-.3.2 2.8.2-1.1.1 1 .2 1.2.1-1.3.2 1.1.2-.9.1 1.9.2-1.5.1-.2.2 2.7.2-2.4.1-.6.2 3.6.1-1.6.2.7.2-1.2.1 0 .2 2.8.1-5.7.2 6.6.2-2.6.1 1.2.2 2.3.1-1.6.2-5.6.2 6.8.1.2.2 1.8.1-5.1.2 5.2.1.1.2-.7.2 2 .1-3.8.2 2.2.1 1.5.2 3.5.2-1.5.1-5.2.2 6.8.1-.7.2.6.2-.3.1-1.2.2-1.4.1-4.2.2 2.7.2 2.2.1.3.2-7.1.1 3.9.2-3.5.2 2.2.1-2.3.2-1 .1 3.4.2-1.9.2.7.1 4 .2-1.9.1-3.4.2.2.2 2.2.1-3.9.2 6.5.1-.6.2-5.4.2.4.1.3.2 4.1.1-1.4.2 2.5.1.9.2 3.2.2-2.4.1-4 .2 2.2.1 4.3.2-.4.2-.1.1-1 .2-4.6.1.1.2.5.2-1.2.1 2.5.2-2.8.1 3.6.2-6.3.2 5.1.1-4.1.2 4.7.1.3.2-3 .2-4.6.1.2.2 5.8.1-4.1.2 2.5.2 2.7.1.2.2 1.7.1-3 .2-2.2.2 1.4.1-.6.2-.9.1 5.1.2-1.3.1-4.5.2 4.7.2.1.1-4.5.2 1.1.1-.8.2.8.2 2.3.1 0 .2-5.2.1-.1.2 5.6.2-2.3.1 4.6.2-6.2.1 2.2.2 3 .2 1.5.1-3.2.2 1.2.1-1.4.2-.6.2.6.1 2.8.2-.8.1-4.5.2 4.3.2 2.1.1-4.1.2 3.6.1-.9.2-2.2.2-3.6.1 3.9.2-2.1.1 5.9.2-1 .2-2.4.1 1.5.2 1 .1 1.4.2-2.2.1-2.2.2-2.2.2 5.4.1-6.3.2-.7.1 6.1.2-.6.2-3 .1 3.8.2.5.1-4.1.2-3.1.2 1.1.1 2.7.2-1.5.1-1.1.2 2.4.2.5.1 1.9.2.9.1-2.1.2 3.2.2-6.6.1 2.1.2-1.6.1.3.2-2.6.2 3.8.1.6.2-4.1.1-.6.2-.4.2 3.1.1 3.5.2-7.6.1-.1.2 6.4.1-4.3.2 1.5.2 1.7.1-4.2.2 5.7.1-5.2.2.8.2 4.1.1-3.6.2-2.7.1.7.2 5.3.2-3.5.1.2.2-2.3.1.5.2 1.5.2 1.7.1 6.3.2-3.6.1-3.9.2 4.2.2-1.9.1 4.9.2.8.1-4 .2 1.6.2-3.7.1-1.8.2 3.5.1-5.3.2 3.2.2 2.2.1-5.5.2 4.3.1-4.3.2 4.1.2-3.9.1 2.2.2-.3.1-2.2.2 4.8.1-4.1.2 4.5.2-1 .1 2.6.2-3.2.1-3 .2 1.6.2 2 .1-4.5.2.2.1-.9.2 3.1.2-3.3.1-1.2.2 1.6.1-2.3.2.5.2-.1.1-1.2.2-.1.1-2.2.2.9.2-.5.1-.1.2.2.1.3.2-.9.2.9.1 1.5.2-.4.1 1.5.2.5.2 1.3.1-1.1.2 2.5.1 1 .2-1.1.2-.7.1-.8.2 4.4.1 1 .2-.9.1-3 .2 4.1.2-2.6.1-1 .2 2.3.1-3 .2 1.1.2 4.2.1 3.4.2.5.1-2.1.2-3.1.2-2.2.1 6.9.2-6.4.1 6.1.2-.2.2-5.4.1 5.2.2-2.1.1-2.1.2 3.8.2-5 .1 2.9.2-4.6.1 6.2.2-1.8.2-2.5.1-2.7.2 7.7.1-4 .2 4.3.2 1.1.1-2.7.2-.5.1-.8.2 2.2.1 0 .2-2 .2.9.1 5.5.2.5.1-3.6.2 4.1.2-3.6.1-3.2.2 2.9.1-1 .2-.3.2 1 .1-6.7.2-2 .1 2.5.2-2.9.2 1.6.1 1.4.2-5 .1 2.5.2 2.3.2-.2.1-5.7.2 2.7.1 1.3.2 2.5.2-.4.1.1.2 1.2.1 2.6.2-4.2.2 3.6.1 4.1.2-2.6.1 1.1.2.1.2.7.1-7.3.2-.3.1.4.2 1 .1-2.4.2 4.6.2 1 .1 0 .2-2.7.1-.2.2-1.2.2 5.8.1-1.1.2.3.1-2.4.2-3.6.2.3.1-.2.2 7.2.1-7.2.2 3.6.2 1.3.1 1 .2-2.5.1 1.1.2-2.1.2 3.8.1-6.1.2.7.1 1.4.2 2.5.2-2.4.1-1.9.2 6.6.1-6.4.2 1.1.2 5.5.1-1.7.2-1.3.1.4.2-3.8.1 3 .2-3.3.2 0 .1 1.7.2-1.4.1 3.5.2-5.2.2-.3.1 4.4.2-5.5.1 1.6.2 5.1.2-5.5.1 1 .2 5.3.1-2.4.2-2.6.2.9.1 4.7.2-3.1.1 2 .2 1.8.2.3.1-2.5.2-3.2.1 2.1.2 1.9.2-.8.1-2.9.2 3.4.1-.2.2-3.8.2 1.1.1-.9.2-1.6.1 5.5.2-.4.2-5.8.1.4.2 4.3.1-5.8.2 1.5.1 1.8.2.7.2 1.7.1-3.9.2.4.1-.7.2 1.2.2 2.7.1-2 .2 1.1.1-.2.2-1.2.2-2.2.1-1.7.2-2.4.1-6.2.2-7.6.2-10.4.1-13.8.2-16.9.1-18.6.2-18.6.2-15.4.1-9.5.2-1.4.1 6.2.2 11.5.2 13.3.1 12.1.2 8.9.1 4.9.2 1.2.2-.6.1-.4.2 1.7.1 5 .2 7.8.2 9.4.1 10.2.2 8.9.1 8.1.2 6.5.1 4.6.2.5.2 1.2.1 4.3.2-1.3.1 1 .2 2.5.2-1.4.1 1 .2-.4.1-1.9.2-.8.2 2.3.1 2 .2-.3.1.1.2-4.1.2-.5.1 3.8.2-1.4.1 3.6.2-6.2.2 6 .1-.3.2-7.3.1 1.3.2 4.5.2-1.4.1-2.9.2 5.4.1-.2.2-1.9.2-.6.1 4.2.2-4.4.1 2.8.2 0 .1-3.3.2 5 .2-3.1.1 1.3.2-.9.1.1.2 4.4.2-5.1.1 4.2.2.6.1.5.2-4.4.2-2.3.1 4 .2-5 .1 6.7.2-7.8.2 6.5.1-2.9.2-.3.1-.4.2-2.6.2 5.2.1-.8.2.6.1-.4.2 3 .2-3.8.1 3.9.2-7.4.1 2.7.2 1.4.2-4.9.1 4.4.2-3.5.1 6.7.2-1.7.2-1.7.1.6.2 1.1.1-1.6.2 2.6.1-7.5.2 4.6.2-4.2.1 3 .2 2.3.1.8.2-4.6.2 5.2.1.1.2-4.9.1 1.1.2 3.1.2 3 .1-4 .2 2.9.1-5.4.2 6.2.2-1.6.1-4.4.2-.9.1 4.2.2 1.8.2-2.4.1-4.5.2 2.3.1 1.5.2-3.8.2.2.1 3.2.2-2.6.1 5.4.2-3.7.2 3.5.1-4.1.2-.8.1 2.8.2-1.1.1-.9.2-3 .2-.2.1 6.6.2-4 .1 4.7.2-5.9.2 4.1.1.9.2 1 .1-4.7.2 4.3.2-5.4.1 7 .2-7 .1 2.8.2 3.1.2-5 .1 1.1.2-.8.1.7.2-.2.2-2.9.1-2.4.2 4.4.1 2.2.2-1.4.2 2.3.1-5.8.2 1.1.1 4.3.2-5.6.2 1.6.1-1.8.2.2.1.9.2-3.6.2-2.4.1-1.9.2-2 .1-2.9.2-2.9.1-2.4.2-2.6.2-1.5.1-.8.2-.3.1.5.2 1.2.2.9.1 1.6.2 1.5.1 1.3.2.7.2.7.1 2 .2.3.1 2.3.2 1.6.2 2.5.1 1 .2.4.1.9.2 4.1.2-.3.1 3.3.2.5.1-1.5.2 3.2.2-4.7.1 4.3.2 1.2.1-7.2.2 3.5.2 2.3.1-2.1.2 1.7.1-4 .2 2.5.2-3.5.1 6.5.2-1.8.1-1.3.2 2.1.1 2 .2-6.2.2 2 .1 2.2.2-1.3.1.5.2 2.9.2-5.9.1 1.5.2-.8.1.6.2 2.8.2 1.9.1-3.2.2 1.1.1.1.2 2.5.2-5.9.1 5.1.2 2.7.1-2.2.2.2.2-1.3.1-3.7.2 5.6.1-6.9.2 5.3.2-4.3.1 3.4.2-4.9.1 5.8.2-1.6.2-5.7.1 1.4.2-.2.1-.7.2 2.3.1-2 .2 6.3.2-5.7.1 2.9.2-2.6.1 3.2.2.2.2-4.8.1.3.2 7.9.1-2 .2 1.6.2-2.5.1 1.6.2-6.1.1 2.4.2 1.9.2-.1.1-1.7.2-2.8.1 3.8.2 3.6.2-2.1.1.7.2 1.8.1-.1.2-1.1.2 1.3.1-5.2.2 6.2.1-3.2.2-2.7.2 1.8.1 5.6.2.8.1.1.2.3.2 1 .1-4.3.2-3.5.1.1.2 5.3.1-2.4.2-2.2.2 0 .1-.1.2.9.1 4.3.2-2.4.2-5.1.1 1.2.2 1.8.1 1 .2-5.3.2 3.6.1-1.9.2 3.2.1-7.2.2 3.4.2.2.1 1.8.2-1.4.1 1.8.2-2.7.2-3 .1 3.3.2-2.9.1 5.8.2-5.9.2-.2.1 3.1.2-2 .1.1.2-.3.2-1.2.1 6 .2-2.1.1 2 .2-.5.1 1.3.2-6.4.2 7.2.1-5.3.2 1.6.1 3.6.2-.6.2.1.1 1.4.2-1.2.1 2.6.2-.8.2-.2.1.2.2-.1.1-.2.2-.9.2-1.5.1-3.6.2 4.8.1-3.8.2 2.3.2-2.5.1.8.2.4.1 2.7.2 1 .2-1.8.1-3.4.2 4.7.1-1.6.2 1 .2-3.2.1 1.9.2-2.6.1 1.1.2-2.9.2.7.1-.8.2 1 .1-3.4.2.3.1.1.2-2.7.2-.7.1.8.2-3.2.1-.1.2-.1.2-1.6.1.7.2-1.4.1.9.2-.1.2-.8.1-.8.2 1.2.1-.8.2.7.2.3.1.9.2 2 .1.4.2-.7.2 1.1.1 2.6.2.3.1.6.2 1.4.2 1 .1-2.2.2 2.2.1-.6.2 4.1.2-.3.1.1.2 1.9.1-.6.2-1.8.2-2.4.1 2.9.2 2.2.1-6.4.2 6.4.1-3.4.2-.8.2 1.1.1 3.2.2-1.1.1.9.2-.8.2-5.6.1 7.9.2-2 .1-3 .2-.9.2 4.6.1-2.3.2 3.9.1 1 .2-2.3.2 2.4.1-7.5.2 3.3.1-2.3.2-.7.2 6.4.1-7.5.2 4 .1 2.1.2-3.2.2-1.9.1 4.6.2-1.1.1-.6.2-2.3.2 5.2.1-3.3.2.2.1 3.7.2-3.5.1-1.2.2 5.3.2-2.1.1 2.9.2-2 .1 2.6.2-.4.2-2.9.1-1.1.2 1.7.1 3.5.2-1.8.2 1.7.1 0 .2 2.7.1-4.5.2 1.1.2-3.1.1 3 .2-4.9.1 2.1.2.4.2 4.3.1-7 .2 1.7.1 1.1.2-1 .2 2.2.1 4.1.2-2.4.1 3.6.2-4.5.2-2.4.1 5.5.2-5.1.1 4.9.2-2.7.2-2.3.1 2.1.2-.1.1 1.4.2-3.6.1.5.2-1.6.2-1.2.1 6.5.2-5.2.1.8.2-2.1.2 1.2.1 1 .2 4.1.1 0 .2-.5.2-2.7.1 2.2.2-7 .1 3.7.2-1.8.2-.8.1-3 .2 6.9.1-.8.2-1 .2-6.7.1 5.7.2-3.5.1-2.8.2 3.9.2-3 .1 4.8.2-.4.1-4.3.2 2.3.2 3.8.1.9.2 0 .1-3.5.2 5.3.1 2.1.2-4.5.2-1.3.1 4.6.2-2.3.1-3.8.2.5.2-.7.1 3.1.2-1.1.1-.3.2-4.6.2.7.1-.5.2-.5.1-.4.2-2.8.2-1.8.1.6.2-.2.1-2.2.2.4.2-1.3.1.4.2-1 .1-.6.2-1.4.2-.2.1.4.2-.1.1.2.2-.6.2 0 .1.4.2 1.2.1.4.2.3.2 1.3.1.9.2 1 .1.1.2 1.2.1 1.3.2-.5.2 1.7.1-1 .2 0 .1 3.4.2 0 .2-.9.1 1.8.2.9.1-1 .2 1.8.2-4.2.1 6.4.2.3.1-.7.2 2.1.2-2.1.1.8.2-3.2.1.4.2 3 .2.1.1 4.2.2-.4.1-4.6.2 1.5.2-1.1.1 2.2.2.3.1-4.3.2 1.2.2-.4.1 1.9.2-1.2.1.4.2-1.5.2-1.1.1.4.2-2.4.1 2.6.2-2.5.1 2.2.2.5.2-4.5.1 1 .2 1.5.1-2.9.2 2.5.2-3.9.1-.5.2-2.9.1-2.8.2-4.9.2-5.7.1-7.3.2-7.5.1-8.1.2-8.9.2-8.2.1-7.3.2-5.9.1-3.3.2-.9.2 1.3.1 3.4.2 4.5.1 4.9.2 4.6.2 4.1.1 3.3.2 2.4.1 1.7.2 1.5.2 1.9.1 2.4.2 3.1.1 3.7.2 4.2.1 4.7.2 4.5.2 5 .1 3.6.2 3.3.1 2.5.2 2.9.2.9.1 3.3.2.9.1-2.6.2 3.1.2.6.1 3 .2-.9.1 2.1.2-2.7.2 2.2.1-4.3.2 2.5.1-.1.2 3.9.2-4.1.1 2.7.2-4.9.1 2.1.2-.5.2-1.7.1.5.2-2.5.1 4.5.2 2.6.2-5.3.1.1.2-1.1.1 5.7.2.2.2-6 .1 5.4.2-2.1.1-1.5.2 2.5.1-.8.2.2.2-4.4.1-.7.2 5.3.1-6 .2 4.5.2-2.5.1 1.8.2-1.3.1 3.6.2-1.1.2 1 .1-6.7.2 5.3.1-4 .2 1.9.2 5.7.1-1.2.2.7.1-2.4.2 4.3.2-1.8.1 1.2.2-4.7.1-.6.2 6.7.2-2.7.1 2 .2-1.6.1-1.8.2-1.4.2 5.7.1-5.5.2-1.8.1 3.1.2 1.2.1 1.8.2-5.1.2 3 .1-1.9.2-1.9.1 5.5.2-3 .2 2.3.1-3.5.2 4.8.1-6.5.2-.8.2 4.3.1-2.1.2-3.3.1 1.8.2 1 .2-.3.1-4.7.2 7.6.1-1.9.2 2.4.2-3 .1-3.1.2 1.3.1 4.2.2-1.1.2-2.7.1 4.2.2-1.1.1-1.1.2-1.4.2 1 .1 1.8.2 2.3.1-.6.2-2.5.2 5.9.1-6.8.2 1.6.1-3 .2 2.6.1.4.2-.4.2-.1.1-4.4.2 4.7.1-2.6.2 2.9.2.5.1-.1.2-.3.1-2.5.2-.4.2-2.1.1 1.4.2-1.4.1 2 .2 3.3.2-2.6.1-5.1.2 3.2.1 3.3.2-4.7.2 4 .1-5.2.2-.2.1 1.4.2.6.2 3.5.1-5.5.2 5.3.1-.9.2-5.2.2 1.9.1 2.4.2-2.8.1 2.4.2 2.2.2-.2.1-2.2.2 3.2.1-3.3.2-.6.1 1.2.2-2.2.2 6.6.1-6.1.2 2.8.1-1.4.2.9.2-3.7.1 6.5.2-3.5.1-.6.2-2.2.2 5.4.1-5.4.2 4.6.1-1.7.2.2.2-1.3.1 2.9.2-.5.1-2.3.2 6.2.2 2.3.1.4.2-1.3.1 2.2.2-2 .2-3.1.1 1.8.2 2.1.1-.5.2 2.8.2.3.1-4.1.2-.4.1-.5.2-.8.1 1.2.2-2.2.2-2.2.1 1.4.2 2.1.1-1 .2 2.6.2 2.2.1-1.5.2-.6.1.1.2.9.2-1.3.1-2.4.2 6.2.1-4.6.2 1.8.2 1.3.1-5.8.2-.2.1-1.1.2 3 .2-3.7.1-.2.2-1 .1 2.7.2-3 .2.2.1 2 .2 1.3.1-3 .2-2.6.2 2.3.1-2.7.2 1.2.1 1.6.2-3.4.2-1.1.1.5.2-.2.1-.1.2-.3.1-.7.2-2.5.2 1.2.1-1.7.2-.2.1.3.2-.4.2.3.1.5.2.6.1-.8.2.3.2.5.1.2.2.8.1 1 .2.1.2 2 .1.4.2 1.4.1-.4.2-1.2.2 1.7.1 2.9.2-.7.1 1.6.2.6.2-2.5.1.7.2 2.8.1.1.2 1.9.2 2.2.1-3 .2 4.8.1.9.2-5.7.1 4 .2 1.9.2-5.6.1 3.6.2.1.1.1.2-5.1.2-.1.1 6.4.2-6.9.1 2.5.2.6.2 4.5.1-3.7.2 3.4.1-3.5.2 3.1.2-6.7.1 6.7.2.1.1-3.3.2 4.5.2-5.5.1-.5.2 4.7.1-5.6.2 2 .2 5 .1-3.1.2.4.1-4 .2-.4.2 3.3.1-1.9.2-4 .1 1 .2-.6.2 4.8.1-3 .2-.2.1-2.6.2-.7.1 2.1.2-2.7.2 3.6.1-2.4.2.1.1-3 .2 5.5.2.1.1-2.2.2.9.1-3.8.2-.5.2 6.1.1-3.6.2.8.1.6.2 4.6.2-.2.1-2.5.2-1.4.1-2.5.2 4.4.2 2.6.1.9.2-5.4.1 3.3.2-2.5.2 1.4.1 4.1.2-6.2.1 6.2.2-7.3.2.1.1 2.7.2 3.7.1-.3.2.9.2-.3.1-3 .2.1.1.1.2-.3.1 2.7.2-5.3.2-.9.1 4.9.2-5.1.1 3.7.2-3.7.2 3.1.1 1.3.2-1.3.1.6.2-1.1.2 2.9.1-1.9.2.8.1-.7.2-4 .2 1.3.1 1 .2 2 .1-1.9.2 3.1.2-3.4.1 1.1.2-3 .1 6.3.2 1.2.2-5.7.1 5.5.2-2.8.1-2.6.2.9.2 2.8.1-4.8.2 3.3.1-2.5.2 1.4.1-4.9.2 4.1.2-3.6.1-2.2.2 1.8.1-.9.2-1.7.2.3.1.6.2-1.8.1-1.6.2-2.1.2-1.5.1-.4.2-3 .1-1.2.2-.7.2-.8.1-2 .2-.6.1.7.2-.5.2.8.1.6.2.9.1 1.9.2.8.2 1.9.1 1.5.2 1.1.1 2.8.2.8.2.3.1 2.6.2.9.1-.4.2 2 .2-1.9.1 2.1.2-.9.1-1.1.2.3.1 2 .2 2.1.2.7.1-5.3.2 3.8.1-3.4.2.8.2 4.9.1-4.7.2 1.2.1 3.5.2-5.9.2 3.7.1-3.3.2 2.1.1-1.8.2 1.5.2.3.1-2 .2-.6.1.6.2-2.6.2-1.8.1-3.5.2-3.2.1-2.1.2-2.9.2-2.4.1-1.2.2-1.7.1 0 .2-.3.2.7.1 1.4.2 2.1.1 1.6.2.9.1 1.2.2 2 .2.2.1.3.2-.3.1 1.5.2-.2.2.3.1.3.2 1.8.1 2.1.2 1.9.2-.4.1 1.5.2-.1.1 2.2.2-.7.2 2.5.1-.6.2-1.4.1.3.2-1.2.2 1 .1-2.8.2-.3.1-1.2.2 1.2.2-1.4.1-2.1.2-1.9.1-.8.2-1.6.2-1.1.1-.7.2-.1.1-.9.2 0 .2.2.1-.1.2 2 .1.6.2 1.8.1 1.6.2 0 .2 2.5.1 1.2.2-.1.1 2.9.2 1.3.2-.8.1 1.1.2.9.1-2.1.2 4.4.2-4.7.1 1.2.2 1.5.1-.3.2 1.5.2-4.9.1 3.3.2-4 .1 4.4.2-.8.2 2.7.1.3.2-6 .1 2.4.2 3.5.2-1.4.1-1.8.2 7 .1 1.5.2-5.4.2.5.1 4.6.2-2.3.1 4.4.2-4.7.2 1.5.1 1.6.2-2.4.1 3.5.2-4.1.1.3.2 4 .2-4.6.1 5.4.2-1.2.1-6.4.2 7.1.2-6.3.1-1.1.2 5.3.1-1.5.2 3.1.2-2.7.1-2.2.2.1.1 1.4.2-.8.2.3.1 3.9.2-2.6.1-.7.2 2.6.2-2.8.1-.7.2-3.9.1 6.8.2-7 .2 1.7.1-3.4.2 3.5.1-3.2.2 3.1.2 2.4.1-6.5.2 2.5.1 4.4.2-6.8.1 2.1.2.5.2 5.4.1-2.2.2 3.8.1.6.2-.9.2-2.9.1 4.7.2-4.9.1 3.2.2 3.1.2-.1.1-2.1.2-6.2.1 4 .2 2.8.2-1.1.1-7.1.2.8.1.5.2 1.4.2 2.5.1-.8.2-.7.1-1.2.2 2.8.2-3.2.1-1.7.2 1.9.1-2.8.2 3.1.2 3.6.1-6.6.2-.2.1 1.8.2 2 .2-2.1.1-1.6.2 1 .1 3.4.2-2.2.1 5.1.2-2.7.2 3.3.1-4.6.2-1.5.1 4.4.2-.4.2.6.1-1.2.2 2.4.1-4.8.2 5.9.2-3.7.1 2.6.2-.5.1-.6.2 1.5.2-1.8.1-1.1.2-.6.1-2 .2 2.8.2 1.6.1-7.2.2 4.3.1-.7.2 2.5.2-3.7.1-.4.2 5.1.1-.1.2-4.6.2 6.3.1-6.4.2 4.7.1-4.7.2-.5.1.5.2-.7.2 1.3.1-.2.2-.8.1.2.2 4.3.2-.7.1-5.1.2-2 .1 6.5.2-5.6.2 7 .1-.7.2-4.3.1 1.2.2.8.2 3.2.1-6.7.2 3.2.1-2.5.2 5.3.2-6 .1 5.4.2.4.1-4.6.2 4.5.2-4.2.1.5.2-.4.1 3.5.2.8.2-1.9.1 0 .2 3.9.1-5 .2 4.3.2-4.2.1 2.2.2-.4.1-1.6.2-.3.1 4.1.2.4.2-6 .1 3.6.2.9.1-1 .2-1 .2-1.9.1.9.2-.6.1 1.1.2 6.7.2-5.5.1 1.4.2 1.2.1-.4.2-1.1.2-1.6.1 1.2.2 1.8.1-4.6.2 2 .2 1 .1.5.2-2.6.1.1.2-.6.2 3.6.1-.1.2 3.6.1-1.5.2 1 .2-6.4.1 1.8.2-1.9.1 1.7.2-3.1.2 3.7.1 2 .2-6.4.1 5.4.2-2.8.1-4.6.2 3.6.2 1.4.1-5 .2 1.7.1 5.1.2 1 .2-2.7.1 0 .2 3.4.1-1.6.2.5.2 2.9.1-6.4.2 2.2.1-1 .2 4.5.2-7 .1 4.4.2 1.2.1-5.8.2.7.2 0 .1 1.9.2-3.7.1 3.5.2 1.4.2-4.1.1 6.6.2-5.1.1.4.2 5.1.2 2.6.1-4.7.2 3.9.1-4.8.2 3.2.1 3.3.2-1.2.2.9.1-3.3.2 3.7.1-1.4.2-4.8.2 4 .1-1.7.2 2.2.1-3 .2-2.7.2 2 .1 1.2.2.2.1-1.6.2-1.9.2 1.2.1-3.4.2 5.8.1-4.2.2-1.3.2 4.3.1-.9.2-4.1.1 3.4.2-.4.2 1 .1-3.4.2 4.1.1.4.2-2.7.2 5.4.1-.1.2-.8.1-.5.2-2.3.2.9.1-4.8.2.2.1 2.6.2-1.3.1-1.7.2-3.7.2 3.6.1-1.7.2 4 .1.3.2-.7.2 2.2.1-1.7.2-1 .1-2.5.2.1.2-.6.1 1.8.2 2.5.1-3.2.2 3.5.2-2.7.1 2.6.2.2.1-4.9.2 4.8.2 1.4.1-2.1.2-3.6.1 5.3.2-2.5.2-1.2.1 2.3.2-3 .1 1.2.2-1.1.2.8.1 1.8.2-2.3.1-2 .2 3.2.1-3.1.2.4.2.8.1-2.5.2-1.6.1.5.2-.1.2-1.6.1-.1.2-2 .1-1.6.2-.7.2-.2.1.4.2-1.7.1-.1.2.3.2-.2.1.5.2-.4.1-.2.2 1.8.2-.8.1 1.9.2.2.1 1.2.2 1.1.2.6.1.5.2-.8.1.6.2 2.7.2 2.3.1 1 .2-.7.1-.8.2 3 .2 1.8.1.7.2-5 .1 1.7.2 1.1.1.2.2-.8.2 3.1.1 0 .2 1.3.1-3 .2-.6.2 4.4.1-3.7.2-.8.1 3.8.2-3.8.2.4.1 1.9.2-2.3.1 1.6.2 5.2.2-4.3.1-2.1.2 5.7.1-3.1.2 4.3.2-2.4.1-3.2.2 4.1.1-6.7.2 5.7.2-3.5.1.6.2 2.6.1-.2.2-7.3.2 3.3.1 3.8.2-3.8.1-2.4.2 6.8.2-4.8.1 4 .2-.5.1.3.2 3 .1-2.7.2-.8.2-4.1.1 2.5.2 2.5.1-.7.2-2.3.2-2 .1.1.2-2.1.1-.2.2 5.2.2-1 .1 1.3.2-.3.1.9.2-2.4.2-2 .1-.1.2 1.2.1 3.9.2.6.2-3.9.1 2 .2-3.6.1 6.7.2-7.9.2 4.9.1-1 .2-2.2.1 4 .2-6.9.2 3.9.1.7.2.3.1-1.3.2.6.1.8.2-1.8.2-.7.1-2.9.2 2 .1 3.6.2-2.8.2-.5.1-.8.2.9.1 1.7.2.2.2-3.3.1 4.4.2-6.3.1 2.6.2-1.7.2 4.7.1-1.2.2 2.9.1.4.2-.2.2-1 .1 2.2.2-5.2.1 2.3.2-4.1.2 6 .1-5.1.2 4.2.1 0 .2-2 .2 0 .1 2.5.2-4.2.1-1.8.2 1.9.2 1.6.1-.8.2-5.4.1 4.9.2-2.7.1 2.8.2 4.7.2.1.1-4.1.2.6.1 1.7.2-.1.2 1.1.1 1.3.2 2.2.1-5.4.2-2.9.2 2.4.1.4.2.1.1-3.3.2-1.2.2 3.2.1 1.9.2 0 .1-6.1.2 4.6.2-.8.1-1.2.2 2.3.1-3.6.2 6.3.2-3.1.1-3.7.2 0 .1 2 .2-.2.2 3.5.1.2.2.2.1 2.4.2-5.1.1 6.8.2-4 .2-3.1.1 0 .2 5.3.1-4.7.2.6.2-3.4.1 4.2.2-5.6.1 6 .2-6.7.2 5.6.1-3.3.2-.2.1-2.3.2 2.3.2 4.7.1-6.7.2.7.1 7 .2-.9.2 1.1.1 0 .2.6.1-4.9.2 3.7.2-4.1.1 2.1.2-5.1.1 1.9.2-.1.2-.3.1-1.8.2-1.3.1 1.6.2-1.6.2 1.6.1 3.8.2-.1.1 1.3.2.4.1-4.4.2 4.3.2-.8.1.3.2-.1.1.7.2 3.5.2-4.7.1 3.9.2-1.7.1 1.7.2-1.8.2 4.2.1-1.4.2-1.2.1-3.3.2.3.2 1.6.1 4.1.2-3.8.1 3.5.2-3.6.2 2 .1-4 .2-.3.1 6.4.2-2.5.2-4.1.1 1.2.2-1.3.1.8.2 4.6.2-4 .1 4.9.2-7.3.1 4.8.2-3.4.2 4.9.1-4.6.2-.5.1.4.2-2.2.1 6.6.2.2.2-1.6.1-1.4.2-.9.1.7.2 3.7.2-3.9.1 1.4.2-2.7.1 3.2.2-2.9.2-.6.1-1.6.2.7.1-1.2.2 2.8.2 4.1.1-1 .2-.7.1.3.2-1.7.2-1.5.1-.5.2 5.2.1.2.2-1.8.2-1.8.1-1.9.2-1.2.1.2.2 4.7.2-2 .1-.3.2 3 .1 1.4.2-1.9.1 1.4.2-.7.2-.9.1-.3.2-1.5.1 6.4.2-1 .2-2 .1 1.7.2-3.5.1 2 .2.7.2-4.6.1 4.2.2-5.2.1 1.3.2 1.2.2-1.2.1-1.5.2 2.7.1-4.4.2 1.4.2-1 .1.5.2 3.7.1.1.2 1.6.2-2.3.1-.7.2 6.2.1-6.2.2 4.9.2-3.9.1-3.4.2 3.2.1 1 .2 1.1.2-4.6.1-.2.2-.7.1.3.2-.5.1 1.2.2-1.4.2.3.1 1.7.2 1.1.1.9.2-1.8.2 2.2.1-1.1.2-.8.1-4 .2-.1.2-.4.1 2.6.2 1.8.1-1.8.2 3.2.2-3.6.1 3.5.2-1.8.1.8.2 3.6.2-6.4.1 5.4.2-3.8.1 4.6.2-4.8.2 2.7.1-3.6.2 1.6.1.2.2-1.8.2 1.5.1-2.4.2 7 .1-1.7.2-.7.1-.3.2-2.8.2 4.1.1-2 .2 2.9.1 1.7.2-3.9.2 4.3.1-2.6.2-2.3.1.5.2 2.2.2-.2.1 1.4.2-1.7.1 1.1.2-4.5.2 4 .1-.8.2-1 .1 1.1.2 2.8.2-3.5.1.7.2 4 .1-4 .2-2.5.2 3.1.1-.5.2-2.9.1-1.8.2.7.2 4.5.1-.3.2.3.1-1.1.2 1.6.2-1.5.1-2.7.2-.5.1 4.9.2 2.3.1.6.2-5 .2-.6.1 1.4.2-1.5.1 3.8.2-4.8.2 1.6.1-3.1.2 5.2.1-5.7.2 1.5.2-.8.1-2.9.2 4.6.1-3.7.2-1.4.2 3.7.1 1.5.2-1.1.1-.4.2 6.6.2-5.1.1.1.2 5.7.1-2.3.2 1.2.2-2.3.1 2.6.2-.3.1-2.9.2 1 .2-5.2.1.8.2.2.1-.4.2-3.9.2.1.1 4.7.2-5.2.1 2.6.2 4.9.1-6.6.2 4.6.2-1.7.1-2.4.2.4.1 2.2.2-.8.2 4.2.1.9.2-1.2.1-.8.2-1.1.2-2.5.1 5.6.2-2 .1-3.6.2-1.2.2-.4.1 2.3.2.6.1-.5.2-2.2.2-2.7.1.6.2-1.3.1-2.3.2 1.1.2-1.8.1-.4.2-.7.1-.7.2.1.2-1 .1.3.2 1.4.1.1.2 1.3.1-.9.2.2.2 2.4.1 1.6.2-.4.1-.2.2 2.6.2-.2.1 3.4.2 1.4.1 1.5.2-2.6.2 3.3.1-1.1.2-2.2.1 4.1.2-3.5.2 3.1.1.6.2 1.9.1-2.6.2-3.5.2 4.3.1-3.5.2.4.1-1.3.2 1.8.2-2.4.1 0 .2 2.8.1 1.1.2-1 .2-2.3.1 2.4.2-3.6.1 4.6.2-2 .2-.2.1 3.4.2-5 .1 5.5.2-6.2.1 5.3.2-6 .2 4.7.1-.3.2-1.7.1 4.3.2-.2.2-1.3.1-3.9.2 4.4.1-7.5.2 4.4.2-1.4.1 1 .2.5.1 2.8.2-4.2.2-1.1.1 1.2.2-1 .1-.1.2 4.8.2-1.2.1 1.9.2-2.6.1 2.3.2-3.9.2 1.1.1 2.2.2-2.8.1 2.5.2.7.2-3.8.1 4.8.2-1.9.1 1.6.2-3.2.1-3.2.2 4.4.2-4.7.1 3.6.2.9.1-.8.2-3.9.2.6.1 3.2.2-1.2.1-3 .2 4.6.2-6.2.1 3.8.2-.9.1.8.2 2.6.2-.1.1-2.8.2 2.8.1-2.3.2 5.1.2-1.8.1-2.1.2 4 .1-.2.2-2.2.2.9.1 3.3.2 1 .1 1.9.2-.1.2-7.2.1 3.4.2-2.4.1 5.5.2.2.2-6.5.1 3.4.2-5.2.1-1.2.2 3.4.1-2.1.2 3.1.2-2.7.1-.4.2 3.7.1-7.5.2 5.8.2 2.1.1-1.6.2-4 .1 4.7.2-3.2.2-.4.1 3.9.2 1.4.1-1.2.2 1.1.2-5.1.1 4.7.2-1.2.1-2.6.2.9.2-3.6.1 7.3.2-1.4.1.2.2-6.8.2-1 .1 7.1.2-1.8.1-2.9.2-1.6.2-.3.1 2.2.2 4.6.1.5.2-4.1.2 4.9.1-.1.2-3.7.1 2.7.2-3.3.1 1 .2-2.5.2 5.9.1-3.9.2 2.1.1-1.8.2.9.2 3 .1-2.6.2-1 .1-3.7.2 6.2.2-4.4.1 4.5.2-3.5.1-4.5.2 3.7.2.6.1 1.9.2-1 .1-2.5.2 2 .2-3.1.1-1.2.2 4.7.1.9.2-3.9.2.6.1-3 .2 5.4.1.9.2.5.2-3.3.1 2.6.2-3.5.1-.1.2 5.2.1-2 .2-.7.2-3.2.1.6.2 3.9.1 4.1.2-7.4.2 6.2.1 1.9.2-7.4.1 2.1.2-1.2.2 5.7.1-7 .2.3.1-1 .2 7 .2-3 .1-3.3.2 3.1.1 2 .2 0 .2.2.1-5.8.2 4.5.1 3.1.2-3.6.2-1.8.1 5.6.2-1.9.1.8.2.1.2-2.1.1 1.5.2-.4.1-4.6.2.2.2 1 .1 4 .2-.4.1-3.9.2.8.1-.7.2.3.2 5.5.1-1.2.2-1 .1.5.2-1.7.2.1.1-1.7.2 2.7.1-4.9.2 4.9.2-.8.1-5.1.2 4.6.1-4.4.2.4.2 2.9.1-5.3.2 2.4.1 3.1.2 1.3.2-4.3.1-.1.2 3.6.1 1.1.2-.5.2 1.1.1 1 .2-6.8.1.6.2 2.7.2.1.1-4.6.2 1.7.1 2.4.2-1.7.1-1.8.2-1.1.2 6.3.1-4.6.2-.5.1 5.6.2-2.3.2-1.5.1 1.4.2-.1.1-3.9.2 2.5.2 2 .1 1.6.2-6.1.1-.5.2 7.2.2-1.7.1-4.6.2 6.1.1-7.2.2 6.5.2-5.6.1 2.9.2-3.3.1.6.2.4.2 2.3.1.8.2.4.1-2.6.2 2.8.2-3.1.1.4.2 6.1.1-6.1.2 4.5.2-3.5.1 5.9.2-4.6.1 4.3.2-3.4.1-1 .2-1.4.2-1 .1 5.3.2-5.9.1 4.8.2-.7.2-4 .1-3.8.2 5.3.1-.2.2-4.4.2 5.3.1-2.4.2.1.1-1 .2-1.2.2-2.2.1 3.1.2 5.1.1-1 .2-2 .2 5.3.1-1.4.2-4.3.1-1.3.2 4.5.2-2.6.1 1.7.2-2.8.1 0 .2.1.2 3.1.1-3.9.2 5.4.1-.6.2.7.2.4.1-2.7.2 2.5.1-2.8.2-3.3.1.8.2-.8.2 1.7.1-1.1.2 5.5.1-3.5.2-4.2.2 7 .1-5.3.2-.1.1.9.2-2.4.2 7.4.1-2.3.2-3.1.1.9.2-1.9.2 2.1.1-1.8.2 6.3.1-3.2.2-1.4.2.8.1-3.6.2 5.8.1 1 .2-.9.2-3.4.1 2.6.2-3.3.1-1.8.2 4.4.2.5.1-.1.2-.4.1-4.4.2.9.1 3.2.2-3.8.2 5.1.1-5.4.2 2.6.1 1.2.2 1.3.2-2.3.1-4 .2 2.7.1.5.2.2.2.4.1 2.5.2 2 .1-4 .2-1.9.2 3.9.1-3.7.2.5.1-.3.2 2.6.2 4.3.1-5 .2 4.5.1 1.6.2-2 .2 1.5.1-3.9.2 2.1.1-2.4.2.7.2-.7.1.7.2-1.4.1 1.9.2 1.1.2 1.5.1.5.2-5.1.1-.6.2-.4.1 5.6.2-5.8.2 4.6.1-3.4.2-.2.1 5.9.2-1 .2 1.1.1-2.1.2 2.4.1-4.1.2.6.2 1.5.1 2 .2.7.1-.3.2-.6.2-2.7.1 1.8.2 2.5.1-2.6.2-1.6.2.9.1 2.2.2-4.5.1 2.3.2-3.2.2.6.1-1.2.2-3.8.1-.3.2-.4.2.8.1-.8.2 6.1.1-4.8.2 4.1.1 2.4.2-5.6.2 6 .1-.6.2.8.1-3.9.2-2.2.2 2.8.1 2.3.2-7.5.1 6.7.2-3.9.2 1.5.1-1.3.2-1.3.1 1 .2.2.2 4.3.1 1 .2-1.2.1.4.2-4 .2 2.1.1-2.5.2 6 .1-.3.2-3.8.2-.4.1 2.6.2-6.6.1 6.6.2-6 .2 6.7.1-6.6.2 2.7.1 2 .2.5.2-1.1.1 2.8.2-2.9.1 2.7.2 1.8.1-3.4.2 1.6.2 2.8.1-.3.2-1.2.1-4.4.2 1.1.2-.3.1 3.9.2-3.3.1-2 .2 2.6.2-.3.1 2.2.2-6.6.1 2.7.2-.4.2.7.1.9.2-2.7.1.7.2-.2.2 4.4.1-6.6.2 6.4.1-.7.2-3.3.2-4.5.1.1.2-1.3.1-.8.2 4.9.2 1.1.1-2.1.2-5.2.1 7.2.2-3.8.2 4.3.1-2.2.2 1.9.1-5.1.2 1.1.1 1.1.2-1.2.2-.6.1 6.5.2-5.2.1 5.3.2-6.2.2.8.1 1.9.2 1.2.1-.9.2-.4.2 3.5.1.8.2-4.7.1 5.1.2-2.2.2 1.9.1-1.6.2-.1.1 2 .2 4.8.2-1.1.1-1.3.2 2.2.1 1.7.2-.2.2-3.6.1.9.2-3.7.1 4.3.2-1.5.2-.2.1.3.2 4.4.1-6.4.2 6 .1-1.7.2-1 .2-3.2.1 1.6.2-5.3.1-.8.2 0 .2 3.8.1-2.4.2-1.7.1 4.9.2-6.7.2 6.1.1-2.1.2-1.1.1-.1.2 3.7.2-4.2.1-.7.2 4.1.1-.1.2-2.2.2 6 .1-3.5.2-1.9.1-.1.2 2.7.2-1.3.1-2.7.2.6.1 4.4.2-4.6.2-.5.1 5.8.2-5.2.1-.8.2 6.4.2-6.1.1 1.7.2-1.5.1 4.3.2 1.8.1-4.1.2-2.8.2 4.2.1-1.2.2-2.7.1.9.2.6.2-.3.1-2.4.2 1.3.1 2.2.2-1.3.2 2.4.1-.5.2 1.4.1-3.2.2 4.7.2-2 .1-1.4.2-2.4.1 4.4.2-.3.2-3.8.1 3.9.2-4.1.1 6.2.2-4.8.2-1.3.1 5.3.2.5.1-1.9.2.9.2.7.1-4.9.2 2.8.1.1.2 1.6.1-3.3.2 3.9.2-7.2.1 2.2.2-3.1.1 2.6.2-1.8.2-1.2.1 2.9.2-2.1.1 5.1.2.3.2-3 .1-1.6.2.1.1 3.1.2.6.2-2.4.1.5.2 2 .1.2.2 4.4.2-1.6.1.3.2-1.4.1 1.2.2-.6.2-.6.1 2.3.2-3.3.1 4.3.2-3.2.2-3.3.1 3.4.2-2.5.1 2.9.2-5.1.2 4.1.1-2.9.2-1.1.1.4.2 3.1.1-.9.2-1.2.2-3.8.1 3.5.2 1.4.1-.9.2-3.8.2 2.7.1-2.7.2 1.8.1-2.3.2.1.2-2.4.1.6.2-.8.1-1.1.2.5.2.4.1-1.3.2-1.9.1-.1.2-.7.2.6.1.8.2-.8.1-.5.2 1.3.2-1 .1.3.2 1.6.1.5.2.4.2.7.1-1.1.2.4.1.5.2 1.7.2.1.1 2.5.2-3.3.1 1.7.2 2.8.1-1.5.2-.8.2 1.1.1 2.6.2 2.5.1-3 .2 2.7.2-2.9.1 3.9.2-2.6.1 1.3.2-4.9.2 1.8.1-.8.2-1.8.1 5.2.2-2.2.2 1.1.1 1.2.2-3.8.1-.2.2.1.2 2.4.1-5.2.2 4.1.1-5 .2 2.4.2-.8.1 2.1.2 3.2.1-4.4.2.9.2.3.1 1.3.2.8.1-2.8.2-.1.1.8.2-.1.2.8.1 1.2.2 3 .1-6.2.2.4.2 2.5.1 3.4.2-2.5.1-.7.2-.1.2 6.6.1-.1.2-5.1.1 1.2.2 4.1.2-5.1.1 5.1.2-2.3.1-1.9.2.6.2-2.2.1-.3.2 2.4.1-4.5.2 1.4.2 5.1.1-.3.2-4.8.1 3 .2-2.9.2-1.9.1 1 .2 1.5.1-.7.2.3.2-2 .1 4.6.2-4 .1 4.4.2.3.1-.3.2-1.4.2.6.1-2.3.2-5.1.1.5.2-1.5.2 6.5.1-6.3.2 1 .1 1.3.2-1.9.2 2.4.1 4.6.2 0 .1-3.3.2-1.8.2 7.1.1-4.8.2 4.3.1-1 .2.2.2-6 .1 4.3.2.4.1-1.6.2-3.3.2 7 .1-2.4.2-.7.1.4.2-1.7.2-1.4.1 7.1.2-2.5.1 3.3.2-5.2.1-1.6.2 0 .2 3 .1-2.3.2.6.1 6 .2-5.8.2 3.4.1-.2.2 1.6.1-4.4.2 2.5.2.1.1-.8.2-2.8.1 1.8.2.3.2-3.2.1.6.2-.9.1 1.1.2 2.1.2-.3.1-3.2.2 5.2.1-4.3.2 2.1.2-2.4.1 4.5.2 1.2.1-.8.2-1.6.2 3.2.1.5.2-3.7.1.5.2 2.3.2-2 .1-.4.2 3.3.1-7 .2.6.1-.5.2.7.2 3.3.1-3 .2 4.5.1-.4.2-3.4.2 4.1.1-2.2.2.4.1 4.1.2-2.8.2.5.1.9.2-5.2.1 1.6.2 4.1.2-4.4.1 3.5.2-4.6.1-.4.2.5.2.5.1-.4.2 4.7.1-2.4.2-.3.2-3.1.1 4.9.2-3.1.1-.8.2 0 .2 1.8.1-1 .2 1.6.1-4.4.2 1.8.2-2.5.1 2.3.2 5 .1-2.6.2-3.4.1 1.9.2 5.8.2-4 .1 2.8.2 1.6.1-.7.2-1.3.2-4.8.1 1.3.2 0 .1.9.2 1.7.2-5.6.1.6.2 1.2.1.7.2-2.6.2 6.5.1-5.6.2 3.6.1 2.3.2-2 .2-.8.1 1.4.2.6.1-.7.2-4.9.2 4.7.1-2.6.2.5.1-.3.2-.7.2 3.6.1-3.5.2 0 .1-.3.2 1.9.1-1.9.2-1 .2 2.6.1-2.2.2-.8.1 3.6.2-1.1.2-.1.1-3.2.2-.5.1 2.4.2 2.5.2-5.1.1 3 .2-5.8.1.4.2.5.2-1.6.1 2.7.2-.3.1 2 .2-5 .2 1.6.1 4.7.2-4.7.1.3.2 5.4.2-2.3.1-3.6.2 2.6.1.1.2 4 .2-4.9.1-1 .2.9.1 3.5.2 1.8.2-.7.1-1.9.2-2.9.1 4.3.2-.9.1-1.2.2 1.2.2 1.2.1-3.7.2-.3.1.4.2.5.2-1.5.1 1.4.2.2.1.8.2-1.6.2-2.3.1.3.2-.5.1.6.2.8.2.5.1-2 .2 1 .1-1.4.2 1.1.2 2.3.1-1.6.2-.5.1 1.7.2 1 .2 2.7.1.1.2 0 .1 1.8.2-.2.2-4.3.1 3.5.2.2.1-4.2.2 1 .1 4.1.2-1.5.2 1.9.1-1.1.2-4.9.1 2.1.2-.6.2-.8.1 3.3.2-3.5.1 3 .2.7.2-3.3.1 1 .2 5.2.1.3.2-.4.2-3.9.1 2.3.2 3.4.1-3.9.2 1.3.2-1.1.1 1.5.2-3.8.1 3.8.2-3.8.2 3.1.1-1.5.2 1.3.1-3.7.2 1.6.2 2.5.1-2.7.2-.4.1-2.2.2 4.5.2-6 .1 6.2.2-1.6.1 1.9.2 1 .1-5.6.2 3.1.2 1.2.1-3.5.2 4.7.1-4.5.2 6.1.2-3.6.1.8.2-2.5.1 6 .2 0 .2-5.9.1-.3.2-.2.1 6.4.2-4.2.2.7.1.6.2-4.6.1 5.6.2-4.9.2-2 .1 1.1.2-1.5.1 4.5.2-.6.2-1.4.1.4.2-.2.1-.2.2.9.2 3.1.1-.5.2-.7.1-2.1.2-.4.2 4.7.1-4.6.2-.3.1 3.2.2 3.8.1-6.2.2 5.8.2-.2.1-2.8.2 1.3.1 1.9.2-5.2.2 5 .1-.1.2 1 .1-1.7.2-2.9.2 2.5.1-2.2.2 0 .1-3 .2-.4.2 3.8.1-5.1.2 0 .1 3.7.2-1.5.2 5.2.1-3.1.2-.3.1 0 .2-2.1.2.1.1 5.8.2-5.8.1 5.4.2-1.8.2-4 .1 2 .2 3.8.1 1.1.2-1 .1-1.2.2-.4.2-1.1.1-.6.2 2.2.1-1 .2-2.4.2-.2.1 1.4.2.5.1-3.9.2 3.5.2-4.6.1 6.8.2-3.8.1-1.7.2 1.9.2.2.1-1.5.2 1.1.1-.7.2.7.2-2.1.1 2.6.2 1.8.1-1.2.2 2.6.2-5.8.1 3.2.2-.3.1 4.3.2-5.5.2 5.8.1-5.4.2 1 .1 1.2.2-.5.2-1.6.1 1.1.2-.3.1-1.5.2 2.4.1 2.3.2-5.2.2 5.2.1-3.4.2-.5.1 3.1.2-2.9.2 1.9.1-3.5.2.9.1-1.7.2 1.5.2-.4.1.4.2 3.4.1-2.2.2-1.9.2 1.6.1-2.4.2 6.3.1-6.6.2-.6.2.1.1 4.4.2 1.4.1-3.7.2-2.8.2 4.3.1 2 .2-5.7.1 5.5.2-.3.2-2.8.1-2.6.2 5.8.1-1.2.2 2.2.1-4.3.2 7 .2-6.4.1-.6.2 7 .1-.1.2-3.3.2-1.7.1.5.2 1.7.1-3.2.2-1.8.2 3.7.1-2.2.2 3.3.1-2.1.2 3.8.2-6.8.1 2.8.2-1.2.1-1.7.2 6.9.2.5.1-6.3.2 6.2.1-3.9.2-.4.2.9.1-3.9.2 2.4.1 1.1.2-3.7.2.6.1 5.1.2.7.1-3.8.2 4.3.2-4 .1 1.4.2 2.1.1.3.2-1.3.1 1.8.2-.5.2.9.1-3.5.2 4.9.1-3.9.2 1.7.2-4 .1 2.7.2-1.4.1-2.1.2 2.3.2 3.5.1-1.4.2-2.9.1 4.5.2-.3.2-1.9.1-4.5.2.7.1-.2.2-1.6.2-1.9.1-1.6.2-2.4.1-1.8.2-1.1.2.2.1.7.2 0 .1 1.5.2 4.4.2 1.5.1 2.3.2-1.8.1 1.8.2.2.2-2.3.1 3.6.2-3.6.1 5 .2-4.4.1 1.2.2-2.4.2 6.7.1-2.3.2-1.3.1.2.2-1.9.2 1.3.1 2.2.2.9.1-1.2.2-1 .2 3.1.1-3.2.2.8.1-1.2.2 5.4.2.7.1-.8.2-1.4.1-2.7.2 4.6.2-1.6.1 1.7.2-1.4.1-.8.2 1.1.2-.5.1.3.2-4.2.1 1.1.2-.3.2-3.9.1 1.6.2 1.2.1-.1.2-1.5.1.1.2 4.5.2-3.4.1 3.9.2-4.5.1-.1.2 2.9.2 1.1.1-3.8.2 1.6.1 2.9.2 1.3.2-2 .1.4.2-.6.1 1.9.2 1.5.2-2.6.1-2.5.2 6.7.1-.5.2-3.9.2 2.4.1.4.2-.2.1-3.3.2 2.8.2-3.7.1-.1.2-.3.1.6.2-1.8.2 3.7.1-3.3.2 4 .1.3.2-3.7.2-1.9.1 2.1.2-3.8.1 1.3.2 2.5.1-3.4.2-.1.2 3.6.1-5.7.2 5.3.1-2.3.2 1.2.2-4.9.1 3 .2-2.4.1 3.2.2 3.4.2-.6.1-1.6.2-3.1.1 2 .2 4.8.2-2.3.1-1.4.2.7.1 4 .2-3.1.2-2.1.1.6.2-.5.1 3.7.2-1.2.2 2.2.1-3.1.2 2.3.1-.5.2-4 .2-2.1.1 6.3.2-6.2.1 5.2.2-4.4.1 5.6.2.1.2-.2.1-1.8.2-1.4.1-.2.2.1.2 3.8.1-4.2.2 5.7.1-2.7.2 1.8.2 1 .1-1.8.2-1.5.1-1.8.2-1.2.2 3.8.1-2.8.2 3 .1-1.1.2-.8.2 1 .1-1 .2-3.7.1 4.3.2-.1.2-3.3.1 5.4.2-3 .1-3.6.2-.3.2 1.4.1.8.2 2.1.1 1.7.2-1.3.2-2.2.1 4.1.2 1.4.1-1.4.2-2.3.1 3 .2-4.5.2 5.2.1-.8.2-4.2.1 2 .2-.3.2-4.5.1 3.3.2-1.4.1-3.1.2.9.2 2.3.1-1.9.2 3.1.1 2.2.2-.8.2.2.1.2.2-.1.1-3.2.2 3.3.2.6.1 1.3.2.7.1-4.4.2 4.2.2-3.9.1-2.4.2 5.9.1-7 .2 3.7.2 1 .1.6.2 2 .1-2.4.2 1.3.2-.6.1 2.8.2-3.4.1-.9.2.3.1 2 .2-2.3.2-.3.1 3.2.2 1.6.1-5 .2-1.6.2 1.3.1-1.9.2 3.5.1-3.6.2 1.7.2 2.1.1-4.3.2 4 .1-4.2.2-1.5.2 1.7.1 3.7.2 0 .1-2.6.2.2.2-1.8.1.8.2-1 .1 4.6.2-2.8.2 1 .1-2.6.2 5.8.1-3.6.2 5 .2-1.8.1-3 .2 4.6.1-5.1.2 2.2.1 4.6.2-3.1.2-1 .1.8.2-2.9.1 2.1.2 1.8.2-4.6.1 2.2.2.7.1 1.8.2-4.7.2 1.3.1.5.2 1.5.1 1.5.2-2.9.2 1 .1-3.3.2 7.4.1-.3.2-5.3.2-.5.1.4.2 6.1.1-.2.2-2.7.2-1.7.1 3.1.2-5.1.1 2.4.2 4.1.2-6.7.1 2.1.2-3 .1 6.3.2-2.9.2 2 .1-2.8.2-3.1.1.1.2 1 .1-2.5.2 1.5.2-1.8.1 4.2.2.4.1-1.1.2-4.3.2 5.4.1-2.1.2-2.1.1-.7.2 2.2.2-1.3.1 3.5.2-5.5.1.8.2 4.6.2-3.5.1-1 .2 4.8.1-1 .2-2.1.2-.7.1 1.1.2 4 .1-4.7.2 1.6.2 1.2.1-1.5.2 4.9.1-5.6.2 4.5.2 2.7.1-6 .2 2.6.1 3.5.2-3.6.1 2.3.2-1.1.2-.9.1.9.2.5.1 2.6.2-4.5.2 1.8.1-.5.2-2.9.1.7.2-1.9.2.5.1 2.8.2 3.4.1-6.2.2-.2.2 3.5.1 1.9.2-.7.1-3.3.2 4 .2-2.3.1 3.6.2-5.4.1 3.8.2-.5.2-4.5.1 5.6.2-1.5.1-2.3.2 3.2.2-4.7.1.7.2.1.1 2 .2-.5.2 2.7.1 1 .2-6.4.1 4.9.2.6.1-.9.2.8.2-.8.1-1.3.2-3.2.1 1.9.2-1.8.2 2.6.1-.8.2 1.2.1-.6.2-1.7.2-3.1.1 5.2.2-.4.1-.4.2-4 .2 1.8.1 1.9.2-3.7.1 4.1.2-2.9.2.1.1-2.8.2 2.7.1-3.3.2 3.1.2-3.4.1 1.9.2-.4.1.3.2-1.6.2-1.8.1 0 .2-.6.1.5.2.1.2-.6.1-.3.2.1.1 0 .2-.5.1-1.1.2-1 .2-.4.1-.5.2.4.1.1.2-1.8.2-.3.1.4.2-.5.1-1.1.2-.1.2.9.1-.9.2-.2.1-.8.2.3.2 0 .1-.1.2.3.1.1.2 0 .2.2.1-.5.2 0 .1.6.2.2.2-.1.1 1.2.2-.2.1-.7.2 1.2.2.9.1 0 .2.9.1 0 .2.8.1-.3.2.6.2 0 .1 1.5.2.6.1-.8.2-.1.2 1.9.1 1.3.2-.8.1 0 .2-.5.2 1.1.1 1.3.2-.6.1.7.2-.1.2-1 .1 1.5.2 2 .1-1 .2-1.8.2 2.4.1-2.9.2 2 .1 2.4.2-1.7.2.6.1-.2.2-1.5.1 3.6.2-2.3.2.7.1-1.5.2 2.2.1-3.2.2 1.1.2 2 .1.9.2-.1.1-3.6.2 2.3.1 1.1.2-1.2.2-.7.1 2.2.2.4.1-2.6.2 5.4.2-4.6.1 1.2.2 3 .1-4.2.2 5.9.2-.2.1-3.4.2 2.9.1-2.3.2-1.7.2 4.1.1-3.9.2-.4.1.6.2.3.2 1.2.1-5.5.2 5.3.1 1 .2.6.2-2.8.1-2.1.2 1.7.1 0 .2 4.6.2-2 .1-1.8.2 1.6.1-.9.2 3.6.1.8.2-.8.2-5 .1 4.5.2-5.9.1 3 .2-3.4.2 0 .1 2.6.2-1.6.1-3.1.2 3.1.2-1.8.1 2.2.2-2.8.1 6.8.2-.3.2 0 .1-4.3.2.2.1 2.8.2-3.1.2 5.7.1-2.7.2-1.6.1-1.1.2 3.7.2-3.8.1 4 .2-5 .1.2.2 4.5.2-1.5.1.7.2-.6.1-2.6.2 1.5.2-2.3.1-1.7.2 3.3.1 1.5.2-3.6.1-.9.2 4.1.2-1 .1 1.2.2-1.9.1 1.5.2-.4.2-1.4.1-2.7.2 2.8.1-5.3.2 3 .2 1.8.1-4.7.2.1.1 3.7.2 4 .2-3.1.1 1 .2-1 .1 5.2.2-1.3.2-.5.1.9.2.5.1-2 .2-.6.2 1 .1-1.5.2 5.5.1-.4.2-1.6.2-.2.1 1.3.2-1.2.1.8.2-4.4.2 5 .1-5.2.2 1.6.1-1 .2 4.8.1-1.1.2 2.4.2-.9.1 1.2.2-.7.1-2 .2 4.5.2 1.1.1-3.8.2 4 .1-1.7.2-2.3.2-3.5.1 4 .2-6.9.1 0 .2 3.7.2-.2.1-1.4.2-1.7.1 2.6.2.2.2-5.4.1-.9.2 3.5.1-4 .2 3.8.2-3.7.1-.6.2 4.4.1-5.3.2.3.2 4.2.1 1.4.2-1.8.1 1.1.2-.4.1-1.3.2 4.5.2-5.8.1 1.8.2 1.3.1 2.6.2-1 .2.3.1 1.8.2.1.1-5.3.2 6.1.2-4 .1 1 .2-2.3.1 5.6.2-6 .2 3.6.1-2.3.2 2 .1 1 .2-4.4.2 1.2.1 1.4.2 3.8.1-2.1.2 2.4.2-2.3.1-1 .2 1.6.1 3.8.2-3 .2.8.1.6.2-4.3.1 1.4.2.8.2 5 .1-4.6.2 3.3.1.3.2-4.9.1 5.5.2.4.2-4.2.1-2.5.2 3.7.1-2 .2 1.7.2-.3.1-3.4.2 2.1.1.4.2-3.9.2 3.9.1-5.2.2 5.6.1-6.7.2 3.6.2 2.3.1.1.2-1.7.1 3.1.2-6.9.2 3 .1.6.2-2.2.1-1.2.2-.2.2.2.1-.8.2 0 .1 2 .2 2.3.2-4 .1 3.6.2-4.6.1.4.2-.9.1 7.2.2-4.2.2.5.1-1 .2 2.9.1-4 .2 2.2.2.5.1.7.2.7.1.4.2.7.2 1.3.1-5.9.2 3.7.1-.3.2-2.3.2 2.8.1-.6.2 1.2.1-5.1.2 4.6.2-5.1.1.6.2.5.1 2.3.2-3.9.2.9.1-.4.2-.3.1 2.9.2-3.7.2 5.4.1-1.7.2.9.1-.8.2 3.1.2 1.3.1-.1.2-2.4.1-1.8.2 1.3.1-.4.2.8.2-2.1.1-.7.2.4.1-2 .2-1.8.2-2.2.1-2.7.2-.5.1-2.5.2-1.9.2-2.6.1-1.7.2-.8.1-1.9.2-.4.2.2.1.6.2 1.2.1 1.5.2 1.3.2 2.1.1 2.4.2.6.1 2.8.2 3 .2.1.1 3 .2-.7.1 4.1.2-1.2.2 1.1.1.3.2-2.6.1 3.2.2 3 .2-.8.1-.2.2-3.1.1-.8.2-1.1.1.8.2 2.9.2-4 .1 1.7.2-1.8.1 1.9.2-.2.2-.5.1 5.5.2-.2.1-4.1.2 1.4.2-3.8.1 4.1.2-.4.1-5.6.2 5.4.2-4.6.1-.3.2 3 .1-3.1.2 6 .2-6.7.1-.1.2.8.1 4.7.2-3.4.2-.9.1-.5.2 6.9.1-1.6.2-4.3.2-.8.1 6.1.2-2.8.1-.4.2 4.4.1-3.1.2 3 .2-5.9.1 4.6.2 1.2.1.9.2-3.3.2-.7.1 2.9.2 3.8.1-3 .2-1.6.2 4.9.1-1 .2.7.1-5.9.2 3 .2-1.6.1-1.8.2 4.2.1-5.9.2-.7.2 5.3.1-3.7.2-2.8.1-.2.2 2.9.2-2.3.1 2.6.2-1.8.1-1.7.2 2.3.2 2.6.1-4.2.2 6.4.1-6.3.2 4.7.2 1.6.1-1.5.2-2.6.1 4.8.2-3.2.1 2.2.2 2.3.2-.3.1-.2.2-.8.1 1.7.2-2.7.2-2.3.1 5.2.2-3.5.1-.8.2 3.6.2-.2.1-5.3.2-.9.1.6.2 5.8.2-4.1.1 1 .2 2.4.1-4.8.2-1.2.2 3.3.1-.8.2-3.9.1 3.4.2-1.6.2 1 .1 3.1.2-3.2.1.6.2.8.2-2.5.1 1.7.2-2.6.1.5.2 3.6.1.2.2-1.5.2-1.2.1-.1.2-1.9.1 4.9.2-5.5.2.8.1-.7.2.8.1 0 .2 2.8.2-.5.1-2 .2-1.5.1 1.4.2 3.9.2-1.5.1-2.3.2 2 .1-1.9.2.7.2-1.1.1-1.9.2 3.1.1 1.7.2-1.8.2.4.1-3 .2 5.7.1-2.8.2-.7.2-2.7.1 2.2.2.7.1-.2.2-4 .2 4.4.1-2.6.2-2.3.1 5.4.2-2.1.1-1.8.2-.3.2 4.6.1 1 .2-2.2.1-1 .2 3.9.2-3.9.1 3.4.2-3.7.1 1.1.2 1.3.2-2.7.1-.3.2 2.9.1-2.1.2 3.5.2 4.2.1-1.1.2-3.6.1.4.2 4.2.2 2.8.1-2.4.2 1.6.1.9.2-6.3.2 6.5.1-2.6.2-.8.1.8.2-1.7.2 2 .1-4.2.2-.7.1-.2.2 4 .2 1 .1-3.4.2 3.7.1-.8.2-2.1.1 1.4.2-1.3.2 1 .1-4.2.2 3.5.1-2 .2 1.6.2.3.1.6.2 1.4.1 1.1.2-5.2.2 4.5.1 1 .2.5.1-4.3.2-2.3.2 4.6.1.4.2.9.1-5.1.2-.5.2.5.1-3.1.2 3.5.1-2.2.2 5.5.2-6.1.1 4.3.2 2.1.1-4.8.2 1.5.2-2.2.1 5.8.2-5 .1-.6.2-.2.1 1.8.2-2 .2 4.9.1-.9.2 1.1.1-2 .2-4.3.2-.9.1 2.2.2-.8.1 2.7.2-.5.2-3.5.1 5.2.2-.3.1-.7.2-4 .2 1.9.1-1.2.2-.9.1-1.5.2 4.3.2 1.8.1-.2.2-6 .1 1.8.2 2.3.2 1.9.1-4.5.2 5.3.1.8.2-4 .2 2.8.1-5.8.2 5 .1-3.5.2 1.5.2-1 .1-.4.2-.2.1-1.6.2 1.8.1 2.4.2-5.2.2 3.7.1-4.4.2.7.1 6 .2-6.3.2 5.8.1.8.2-.7.1 1 .2.4.2-.9.1 1.3.2 1.1.1-.8.2 1.2.2-6 .1 4.9.2-5.1.1 2.8.2 1.5.2-.3.1-3.9.2-1.2.1 3.1.2-.5.2-2.4.1 5.6.2-3.5.1 4.2.2-1 .2-4 .1 1.9.2 1.5.1.2.2 2.8.1-2.4.2 2.3.2-2.9.1-.1.2-4.1.1 3.9.2-2.5.2-1.4.1 4 .2 1.1.1-5.5.2 3.6.2-4.5.1 3.7.2-1.5.1 4.8.2-6.7.2 6.7.1-4.2.2 3 .1.1.2 1.8.2-1.8.1 3 .2-6.6.1 4.3.2-2.7.2-2.6.1 1.6.2-.5.1 1.6.2-2.4.2-1.2.1 3.3.2-4.3.1 3.5.2-2.4.2.9.1 3.4.2-2.8.1 2.1.2-2.7.1 4.4.2-4.8.2 5.3.1-.1.2-.6.1-1.2.2.1.2-2.8.1-.6.2 2.1.1-1.2.2 1.9.2-5.4.1 3.4.2-1.2.1 1.2.2-.8.2 0 .1-4.2.2 3.1.1-.7.2-1.3.2 4.4.1-5.1.2.2.1 4.1.2.5.2 2.1.1-3.8.2 1.1.1 4.8.2-6 .2 2.8.1-1.8.2 6.5.1-4.6.2 5.3.2.6.1 0 .2-3.4.1 1.7.2-1.8.1-3.7.2 1.5.2 1.5.1-2.8.2.2.1.6.2-5.1.2 1.6.1-3.1.2 3.7.1-3.7.2 2.4.2-.9.1-1.7.2 6.4.1-4.6.2 4.2.2-4.3.1.5.2 0 .1 2.3.2 5.6.2-1.9.1 2 .2-2.4.1-2.3.2 4.1.2-4.1.1 1.5.2 2.6.1-3.3.2 4.9.2-.1.1.3.2-6.7.1 4.7.2-4.1.1 2.4.2 3.9.2.1.1.8.2-2.6.1-2 .2-1.2.2 1.1.1 1.4.2-3.5.1 4.3.2-1 .2 0 .1-4.5.2 5.2.1-2.8.2.1.2 3.8.1-.1.2-1.4.1-6.7.2 2.3.2 2.8.1-4.4.2.3.1-1.4.2.4.2.2.1 4.5.2-6.7.1 3.9.2 2.7.2.7.1-1.6.2-2 .1 3.3.2-1.9.2 1 .1 3.8.2-.1.1-.4.2-.5.1 4.2.2-5.5.2 1.2.1.9.2 1 .1 3.5.2-6.5.2 1.9.1 3.1.2-3.5.1 3.1.2-.9.2-4 .1.2.2.7.1 1.5.2-6.4.2-.4.1 5.7.2-3.6.1-1.5.2 3.8.2-4.5.1.4.2.9.1 3.3.2-.4.2 1.3.1-1.8.2-.5.1 1.1.2 3.6.2.7.1-2.1.2 3.1.1-5.5.2 1.1.1 3.2.2-.2.2-3.1.1-.1.2-2.9.1-1 .2.6.2 2.2.1 1.9.2-.3.1 1.1.2 1.6.2-3.1.1-2.7.2 2.9.1 2.8.2 1.8.2-3.6.1-3.6.2 4.9.1.2.2-1.7.2 2.7.1-4.2.2 3.5.1-2.5.2 0 .2-3.1.1.9.2-1.6.1 1.7.2-4.4.2-.1.1 1 .2-1.7.1 6.4.2-3.2.2 2.4.1-3.1.2 2.1.1 1.6.2-5.2.1 1.8.2 2.1.2-.3.1-2.7.2 6.3.1.5.2-3 .2 2 .1-1.7.2 2.1.1-4.6.2 0 .2 1.5.1 1.2.2 4.1.1-1.4.2-4.7.2 3.1.1.9.2-5.1.1 1.9.2 3.8.2-3.8.1-.4.2-.3.1-.1.2-.3.2-.1.1 1.9.2-3.8.1 2.2.2.1.2.1.1 0 .2-3.8.1 5.7.2-1.3.2 1.6.1-2.7.2-1.2.1.5.2.4.1-1.5.2 4.7.2-3.9.1 3.2.2-4.9.1 2.2.2 2.5.2-.2.1-3 .2 0 .1.9.2 1.8.2-3.6.1.9.2 2 .1-.5.2-1.7.2-.2.1.9.2-2.9.1 1 .2-1.9.2-.4.1-.4.2 1.4.1-.5.2-.9.2 1.5.1-1.3.2 1.7.1-1.3.2 1 .2.1.1-2.2.2 1 .1-.4.2 2.4.1 1.9.2-1.6.2-.2.1-.1.2.6.1 3.8.2-2.1.2 3.1.1-3.4.2 6.1.1-5.7.2 1.9.2 3.3.1-4.1.2 2.8.1-4.1.2-1 .2 3.3.1.8.2-4.3.1 4.9.2-2.7.2 4.8.1-5.9.2 5.2.1.9.2-4.3.2 4.7.1-3.4.2 2.8.1 2.9.2 0 .2-2.7.1 3.7.2-3.6.1-3.1.2 4.3.2-.3.1.9.2-4.3.1 3.7.2 1.2.1-6.1.2.4.2 1.5.1 3.9.2-6.2.1 2.6.2.2.2-.3.1-2.3.2 4.9.1-5.6.2 1.2.2 4.5.1-.3.2-7.1.1 4 .2 1.2.2-3.1.1-1 .2.1.1-4.6.2 6 .2-3.7.1-2.9.2 4.7.1.3.2-4.8.2 2.4.1.7.2 2.7.1-1.9.2 1.3.2-.8.1.2.2 1.8.1 2.5.2-2.8.1 1.3.2.6.2.8.1-4 .2.3.1 3.3.2 3.2.2-4.4.1 4.4.2-6.2.1 4.5.2-.9.2-1.8.1-2.7.2 0 .1 1.6.2 3.2.2-.7.1 1 .2-6.2.1 6.6.2-7 .2 5 .1-1.2.2.6.1-1.8.2-.1.2-1.3.1-1.1.2 2.3.1.9.2-.4.2-3.3.1 1 .2-.8.1 5 .2-3.1.2-.7.1.6.2 3 .1-4.8.2 4.8.1-1.4.2-2 .2 3.9.1-1.7.2-3.7.1 4.7.2 1.5.2-5.8.1 5.9.2-4.2.1 2.7.2 2.9.2-4.1.1-.1.2 5.6.1-6.1.2 1 .2.3.1 3.1.2-4 .1-.1.2-1.5.2.5.1-1.5.2-.5.1.7.2.4.2-1.6.1.3.2 3.6.1-.3.2-.7.2-.4.1 1.8.2-2.2.1 1.5.2 1.6.2-3.5.1-.6.2 3 .1-2.7.2 6.5.1-1.4.2-2.8.2-.2.1-.7.2 5.4.1.5.2-4.1.2.2.1 1 .2-1.8.1 3.9.2-5.5.2 1.8.1-2.6.2 1.2.1 2.2.2 2.3"/></g>
<g fill="#000"><path d="M632.40,845.90 L640.24,870.01 L664.10,870.50 L645.08,884.92 L652.91,909.03 L632.40,894.13 L611.89,909.03 L619.72,884.92 L600.70,870.50 L624.56,870.01 Z"/><path fill-rule="evenodd" d="M699.90,966.90 L756.90,966.90 L728.30,1013.90 Z M704.69,969.60 L752.10,969.60 L728.31,1008.69 Z"/><circle cx="762.60" cy="1224.70" r="22.85" fill="none" stroke="#000" stroke-width="2.7"/><circle cx="806.70" cy="1262.80" r="22.95" fill="none" stroke="#000" stroke-width="2.7"/><path d="M822.00,1309.05 L839.00,1330.20 L822.00,1351.35 L805.00,1330.20 Z"/><path fill-rule="evenodd" d="M952.10,1095.00 L998.90,1095.00 L998.90,1142.90 L952.10,1142.90 Z M954.80,1097.70 L996.20,1097.70 L996.20,1140.20 L954.80,1140.20 Z"/><path fill-rule="evenodd" d="M1228.80,1262.50 L1284.00,1262.50 L1256.40,1307.80 Z M1233.61,1265.20 L1279.19,1265.20 L1256.40,1302.61 Z"/><path d="M641.50,647.80 L649.34,671.91 L673.20,672.40 L654.18,686.82 L662.01,710.93 L641.50,696.03 L620.99,710.93 L628.82,686.82 L609.80,672.40 L633.66,671.91 Z"/><path fill-rule="evenodd" d="M698.20,529.00 L754.40,529.00 L726.30,575.20 Z M703.00,531.70 L749.60,531.70 L726.30,570.00 Z"/><circle cx="752.90" cy="642.40" r="20.75" fill="none" stroke="#000" stroke-width="2.7"/><circle cx="785.00" cy="684.30" r="20.75" fill="none" stroke="#000" stroke-width="2.7"/><path d="M830.90,722.80 L847.90,744.30 L830.90,765.80 L813.90,744.30 Z"/><path fill-rule="evenodd" d="M925.30,716.30 L971.80,716.30 L971.80,763.40 L925.30,763.40 Z M928.00,719.00 L969.10,719.00 L969.10,760.70 L928.00,760.70 Z"/><path fill-rule="evenodd" d="M1075.00,665.10 L1121.90,665.10 L1121.90,712.60 L1075.00,712.60 Z M1077.70,667.80 L1119.20,667.80 L1119.20,709.90 L1077.70,709.90 Z"/><path fill-rule="evenodd" d="M1228.70,505.80 L1284.40,505.80 L1256.50,550.30 Z M1233.57,508.50 L1279.52,508.50 L1256.50,545.21 Z"/><path d="M663.30,286.70 L671.14,310.81 L695.00,311.30 L675.98,325.72 L683.81,349.83 L663.30,334.93 L642.79,349.83 L650.62,325.72 L631.60,311.30 L655.46,310.81 Z"/><path fill-rule="evenodd" d="M700.30,199.10 L756.50,199.10 L728.40,245.40 Z M705.10,201.80 L751.70,201.80 L728.40,240.20 Z"/><circle cx="760.50" cy="303.80" r="23.00" fill="none" stroke="#000" stroke-width="2.7"/><circle cx="801.40" cy="268.00" r="22.85" fill="none" stroke="#000" stroke-width="2.7"/><path d="M833.00,330.05 L850.00,351.30 L833.00,372.55 L816.00,351.30 Z"/><path fill-rule="evenodd" d="M904.20,204.00 L950.70,204.00 L950.70,251.80 L904.20,251.80 Z M906.90,206.70 L948.00,206.70 L948.00,249.10 L906.90,249.10 Z"/><path fill-rule="evenodd" d="M1011.00,233.00 L1057.80,233.00 L1057.80,280.60 L1011.00,280.60 Z M1013.70,235.70 L1055.10,235.70 L1055.10,277.90 L1013.70,277.90 Z"/><circle cx="1839.00" cy="98.00" r="17.25" fill="none" stroke="#000" stroke-width="3.3"/><path fill-rule="evenodd" d="M1822.20,169.10 L1855.60,169.10 L1855.60,202.50 L1822.20,202.50 Z M1825.50,172.40 L1852.30,172.40 L1852.30,199.20 L1825.50,199.20 Z"/><path fill-rule="evenodd" d="M1817.10,261.10 L1860.70,261.10 L1838.90,299.60 Z M1822.76,264.40 L1855.04,264.40 L1838.90,292.90 Z"/><path d="M1839.00,341.10 L1843.87,356.09 L1858.71,356.40 L1846.88,365.36 L1851.75,380.36 L1839.00,371.09 L1826.25,380.36 L1831.12,365.36 L1819.29,356.40 L1834.13,356.09 Z"/><path d="M1841.00,416.00 L1857.85,437.10 L1841.00,458.20 L1824.15,437.10 Z"/></g>
<g><rect x="297" y="45" width="6" height="1425" fill="#000"/><rect x="297" y="45" width="1761" height="6" fill="#000"/><rect x="2051" y="45" width="7" height="1435" fill="#000"/><rect x="297" y="1463" width="1761" height="7" fill="#000"/><rect x="303" y="1345.29" width="11" height="6" fill="#000"/><rect x="303" y="1227.08" width="25" height="6" fill="#000"/><rect x="303" y="1108.88" width="11" height="6" fill="#000"/><rect x="303" y="990.67" width="25" height="6" fill="#000"/><rect x="303" y="872.46" width="11" height="6" fill="#000"/><rect x="303" y="754.25" width="25" height="6" fill="#000"/><rect x="303" y="636.04" width="11" height="6" fill="#000"/><rect x="303" y="517.83" width="25" height="6" fill="#000"/><rect x="303" y="399.62" width="11" height="6" fill="#000"/><rect x="303" y="281.42" width="25" height="6" fill="#000"/><rect x="303" y="163.21" width="11" height="6" fill="#000"/><rect x="297.00" y="1470" width="6" height="23.5" fill="#000"/><rect x="456.50" y="1470" width="6" height="10" fill="#000"/><rect x="616.00" y="1470" width="6" height="23.5" fill="#000"/><rect x="775.50" y="1470" width="6" height="10" fill="#000"/><rect x="935.00" y="1470" width="6" height="23.5" fill="#000"/><rect x="1094.50" y="1470" width="6" height="10" fill="#000"/><rect x="1254.00" y="1470" width="6" height="23.5" fill="#000"/><rect x="1413.50" y="1470" width="6" height="10" fill="#000"/><rect x="1573.00" y="1470" width="6" height="23.5" fill="#000"/><rect x="1732.50" y="1470" width="6" height="10" fill="#000"/><rect x="1892.00" y="1470" width="6" height="23.5" fill="#000"/><rect x="2051.50" y="1470" width="6" height="10" fill="#000"/></g>
<g><text x="267.9" y="1486.5" text-anchor="end" font-size="69.7" letter-spacing="-2">0</text><text x="267.9" y="1250.1" text-anchor="end" font-size="69.7" letter-spacing="-2">1000</text><text x="267.9" y="1013.7" text-anchor="end" font-size="69.7" letter-spacing="-2">2000</text><text x="267.9" y="777.2" text-anchor="end" font-size="69.7" letter-spacing="-2">3000</text><text x="267.9" y="540.8" text-anchor="end" font-size="69.7" letter-spacing="-2">4000</text><text x="267.9" y="304.4" text-anchor="end" font-size="69.7" letter-spacing="-2">5000</text><text x="267.9" y="68.0" text-anchor="end" font-size="69.7" letter-spacing="-2">6000</text><text x="299.0" y="1565.2" text-anchor="middle" font-size="69.7" letter-spacing="-1.5">0</text><text x="618.0" y="1565.2" text-anchor="middle" font-size="69.7" letter-spacing="-1.5">20</text><text x="937.0" y="1565.2" text-anchor="middle" font-size="69.7" letter-spacing="-1.5">40</text><text x="1256.0" y="1565.2" text-anchor="middle" font-size="69.7" letter-spacing="-1.5">60</text><text x="1575.0" y="1565.2" text-anchor="middle" font-size="69.7" letter-spacing="-1.5">80</text><text x="1894.0" y="1565.2" text-anchor="middle" font-size="69.7" letter-spacing="-1.5">100</text><text x="991" y="1677.6" font-size="76" letter-spacing="-1.0">2Theta/(°)</text><text transform="translate(76,985.5) rotate(-90)" x="0" y="0" font-size="76" letter-spacing="-0.7">Intensity / cps</text><text x="1536" y="465.6" font-size="60.5" font-weight="bold" letter-spacing="-1.2">28 Day</text><text x="1539" y="868.8" font-size="60.5" font-weight="bold" letter-spacing="-1">7 Day</text><text x="1526" y="1440.4" font-size="60.5" font-weight="bold" letter-spacing="-1">3 Day</text><text x="1921.5" y="118.4" font-size="61.2"><tspan dy="0">C</tspan><tspan font-size="42" dy="16.3">3</tspan><tspan dy="-16.3">S</tspan></text><text x="1921.5" y="207.0" font-size="61.2"><tspan dy="0">C</tspan><tspan font-size="42" dy="16.3">2</tspan><tspan dy="-16.3">S</tspan></text><text x="1921.4" y="294.7" font-size="61.2"><tspan dy="0">SiO</tspan><tspan font-size="42" dy="16.3">2</tspan></text><text x="1921.5" y="383" font-size="61.2">CH</text><text x="1873.2" y="456.1" font-size="61.2"><tspan dy="0">CaCO</tspan><tspan font-size="42" dy="16.3">3</tspan></text></g>
</svg>
</body></html>
